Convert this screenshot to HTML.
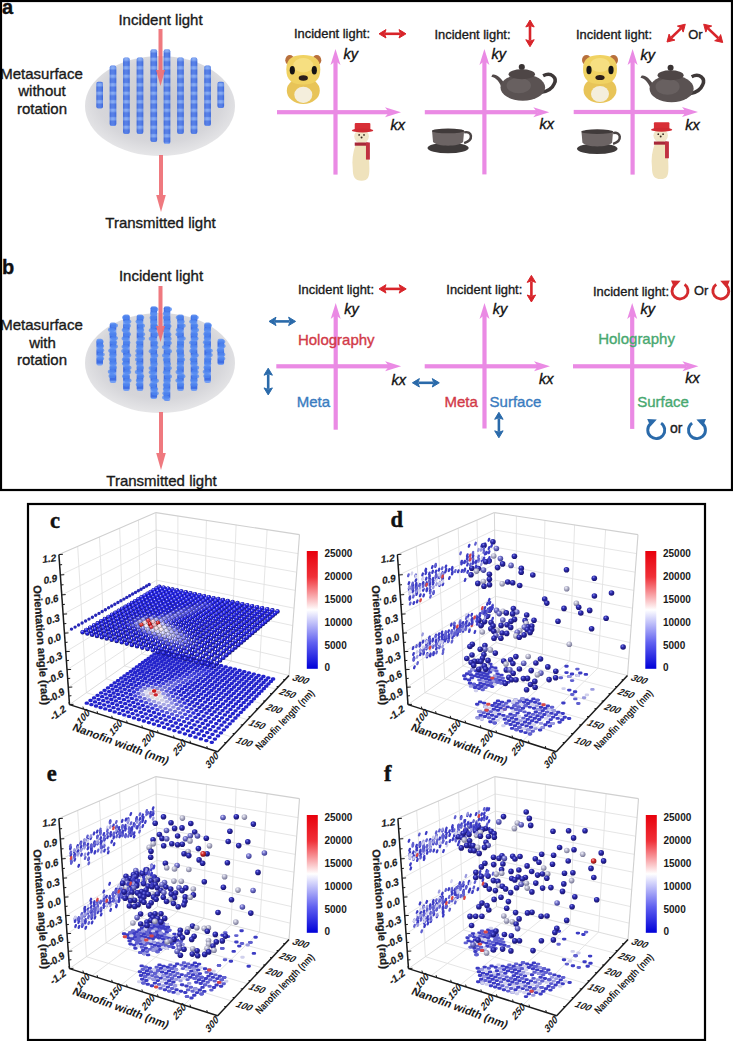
<!DOCTYPE html><html><head><meta charset="utf-8"><style>html,body{margin:0;padding:0;background:#fff;}body{width:733px;height:1041px;overflow:hidden;position:relative}svg{position:absolute;left:0;top:0}</style></head><body>
<svg width="733" height="1041" viewBox="0 0 733 1041">
<defs>
<radialGradient id="disc" cx="50%" cy="45%" r="55%"><stop offset="0" stop-color="#c9c9cf"/><stop offset="0.75" stop-color="#d6d6da"/><stop offset="1" stop-color="#e6e6e8"/></radialGradient>
<pattern id="pill" width="9" height="8.5" patternUnits="userSpaceOnUse" y="2"><rect width="9" height="8.5" fill="#3f6ee4"/><rect y="4.6" width="9" height="3" fill="#76a0f4"/><rect y="7.6" width="9" height="0.9" fill="#5a86ea"/></pattern>
<linearGradient id="pillshade" x1="0" y1="0" x2="1" y2="0"><stop offset="0" stop-color="#2a50c0" stop-opacity="0.35"/><stop offset="0.45" stop-color="#ffffff" stop-opacity="0.12"/><stop offset="1" stop-color="#2a50c0" stop-opacity="0.3"/></linearGradient>
</defs>
<rect width="733" height="1041" fill="#fff"/>
<ellipse cx="160" cy="106" rx="75" ry="50" fill="url(#disc)"/>
<rect x="96.4" y="81.8" width="6.6" height="26.6" fill="url(#pill)" rx="2"/>
<rect x="96.4" y="81.8" width="6.6" height="26.6" fill="url(#pillshade)" rx="2"/>
<rect x="109.7" y="65.5" width="6.6" height="60.5" fill="url(#pill)" rx="2"/>
<rect x="109.7" y="65.5" width="6.6" height="60.5" fill="url(#pillshade)" rx="2"/>
<rect x="123.1" y="57.4" width="6.6" height="76.6" fill="url(#pill)" rx="2"/>
<rect x="123.1" y="57.4" width="6.6" height="76.6" fill="url(#pillshade)" rx="2"/>
<rect x="136.7" y="57.4" width="6.6" height="76.6" fill="url(#pill)" rx="2"/>
<rect x="136.7" y="57.4" width="6.6" height="76.6" fill="url(#pillshade)" rx="2"/>
<rect x="150.5" y="49.3" width="6.6" height="92.7" fill="url(#pill)" rx="2"/>
<rect x="150.5" y="49.3" width="6.6" height="92.7" fill="url(#pillshade)" rx="2"/>
<rect x="163.7" y="49.3" width="6.6" height="94.7" fill="url(#pill)" rx="2"/>
<rect x="163.7" y="49.3" width="6.6" height="94.7" fill="url(#pillshade)" rx="2"/>
<rect x="177.2" y="57.4" width="6.6" height="76.6" fill="url(#pill)" rx="2"/>
<rect x="177.2" y="57.4" width="6.6" height="76.6" fill="url(#pillshade)" rx="2"/>
<rect x="190.7" y="57.4" width="6.6" height="76.6" fill="url(#pill)" rx="2"/>
<rect x="190.7" y="57.4" width="6.6" height="76.6" fill="url(#pillshade)" rx="2"/>
<rect x="204.3" y="65.5" width="6.6" height="60.5" fill="url(#pill)" rx="2"/>
<rect x="204.3" y="65.5" width="6.6" height="60.5" fill="url(#pillshade)" rx="2"/>
<rect x="217.5" y="81.8" width="6.6" height="26.2" fill="url(#pill)" rx="2"/>
<rect x="217.5" y="81.8" width="6.6" height="26.2" fill="url(#pillshade)" rx="2"/>
<rect x="158.5" y="29" width="4" height="41" fill="#ee6e74" opacity="0.92"/>
<path d="M156.0,70 L165.0,70 L160.5,86 Z" fill="#ee6e74" opacity="0.92"/>
<rect x="159.0" y="155" width="4" height="40" fill="#ee6e74" opacity="0.92"/>
<path d="M156.2,195 L165.8,195 L161,212 Z" fill="#ee6e74" opacity="0.92"/>
<text x="2" y="14.4" font-size="20" fill="#111" stroke="#111" stroke-width="0.35" font-weight="bold" font-style="normal" text-anchor="start" font-family='"Liberation Sans", sans-serif' >a</text>
<text x="41.5" y="79.4" font-size="15" fill="#1a1a1a" stroke="#1a1a1a" stroke-width="0.35" font-weight="normal" font-style="normal" text-anchor="middle" font-family='"Liberation Sans", sans-serif' >Metasurface</text>
<text x="42" y="96.4" font-size="15" fill="#1a1a1a" stroke="#1a1a1a" stroke-width="0.35" font-weight="normal" font-style="normal" text-anchor="middle" font-family='"Liberation Sans", sans-serif' >without</text>
<text x="42" y="113.9" font-size="15" fill="#1a1a1a" stroke="#1a1a1a" stroke-width="0.35" font-weight="normal" font-style="normal" text-anchor="middle" font-family='"Liberation Sans", sans-serif' >rotation</text>
<text x="160.5" y="25.4" font-size="15" fill="#1a1a1a" stroke="#1a1a1a" stroke-width="0.35" font-weight="normal" font-style="normal" text-anchor="middle" font-family='"Liberation Sans", sans-serif' >Incident light</text>
<text x="160.5" y="228.4" font-size="15" fill="#1a1a1a" stroke="#1a1a1a" stroke-width="0.35" font-weight="normal" font-style="normal" text-anchor="middle" font-family='"Liberation Sans", sans-serif' >Transmitted light</text>
<text x="294" y="38.4" font-size="12.9" fill="#1a1a1a" stroke="#1a1a1a" stroke-width="0.35" font-weight="normal" font-style="normal" text-anchor="start" font-family='"Liberation Sans", sans-serif' >Incident light:</text>
<line x1="385" y1="33.8" x2="400" y2="33.8" stroke="#d8242a" stroke-width="2.6"/>
<path d="M379,33.8 L386,29.599999999999998 L384.5,33.8 L386,38.0 Z" fill="#d8242a" stroke="#d8242a" stroke-width="1" stroke-linejoin="round"/>
<path d="M406,33.8 L399,29.599999999999998 L400.5,33.8 L399,38.0 Z" fill="#d8242a" stroke="#d8242a" stroke-width="1" stroke-linejoin="round"/>
<rect x="333.4" y="61" width="4.2" height="113.6" fill="#ea8ae4"/>
<rect x="277" y="110.10000000000001" width="112" height="4.2" fill="#ea8ae4"/>
<path d="M335.5,49 L340.5,65 L335.5,61 L330.5,65 Z" fill="#ea8ae4"/>
<path d="M401,112.2 L385,107.2 L389,112.2 L385,117.2 Z" fill="#ea8ae4"/>
<text x="343.5" y="59.4" font-size="14.5" fill="#111" stroke="#111" stroke-width="0.35" font-weight="normal" font-style="italic" text-anchor="start" font-family='"Liberation Sans", sans-serif' >ky</text>
<text x="390.5" y="130.0" font-size="14.5" fill="#111" stroke="#111" stroke-width="0.35" font-weight="normal" font-style="italic" text-anchor="start" font-family='"Liberation Sans", sans-serif' >kx</text>
<g transform="translate(283.3,53) scale(1.000,1.020)">
<ellipse cx="6.5" cy="7" rx="4.5" ry="5" fill="#b8703c"/>
<ellipse cx="33.5" cy="7" rx="4.5" ry="5" fill="#b8703c"/>
<ellipse cx="20" cy="37" rx="16.5" ry="13" fill="#e8c458"/>
<ellipse cx="20" cy="41" rx="9" ry="8" fill="#f4eedc"/>
<path d="M3,16 C3,5 10,2 20,2 C30,2 37,5 37,16 C37,27 31,31 20,31 C9,31 3,27 3,16 Z" fill="#f0d262"/>
<ellipse cx="20" cy="12" rx="10" ry="7" fill="#f8e28a" opacity="0.8"/>
<ellipse cx="9" cy="17" rx="2.6" ry="4.2" fill="#141414"/>
<ellipse cx="31" cy="17" rx="2.6" ry="4.2" fill="#141414"/>
<ellipse cx="20" cy="24.5" rx="4.6" ry="2.6" fill="#2a1e1a"/>
</g>
<g transform="translate(351.8,122.4) scale(0.977,1.005)">
<path d="M4,22 C1,30 0,38 1,46 C1,54 3,58 10,58 C17,58 18,54 18,46 C18,38 17,30 16,22 Z" fill="#efe2bc"/>
<ellipse cx="10" cy="14" rx="7.5" ry="7" fill="#f1e6c8"/>
<circle cx="7.5" cy="12.5" r="0.9" fill="#3a2a20"/><circle cx="12.5" cy="12.5" r="0.9" fill="#3a2a20"/><circle cx="10" cy="15" r="1" fill="#3a2a20"/>
<rect x="3" y="20" width="14" height="3.2" fill="#a8283a"/>
<rect x="14.5" y="20" width="4" height="17" fill="#c03040"/>
<rect x="3" y="0.5" width="16" height="7.5" rx="1" fill="#d82e36"/>
<ellipse cx="11" cy="8" rx="11" ry="2" fill="#d02a32"/>
</g>
<text x="434.5" y="39.0" font-size="12.9" fill="#1a1a1a" stroke="#1a1a1a" stroke-width="0.35" font-weight="normal" font-style="normal" text-anchor="start" font-family='"Liberation Sans", sans-serif' >Incident light:</text>
<line x1="530" y1="26" x2="530" y2="40.7" stroke="#d8242a" stroke-width="2.6"/>
<path d="M530,20 L525.8,27 L530,25.5 L534.2,27 Z" fill="#d8242a" stroke="#d8242a" stroke-width="1" stroke-linejoin="round"/>
<path d="M530,46.7 L525.8,39.7 L530,41.2 L534.2,39.7 Z" fill="#d8242a" stroke="#d8242a" stroke-width="1" stroke-linejoin="round"/>
<rect x="482.29999999999995" y="61" width="4.2" height="113.4" fill="#ea8ae4"/>
<rect x="424.8" y="110.10000000000001" width="112.49999999999994" height="4.2" fill="#ea8ae4"/>
<path d="M484.4,49 L489.4,65 L484.4,61 L479.4,65 Z" fill="#ea8ae4"/>
<path d="M549.3,112.2 L533.3,107.2 L537.3,112.2 L533.3,117.2 Z" fill="#ea8ae4"/>
<text x="491.4" y="59.1" font-size="14.5" fill="#111" stroke="#111" stroke-width="0.35" font-weight="normal" font-style="italic" text-anchor="start" font-family='"Liberation Sans", sans-serif' >ky</text>
<text x="539.5" y="128.9" font-size="14.5" fill="#111" stroke="#111" stroke-width="0.35" font-weight="normal" font-style="italic" text-anchor="start" font-family='"Liberation Sans", sans-serif' >kx</text>
<g transform="translate(490.3,62) scale(1.016,0.980)">
<path d="M2,13 C6,12 10,16 14,22 L16,28 L12,28 C9,20 6,16 1,15 Z" fill="#524a4a"/>
<path d="M52,14 C60,10 66,16 63,22 C61,27 56,30 50,31" fill="none" stroke="#3e3838" stroke-width="3.5"/>
<ellipse cx="32" cy="26" rx="22" ry="13.5" fill="#5a5252"/>
<ellipse cx="28" cy="24" rx="12" ry="8" fill="#6e6666" opacity="0.7"/>
<ellipse cx="31" cy="12.5" rx="13" ry="5" fill="#4e4646"/>
<circle cx="31" cy="5" r="3" fill="#3a3434"/>
</g>
<g transform="translate(427,128.5) scale(1.004,0.970)">
<path d="M37,4 C45,2 47,12 37,15" fill="none" stroke="#4a4444" stroke-width="2.5"/>
<ellipse cx="21" cy="20" rx="20.5" ry="5.5" fill="#3e3a3a"/>
<path d="M5,2 L37,2 L36,14 C32,19 10,19 6,14 Z" fill="#6c6464"/>
<ellipse cx="21" cy="2.5" rx="16" ry="2.5" fill="#403a3a"/>
</g>
<text x="576" y="38.6" font-size="12.9" fill="#1a1a1a" stroke="#1a1a1a" stroke-width="0.35" font-weight="normal" font-style="normal" text-anchor="start" font-family='"Liberation Sans", sans-serif' >Incident light:</text>
<line x1="671.3" y1="37.8" x2="681.0" y2="28.4" stroke="#d8242a" stroke-width="2.6"/>
<path d="M667.0,42.0 L674.9,40.1 L670.9,38.2 L669.1,34.1 Z" fill="#d8242a" stroke="#d8242a" stroke-width="1" stroke-linejoin="round"/>
<path d="M685.3,24.2 L683.2,32.1 L681.4,28.0 L677.4,26.1 Z" fill="#d8242a" stroke="#d8242a" stroke-width="1" stroke-linejoin="round"/>
<text x="688.3" y="38.6" font-size="12.9" fill="#1a1a1a" stroke="#1a1a1a" stroke-width="0.35" font-weight="normal" font-style="normal" text-anchor="start" font-family='"Liberation Sans", sans-serif' >Or</text>
<line x1="708.0" y1="28.4" x2="718.4" y2="38.3" stroke="#d8242a" stroke-width="2.6"/>
<path d="M703.7,24.2 L705.8,32.1 L707.7,28.0 L711.7,26.0 Z" fill="#d8242a" stroke="#d8242a" stroke-width="1" stroke-linejoin="round"/>
<path d="M722.7,42.5 L714.7,40.7 L718.7,38.7 L720.6,34.6 Z" fill="#d8242a" stroke="#d8242a" stroke-width="1" stroke-linejoin="round"/>
<rect x="630.5" y="61" width="4.2" height="113.6" fill="#ea8ae4"/>
<rect x="573.7" y="109.9" width="112.29999999999995" height="4.2" fill="#ea8ae4"/>
<path d="M632.6,49 L637.6,65 L632.6,61 L627.6,65 Z" fill="#ea8ae4"/>
<path d="M698,112 L682,107 L686,112 L682,117 Z" fill="#ea8ae4"/>
<text x="640.6" y="59.7" font-size="14.5" fill="#111" stroke="#111" stroke-width="0.35" font-weight="normal" font-style="italic" text-anchor="start" font-family='"Liberation Sans", sans-serif' >ky</text>
<text x="685.3" y="129.6" font-size="14.5" fill="#111" stroke="#111" stroke-width="0.35" font-weight="normal" font-style="italic" text-anchor="start" font-family='"Liberation Sans", sans-serif' >kx</text>
<g transform="translate(580,53) scale(1.000,1.000)">
<ellipse cx="6.5" cy="7" rx="4.5" ry="5" fill="#b8703c"/>
<ellipse cx="33.5" cy="7" rx="4.5" ry="5" fill="#b8703c"/>
<ellipse cx="20" cy="37" rx="16.5" ry="13" fill="#e8c458"/>
<ellipse cx="20" cy="41" rx="9" ry="8" fill="#f4eedc"/>
<path d="M3,16 C3,5 10,2 20,2 C30,2 37,5 37,16 C37,27 31,31 20,31 C9,31 3,27 3,16 Z" fill="#f0d262"/>
<ellipse cx="20" cy="12" rx="10" ry="7" fill="#f8e28a" opacity="0.8"/>
<ellipse cx="9" cy="17" rx="2.6" ry="4.2" fill="#141414"/>
<ellipse cx="31" cy="17" rx="2.6" ry="4.2" fill="#141414"/>
<ellipse cx="20" cy="24.5" rx="4.6" ry="2.6" fill="#2a1e1a"/>
</g>
<g transform="translate(639.5,62.7) scale(1.003,1.002)">
<path d="M2,13 C6,12 10,16 14,22 L16,28 L12,28 C9,20 6,16 1,15 Z" fill="#524a4a"/>
<path d="M52,14 C60,10 66,16 63,22 C61,27 56,30 50,31" fill="none" stroke="#3e3838" stroke-width="3.5"/>
<ellipse cx="32" cy="26" rx="22" ry="13.5" fill="#5a5252"/>
<ellipse cx="28" cy="24" rx="12" ry="8" fill="#6e6666" opacity="0.7"/>
<ellipse cx="31" cy="12.5" rx="13" ry="5" fill="#4e4646"/>
<circle cx="31" cy="5" r="3" fill="#3a3434"/>
</g>
<g transform="translate(576.5,129.2) scale(0.989,0.974)">
<path d="M37,4 C45,2 47,12 37,15" fill="none" stroke="#4a4444" stroke-width="2.5"/>
<ellipse cx="21" cy="20" rx="20.5" ry="5.5" fill="#3e3a3a"/>
<path d="M5,2 L37,2 L36,14 C32,19 10,19 6,14 Z" fill="#6c6464"/>
<ellipse cx="21" cy="2.5" rx="16" ry="2.5" fill="#403a3a"/>
</g>
<g transform="translate(651,121.8) scale(0.968,0.986)">
<path d="M4,22 C1,30 0,38 1,46 C1,54 3,58 10,58 C17,58 18,54 18,46 C18,38 17,30 16,22 Z" fill="#efe2bc"/>
<ellipse cx="10" cy="14" rx="7.5" ry="7" fill="#f1e6c8"/>
<circle cx="7.5" cy="12.5" r="0.9" fill="#3a2a20"/><circle cx="12.5" cy="12.5" r="0.9" fill="#3a2a20"/><circle cx="10" cy="15" r="1" fill="#3a2a20"/>
<rect x="3" y="20" width="14" height="3.2" fill="#a8283a"/>
<rect x="14.5" y="20" width="4" height="17" fill="#c03040"/>
<rect x="3" y="0.5" width="16" height="7.5" rx="1" fill="#d82e36"/>
<ellipse cx="11" cy="8" rx="11" ry="2" fill="#d02a32"/>
</g>
<ellipse cx="160" cy="363" rx="75" ry="50" fill="url(#disc)"/>
<rect x="96.4" y="338.8" width="6.6" height="26.6" fill="url(#pill)" rx="2"/>
<ellipse cx="100.1" cy="341.8" rx="3.6" ry="2.2" fill="#5288f0" opacity="0.75"/>
<ellipse cx="100.5" cy="346.0" rx="3.6" ry="2.2" fill="#5288f0" opacity="0.75"/>
<ellipse cx="100.6" cy="350.2" rx="3.6" ry="2.2" fill="#5288f0" opacity="0.75"/>
<ellipse cx="101.1" cy="354.4" rx="3.6" ry="2.2" fill="#5288f0" opacity="0.75"/>
<ellipse cx="100.5" cy="358.6" rx="3.6" ry="2.2" fill="#5288f0" opacity="0.75"/>
<rect x="109.7" y="322.5" width="6.6" height="60.5" fill="url(#pill)" rx="2"/>
<ellipse cx="114.4" cy="325.5" rx="3.6" ry="2.2" fill="#5288f0" opacity="0.75"/>
<ellipse cx="111.5" cy="329.7" rx="3.6" ry="2.2" fill="#5288f0" opacity="0.75"/>
<ellipse cx="112.9" cy="333.9" rx="3.6" ry="2.2" fill="#5288f0" opacity="0.75"/>
<ellipse cx="114.4" cy="338.1" rx="3.6" ry="2.2" fill="#5288f0" opacity="0.75"/>
<ellipse cx="113.5" cy="342.3" rx="3.6" ry="2.2" fill="#5288f0" opacity="0.75"/>
<ellipse cx="114.3" cy="346.5" rx="3.6" ry="2.2" fill="#5288f0" opacity="0.75"/>
<ellipse cx="111.8" cy="350.7" rx="3.6" ry="2.2" fill="#5288f0" opacity="0.75"/>
<ellipse cx="112.9" cy="354.9" rx="3.6" ry="2.2" fill="#5288f0" opacity="0.75"/>
<ellipse cx="112.2" cy="359.1" rx="3.6" ry="2.2" fill="#5288f0" opacity="0.75"/>
<ellipse cx="113.1" cy="363.3" rx="3.6" ry="2.2" fill="#5288f0" opacity="0.75"/>
<ellipse cx="113.2" cy="367.5" rx="3.6" ry="2.2" fill="#5288f0" opacity="0.75"/>
<ellipse cx="111.4" cy="371.7" rx="3.6" ry="2.2" fill="#5288f0" opacity="0.75"/>
<ellipse cx="112.1" cy="375.9" rx="3.6" ry="2.2" fill="#5288f0" opacity="0.75"/>
<rect x="123.1" y="314.4" width="6.6" height="76.6" fill="url(#pill)" rx="2"/>
<ellipse cx="125.7" cy="317.4" rx="3.6" ry="2.2" fill="#5288f0" opacity="0.75"/>
<ellipse cx="127.7" cy="321.6" rx="3.6" ry="2.2" fill="#5288f0" opacity="0.75"/>
<ellipse cx="127.3" cy="325.8" rx="3.6" ry="2.2" fill="#5288f0" opacity="0.75"/>
<ellipse cx="125.3" cy="330.0" rx="3.6" ry="2.2" fill="#5288f0" opacity="0.75"/>
<ellipse cx="127.4" cy="334.2" rx="3.6" ry="2.2" fill="#5288f0" opacity="0.75"/>
<ellipse cx="125.2" cy="338.4" rx="3.6" ry="2.2" fill="#5288f0" opacity="0.75"/>
<ellipse cx="126.8" cy="342.6" rx="3.6" ry="2.2" fill="#5288f0" opacity="0.75"/>
<ellipse cx="125.2" cy="346.8" rx="3.6" ry="2.2" fill="#5288f0" opacity="0.75"/>
<ellipse cx="124.8" cy="351.0" rx="3.6" ry="2.2" fill="#5288f0" opacity="0.75"/>
<ellipse cx="127.6" cy="355.2" rx="3.6" ry="2.2" fill="#5288f0" opacity="0.75"/>
<ellipse cx="125.5" cy="359.4" rx="3.6" ry="2.2" fill="#5288f0" opacity="0.75"/>
<ellipse cx="125.5" cy="363.6" rx="3.6" ry="2.2" fill="#5288f0" opacity="0.75"/>
<ellipse cx="127.9" cy="367.8" rx="3.6" ry="2.2" fill="#5288f0" opacity="0.75"/>
<ellipse cx="127.6" cy="372.0" rx="3.6" ry="2.2" fill="#5288f0" opacity="0.75"/>
<ellipse cx="125.7" cy="376.2" rx="3.6" ry="2.2" fill="#5288f0" opacity="0.75"/>
<ellipse cx="127.9" cy="380.4" rx="3.6" ry="2.2" fill="#5288f0" opacity="0.75"/>
<ellipse cx="126.5" cy="384.6" rx="3.6" ry="2.2" fill="#5288f0" opacity="0.75"/>
<rect x="136.7" y="314.4" width="6.6" height="76.6" fill="url(#pill)" rx="2"/>
<ellipse cx="140.6" cy="317.4" rx="3.6" ry="2.2" fill="#5288f0" opacity="0.75"/>
<ellipse cx="139.1" cy="321.6" rx="3.6" ry="2.2" fill="#5288f0" opacity="0.75"/>
<ellipse cx="141.4" cy="325.8" rx="3.6" ry="2.2" fill="#5288f0" opacity="0.75"/>
<ellipse cx="140.6" cy="330.0" rx="3.6" ry="2.2" fill="#5288f0" opacity="0.75"/>
<ellipse cx="141.5" cy="334.2" rx="3.6" ry="2.2" fill="#5288f0" opacity="0.75"/>
<ellipse cx="141.3" cy="338.4" rx="3.6" ry="2.2" fill="#5288f0" opacity="0.75"/>
<ellipse cx="139.4" cy="342.6" rx="3.6" ry="2.2" fill="#5288f0" opacity="0.75"/>
<ellipse cx="139.6" cy="346.8" rx="3.6" ry="2.2" fill="#5288f0" opacity="0.75"/>
<ellipse cx="138.9" cy="351.0" rx="3.6" ry="2.2" fill="#5288f0" opacity="0.75"/>
<ellipse cx="138.9" cy="355.2" rx="3.6" ry="2.2" fill="#5288f0" opacity="0.75"/>
<ellipse cx="138.6" cy="359.4" rx="3.6" ry="2.2" fill="#5288f0" opacity="0.75"/>
<ellipse cx="139.4" cy="363.6" rx="3.6" ry="2.2" fill="#5288f0" opacity="0.75"/>
<ellipse cx="140.3" cy="367.8" rx="3.6" ry="2.2" fill="#5288f0" opacity="0.75"/>
<ellipse cx="138.4" cy="372.0" rx="3.6" ry="2.2" fill="#5288f0" opacity="0.75"/>
<ellipse cx="140.6" cy="376.2" rx="3.6" ry="2.2" fill="#5288f0" opacity="0.75"/>
<ellipse cx="139.5" cy="380.4" rx="3.6" ry="2.2" fill="#5288f0" opacity="0.75"/>
<ellipse cx="139.4" cy="384.6" rx="3.6" ry="2.2" fill="#5288f0" opacity="0.75"/>
<rect x="150.5" y="306.3" width="6.6" height="92.7" fill="url(#pill)" rx="2"/>
<ellipse cx="154.8" cy="309.3" rx="3.6" ry="2.2" fill="#5288f0" opacity="0.75"/>
<ellipse cx="153.7" cy="313.5" rx="3.6" ry="2.2" fill="#5288f0" opacity="0.75"/>
<ellipse cx="153.2" cy="317.7" rx="3.6" ry="2.2" fill="#5288f0" opacity="0.75"/>
<ellipse cx="153.7" cy="321.9" rx="3.6" ry="2.2" fill="#5288f0" opacity="0.75"/>
<ellipse cx="154.5" cy="326.1" rx="3.6" ry="2.2" fill="#5288f0" opacity="0.75"/>
<ellipse cx="152.4" cy="330.3" rx="3.6" ry="2.2" fill="#5288f0" opacity="0.75"/>
<ellipse cx="155.3" cy="334.5" rx="3.6" ry="2.2" fill="#5288f0" opacity="0.75"/>
<ellipse cx="152.3" cy="338.7" rx="3.6" ry="2.2" fill="#5288f0" opacity="0.75"/>
<ellipse cx="154.6" cy="342.9" rx="3.6" ry="2.2" fill="#5288f0" opacity="0.75"/>
<ellipse cx="154.9" cy="347.1" rx="3.6" ry="2.2" fill="#5288f0" opacity="0.75"/>
<ellipse cx="152.3" cy="351.3" rx="3.6" ry="2.2" fill="#5288f0" opacity="0.75"/>
<ellipse cx="154.7" cy="355.5" rx="3.6" ry="2.2" fill="#5288f0" opacity="0.75"/>
<ellipse cx="153.4" cy="359.7" rx="3.6" ry="2.2" fill="#5288f0" opacity="0.75"/>
<ellipse cx="154.1" cy="363.9" rx="3.6" ry="2.2" fill="#5288f0" opacity="0.75"/>
<ellipse cx="152.2" cy="368.1" rx="3.6" ry="2.2" fill="#5288f0" opacity="0.75"/>
<ellipse cx="152.3" cy="372.3" rx="3.6" ry="2.2" fill="#5288f0" opacity="0.75"/>
<ellipse cx="152.8" cy="376.5" rx="3.6" ry="2.2" fill="#5288f0" opacity="0.75"/>
<ellipse cx="155.3" cy="380.7" rx="3.6" ry="2.2" fill="#5288f0" opacity="0.75"/>
<ellipse cx="152.8" cy="384.9" rx="3.6" ry="2.2" fill="#5288f0" opacity="0.75"/>
<ellipse cx="154.6" cy="389.1" rx="3.6" ry="2.2" fill="#5288f0" opacity="0.75"/>
<ellipse cx="155.2" cy="393.3" rx="3.6" ry="2.2" fill="#5288f0" opacity="0.75"/>
<rect x="163.7" y="306.3" width="6.6" height="94.7" fill="url(#pill)" rx="2"/>
<ellipse cx="168.4" cy="309.3" rx="3.6" ry="2.2" fill="#5288f0" opacity="0.75"/>
<ellipse cx="166.5" cy="313.5" rx="3.6" ry="2.2" fill="#5288f0" opacity="0.75"/>
<ellipse cx="166.5" cy="317.7" rx="3.6" ry="2.2" fill="#5288f0" opacity="0.75"/>
<ellipse cx="167.1" cy="321.9" rx="3.6" ry="2.2" fill="#5288f0" opacity="0.75"/>
<ellipse cx="167.9" cy="326.1" rx="3.6" ry="2.2" fill="#5288f0" opacity="0.75"/>
<ellipse cx="165.7" cy="330.3" rx="3.6" ry="2.2" fill="#5288f0" opacity="0.75"/>
<ellipse cx="167.8" cy="334.5" rx="3.6" ry="2.2" fill="#5288f0" opacity="0.75"/>
<ellipse cx="168.0" cy="338.7" rx="3.6" ry="2.2" fill="#5288f0" opacity="0.75"/>
<ellipse cx="168.2" cy="342.9" rx="3.6" ry="2.2" fill="#5288f0" opacity="0.75"/>
<ellipse cx="165.5" cy="347.1" rx="3.6" ry="2.2" fill="#5288f0" opacity="0.75"/>
<ellipse cx="168.4" cy="351.3" rx="3.6" ry="2.2" fill="#5288f0" opacity="0.75"/>
<ellipse cx="165.7" cy="355.5" rx="3.6" ry="2.2" fill="#5288f0" opacity="0.75"/>
<ellipse cx="166.5" cy="359.7" rx="3.6" ry="2.2" fill="#5288f0" opacity="0.75"/>
<ellipse cx="167.4" cy="363.9" rx="3.6" ry="2.2" fill="#5288f0" opacity="0.75"/>
<ellipse cx="168.3" cy="368.1" rx="3.6" ry="2.2" fill="#5288f0" opacity="0.75"/>
<ellipse cx="166.5" cy="372.3" rx="3.6" ry="2.2" fill="#5288f0" opacity="0.75"/>
<ellipse cx="168.4" cy="376.5" rx="3.6" ry="2.2" fill="#5288f0" opacity="0.75"/>
<ellipse cx="167.1" cy="380.7" rx="3.6" ry="2.2" fill="#5288f0" opacity="0.75"/>
<ellipse cx="166.4" cy="384.9" rx="3.6" ry="2.2" fill="#5288f0" opacity="0.75"/>
<ellipse cx="166.4" cy="389.1" rx="3.6" ry="2.2" fill="#5288f0" opacity="0.75"/>
<ellipse cx="166.0" cy="393.3" rx="3.6" ry="2.2" fill="#5288f0" opacity="0.75"/>
<ellipse cx="165.7" cy="397.5" rx="3.6" ry="2.2" fill="#5288f0" opacity="0.75"/>
<rect x="177.2" y="314.4" width="6.6" height="76.6" fill="url(#pill)" rx="2"/>
<ellipse cx="179.4" cy="317.4" rx="3.6" ry="2.2" fill="#5288f0" opacity="0.75"/>
<ellipse cx="181.1" cy="321.6" rx="3.6" ry="2.2" fill="#5288f0" opacity="0.75"/>
<ellipse cx="182.1" cy="325.8" rx="3.6" ry="2.2" fill="#5288f0" opacity="0.75"/>
<ellipse cx="179.4" cy="330.0" rx="3.6" ry="2.2" fill="#5288f0" opacity="0.75"/>
<ellipse cx="179.1" cy="334.2" rx="3.6" ry="2.2" fill="#5288f0" opacity="0.75"/>
<ellipse cx="182.1" cy="338.4" rx="3.6" ry="2.2" fill="#5288f0" opacity="0.75"/>
<ellipse cx="180.6" cy="342.6" rx="3.6" ry="2.2" fill="#5288f0" opacity="0.75"/>
<ellipse cx="180.2" cy="346.8" rx="3.6" ry="2.2" fill="#5288f0" opacity="0.75"/>
<ellipse cx="179.7" cy="351.0" rx="3.6" ry="2.2" fill="#5288f0" opacity="0.75"/>
<ellipse cx="180.8" cy="355.2" rx="3.6" ry="2.2" fill="#5288f0" opacity="0.75"/>
<ellipse cx="181.5" cy="359.4" rx="3.6" ry="2.2" fill="#5288f0" opacity="0.75"/>
<ellipse cx="180.4" cy="363.6" rx="3.6" ry="2.2" fill="#5288f0" opacity="0.75"/>
<ellipse cx="180.2" cy="367.8" rx="3.6" ry="2.2" fill="#5288f0" opacity="0.75"/>
<ellipse cx="179.1" cy="372.0" rx="3.6" ry="2.2" fill="#5288f0" opacity="0.75"/>
<ellipse cx="181.8" cy="376.2" rx="3.6" ry="2.2" fill="#5288f0" opacity="0.75"/>
<ellipse cx="179.0" cy="380.4" rx="3.6" ry="2.2" fill="#5288f0" opacity="0.75"/>
<ellipse cx="180.5" cy="384.6" rx="3.6" ry="2.2" fill="#5288f0" opacity="0.75"/>
<rect x="190.7" y="314.4" width="6.6" height="76.6" fill="url(#pill)" rx="2"/>
<ellipse cx="195.1" cy="317.4" rx="3.6" ry="2.2" fill="#5288f0" opacity="0.75"/>
<ellipse cx="192.8" cy="321.6" rx="3.6" ry="2.2" fill="#5288f0" opacity="0.75"/>
<ellipse cx="194.7" cy="325.8" rx="3.6" ry="2.2" fill="#5288f0" opacity="0.75"/>
<ellipse cx="195.4" cy="330.0" rx="3.6" ry="2.2" fill="#5288f0" opacity="0.75"/>
<ellipse cx="194.4" cy="334.2" rx="3.6" ry="2.2" fill="#5288f0" opacity="0.75"/>
<ellipse cx="194.9" cy="338.4" rx="3.6" ry="2.2" fill="#5288f0" opacity="0.75"/>
<ellipse cx="192.7" cy="342.6" rx="3.6" ry="2.2" fill="#5288f0" opacity="0.75"/>
<ellipse cx="193.8" cy="346.8" rx="3.6" ry="2.2" fill="#5288f0" opacity="0.75"/>
<ellipse cx="192.9" cy="351.0" rx="3.6" ry="2.2" fill="#5288f0" opacity="0.75"/>
<ellipse cx="195.1" cy="355.2" rx="3.6" ry="2.2" fill="#5288f0" opacity="0.75"/>
<ellipse cx="193.3" cy="359.4" rx="3.6" ry="2.2" fill="#5288f0" opacity="0.75"/>
<ellipse cx="193.9" cy="363.6" rx="3.6" ry="2.2" fill="#5288f0" opacity="0.75"/>
<ellipse cx="195.6" cy="367.8" rx="3.6" ry="2.2" fill="#5288f0" opacity="0.75"/>
<ellipse cx="195.1" cy="372.0" rx="3.6" ry="2.2" fill="#5288f0" opacity="0.75"/>
<ellipse cx="195.5" cy="376.2" rx="3.6" ry="2.2" fill="#5288f0" opacity="0.75"/>
<ellipse cx="193.9" cy="380.4" rx="3.6" ry="2.2" fill="#5288f0" opacity="0.75"/>
<ellipse cx="194.0" cy="384.6" rx="3.6" ry="2.2" fill="#5288f0" opacity="0.75"/>
<rect x="204.3" y="322.5" width="6.6" height="60.5" fill="url(#pill)" rx="2"/>
<ellipse cx="208.3" cy="325.5" rx="3.6" ry="2.2" fill="#5288f0" opacity="0.75"/>
<ellipse cx="207.5" cy="329.7" rx="3.6" ry="2.2" fill="#5288f0" opacity="0.75"/>
<ellipse cx="206.9" cy="333.9" rx="3.6" ry="2.2" fill="#5288f0" opacity="0.75"/>
<ellipse cx="207.3" cy="338.1" rx="3.6" ry="2.2" fill="#5288f0" opacity="0.75"/>
<ellipse cx="206.5" cy="342.3" rx="3.6" ry="2.2" fill="#5288f0" opacity="0.75"/>
<ellipse cx="207.2" cy="346.5" rx="3.6" ry="2.2" fill="#5288f0" opacity="0.75"/>
<ellipse cx="209.2" cy="350.7" rx="3.6" ry="2.2" fill="#5288f0" opacity="0.75"/>
<ellipse cx="209.1" cy="354.9" rx="3.6" ry="2.2" fill="#5288f0" opacity="0.75"/>
<ellipse cx="208.0" cy="359.1" rx="3.6" ry="2.2" fill="#5288f0" opacity="0.75"/>
<ellipse cx="207.6" cy="363.3" rx="3.6" ry="2.2" fill="#5288f0" opacity="0.75"/>
<ellipse cx="207.1" cy="367.5" rx="3.6" ry="2.2" fill="#5288f0" opacity="0.75"/>
<ellipse cx="206.3" cy="371.7" rx="3.6" ry="2.2" fill="#5288f0" opacity="0.75"/>
<ellipse cx="206.9" cy="375.9" rx="3.6" ry="2.2" fill="#5288f0" opacity="0.75"/>
<rect x="217.5" y="338.8" width="6.6" height="26.2" fill="url(#pill)" rx="2"/>
<ellipse cx="221.7" cy="341.8" rx="3.6" ry="2.2" fill="#5288f0" opacity="0.75"/>
<ellipse cx="222.0" cy="346.0" rx="3.6" ry="2.2" fill="#5288f0" opacity="0.75"/>
<ellipse cx="220.4" cy="350.2" rx="3.6" ry="2.2" fill="#5288f0" opacity="0.75"/>
<ellipse cx="221.7" cy="354.4" rx="3.6" ry="2.2" fill="#5288f0" opacity="0.75"/>
<ellipse cx="221.7" cy="358.6" rx="3.6" ry="2.2" fill="#5288f0" opacity="0.75"/>
<rect x="158.5" y="286" width="4" height="40" fill="#ee6e74" opacity="0.92"/>
<path d="M156.0,326 L165.0,326 L160.5,342 Z" fill="#ee6e74" opacity="0.92"/>
<rect x="159.0" y="412" width="4" height="41" fill="#ee6e74" opacity="0.92"/>
<path d="M156.2,453 L165.8,453 L161,470 Z" fill="#ee6e74" opacity="0.92"/>
<text x="2" y="274.4" font-size="20" fill="#111" stroke="#111" stroke-width="0.35" font-weight="bold" font-style="normal" text-anchor="start" font-family='"Liberation Sans", sans-serif' >b</text>
<text x="41.5" y="329.8" font-size="15" fill="#1a1a1a" stroke="#1a1a1a" stroke-width="0.35" font-weight="normal" font-style="normal" text-anchor="middle" font-family='"Liberation Sans", sans-serif' >Metasurface</text>
<text x="42.5" y="347.8" font-size="15" fill="#1a1a1a" stroke="#1a1a1a" stroke-width="0.35" font-weight="normal" font-style="normal" text-anchor="middle" font-family='"Liberation Sans", sans-serif' >with</text>
<text x="42" y="364.9" font-size="15" fill="#1a1a1a" stroke="#1a1a1a" stroke-width="0.35" font-weight="normal" font-style="normal" text-anchor="middle" font-family='"Liberation Sans", sans-serif' >rotation</text>
<text x="161" y="281.4" font-size="15" fill="#1a1a1a" stroke="#1a1a1a" stroke-width="0.35" font-weight="normal" font-style="normal" text-anchor="middle" font-family='"Liberation Sans", sans-serif' >Incident light</text>
<text x="161.5" y="486.0" font-size="15" fill="#1a1a1a" stroke="#1a1a1a" stroke-width="0.35" font-weight="normal" font-style="normal" text-anchor="middle" font-family='"Liberation Sans", sans-serif' >Transmitted light</text>
<text x="298" y="294.4" font-size="12.9" fill="#1a1a1a" stroke="#1a1a1a" stroke-width="0.35" font-weight="normal" font-style="normal" text-anchor="start" font-family='"Liberation Sans", sans-serif' >Incident light:</text>
<line x1="385" y1="288.9" x2="400.2" y2="288.9" stroke="#d8242a" stroke-width="2.6"/>
<path d="M379,288.9 L386,284.7 L384.5,288.9 L386,293.09999999999997 Z" fill="#d8242a" stroke="#d8242a" stroke-width="1" stroke-linejoin="round"/>
<path d="M406.2,288.9 L399.2,284.7 L400.7,288.9 L399.2,293.09999999999997 Z" fill="#d8242a" stroke="#d8242a" stroke-width="1" stroke-linejoin="round"/>
<rect x="333.59999999999997" y="315" width="4.2" height="114.69999999999999" fill="#ea8ae4"/>
<rect x="276.3" y="364.2" width="112.80000000000001" height="4.2" fill="#ea8ae4"/>
<path d="M335.7,303 L340.7,319 L335.7,315 L330.7,319 Z" fill="#ea8ae4"/>
<path d="M401.1,366.3 L385.1,361.3 L389.1,366.3 L385.1,371.3 Z" fill="#ea8ae4"/>
<text x="344.3" y="314.1" font-size="14.5" fill="#111" stroke="#111" stroke-width="0.35" font-weight="normal" font-style="italic" text-anchor="start" font-family='"Liberation Sans", sans-serif' >ky</text>
<text x="391.4" y="384.8" font-size="14.5" fill="#111" stroke="#111" stroke-width="0.35" font-weight="normal" font-style="italic" text-anchor="start" font-family='"Liberation Sans", sans-serif' >kx</text>
<line x1="275" y1="321.4" x2="289.6" y2="321.4" stroke="#2a6aaa" stroke-width="2.6"/>
<path d="M269,321.4 L276,317.2 L274.5,321.4 L276,325.59999999999997 Z" fill="#2a6aaa" stroke="#2a6aaa" stroke-width="1" stroke-linejoin="round"/>
<path d="M295.6,321.4 L288.6,317.2 L290.1,321.4 L288.6,325.59999999999997 Z" fill="#2a6aaa" stroke="#2a6aaa" stroke-width="1" stroke-linejoin="round"/>
<line x1="268.2" y1="374.2" x2="268.2" y2="388.9" stroke="#2a6aaa" stroke-width="2.6"/>
<path d="M268.2,368.2 L264.0,375.2 L268.2,373.7 L272.4,375.2 Z" fill="#2a6aaa" stroke="#2a6aaa" stroke-width="1" stroke-linejoin="round"/>
<path d="M268.2,394.9 L264.0,387.9 L268.2,389.4 L272.4,387.9 Z" fill="#2a6aaa" stroke="#2a6aaa" stroke-width="1" stroke-linejoin="round"/>
<text x="297.9" y="345.4" font-size="15" fill="#d23a48" stroke="#d23a48" stroke-width="0.35" font-weight="normal" font-style="normal" text-anchor="start" font-family='"Liberation Sans", sans-serif' >Holography</text>
<text x="296.7" y="407.3" font-size="15" fill="#3a7cc0" stroke="#3a7cc0" stroke-width="0.35" font-weight="normal" font-style="normal" text-anchor="start" font-family='"Liberation Sans", sans-serif' >Meta</text>
<text x="446.3" y="294.4" font-size="12.9" fill="#1a1a1a" stroke="#1a1a1a" stroke-width="0.35" font-weight="normal" font-style="normal" text-anchor="start" font-family='"Liberation Sans", sans-serif' >Incident light:</text>
<line x1="531.4" y1="281.4" x2="531.4" y2="296" stroke="#d8242a" stroke-width="2.6"/>
<path d="M531.4,275.4 L527.1999999999999,282.4 L531.4,280.9 L535.6,282.4 Z" fill="#d8242a" stroke="#d8242a" stroke-width="1" stroke-linejoin="round"/>
<path d="M531.4,302 L527.1999999999999,295 L531.4,296.5 L535.6,295 Z" fill="#d8242a" stroke="#d8242a" stroke-width="1" stroke-linejoin="round"/>
<rect x="482.4" y="315" width="4.2" height="113.5" fill="#ea8ae4"/>
<rect x="424.7" y="364.2" width="113.30000000000001" height="4.2" fill="#ea8ae4"/>
<path d="M484.5,303 L489.5,319 L484.5,315 L479.5,319 Z" fill="#ea8ae4"/>
<path d="M550,366.3 L534,361.3 L538,366.3 L534,371.3 Z" fill="#ea8ae4"/>
<text x="492.7" y="314.1" font-size="14.5" fill="#111" stroke="#111" stroke-width="0.35" font-weight="normal" font-style="italic" text-anchor="start" font-family='"Liberation Sans", sans-serif' >ky</text>
<text x="539" y="384.4" font-size="14.5" fill="#111" stroke="#111" stroke-width="0.35" font-weight="normal" font-style="italic" text-anchor="start" font-family='"Liberation Sans", sans-serif' >kx</text>
<line x1="418.4" y1="382.8" x2="433.3" y2="382.8" stroke="#2a6aaa" stroke-width="2.6"/>
<path d="M412.4,382.8 L419.4,378.6 L417.9,382.8 L419.4,387.0 Z" fill="#2a6aaa" stroke="#2a6aaa" stroke-width="1" stroke-linejoin="round"/>
<path d="M439.3,382.8 L432.3,378.6 L433.8,382.8 L432.3,387.0 Z" fill="#2a6aaa" stroke="#2a6aaa" stroke-width="1" stroke-linejoin="round"/>
<line x1="498.9" y1="418.3" x2="498.9" y2="431.8" stroke="#2a6aaa" stroke-width="2.6"/>
<path d="M498.9,412.3 L494.7,419.3 L498.9,417.8 L503.09999999999997,419.3 Z" fill="#2a6aaa" stroke="#2a6aaa" stroke-width="1" stroke-linejoin="round"/>
<path d="M498.9,437.8 L494.7,430.8 L498.9,432.3 L503.09999999999997,430.8 Z" fill="#2a6aaa" stroke="#2a6aaa" stroke-width="1" stroke-linejoin="round"/>
<text x="444.4" y="407.4" font-size="15" fill="#d23a48" stroke="#d23a48" stroke-width="0.35" font-weight="normal" font-style="normal" text-anchor="start" font-family='"Liberation Sans", sans-serif' >Meta</text>
<text x="489.6" y="407.4" font-size="15" fill="#3a7cc0" stroke="#3a7cc0" stroke-width="0.35" font-weight="normal" font-style="normal" text-anchor="start" font-family='"Liberation Sans", sans-serif' >Surface</text>
<text x="593" y="295.9" font-size="12.9" fill="#1a1a1a" stroke="#1a1a1a" stroke-width="0.35" font-weight="normal" font-style="normal" text-anchor="start" font-family='"Liberation Sans", sans-serif' >Incident light:</text>
<path d="M684.6,284.4 A8,8 0 1 1 674.3,285.3" fill="none" stroke="#d42a2e" stroke-width="2.9"/>
<path d="M671.0,280.4 L680.6,280.8 L674.2,288.0 Z" fill="#d42a2e"/>
<text x="693.9" y="295.4" font-size="12.9" fill="#1a1a1a" stroke="#1a1a1a" stroke-width="0.35" font-weight="normal" font-style="normal" text-anchor="start" font-family='"Liberation Sans", sans-serif' >Or</text>
<path d="M716.2,284.4 A8,8 0 1 0 726.5,285.3" fill="none" stroke="#d42a2e" stroke-width="2.9"/>
<path d="M729.8,280.4 L720.2,280.8 L726.6,288.0 Z" fill="#d42a2e"/>
<rect x="630.1" y="315" width="4.2" height="113.89999999999998" fill="#ea8ae4"/>
<rect x="573" y="364.2" width="113.39999999999998" height="4.2" fill="#ea8ae4"/>
<path d="M632.2,303 L637.2,319 L632.2,315 L627.2,319 Z" fill="#ea8ae4"/>
<path d="M698.4,366.3 L682.4,361.3 L686.4,366.3 L682.4,371.3 Z" fill="#ea8ae4"/>
<text x="640.6" y="313.5" font-size="14.5" fill="#111" stroke="#111" stroke-width="0.35" font-weight="normal" font-style="italic" text-anchor="start" font-family='"Liberation Sans", sans-serif' >ky</text>
<text x="685.3" y="383.4" font-size="14.5" fill="#111" stroke="#111" stroke-width="0.35" font-weight="normal" font-style="italic" text-anchor="start" font-family='"Liberation Sans", sans-serif' >kx</text>
<text x="598.2" y="344.4" font-size="15" fill="#48a870" stroke="#48a870" stroke-width="0.35" font-weight="normal" font-style="normal" text-anchor="start" font-family='"Liberation Sans", sans-serif' >Holography</text>
<text x="637.2" y="407.0" font-size="15" fill="#48a870" stroke="#48a870" stroke-width="0.35" font-weight="normal" font-style="normal" text-anchor="start" font-family='"Liberation Sans", sans-serif' >Surface</text>
<path d="M661.1,423.1 A8.5,8.5 0 1 1 650.2,424.1" fill="none" stroke="#2a6aaa" stroke-width="2.9"/>
<path d="M647.2,419.0 L656.8,419.4 L650.4,426.6 Z" fill="#2a6aaa"/>
<text x="670" y="432.5" font-size="14" fill="#1a1a1a" stroke="#1a1a1a" stroke-width="0.35" font-weight="normal" font-style="normal" text-anchor="start" font-family='"Liberation Sans", sans-serif' >or</text>
<path d="M692.1,423.1 A8.5,8.5 0 1 0 703.0,424.1" fill="none" stroke="#2a6aaa" stroke-width="2.9"/>
<path d="M706.0,419.0 L696.4,419.4 L702.8,426.6 Z" fill="#2a6aaa"/>
<rect x="1" y="1" width="731" height="489" fill="none" stroke="#000" stroke-width="2.2"/>
<defs><radialGradient id="sb0" cx="0.38" cy="0.32" r="0.7"><stop offset="0" stop-color="#8888ee"/><stop offset="0.35" stop-color="#2e2eb0"/><stop offset="1" stop-color="#16106a"/></radialGradient><radialGradient id="sb1" cx="0.38" cy="0.32" r="0.7"><stop offset="0" stop-color="#9c9cf0"/><stop offset="0.35" stop-color="#4040c0"/><stop offset="1" stop-color="#1c1c80"/></radialGradient><radialGradient id="sb2" cx="0.38" cy="0.32" r="0.7"><stop offset="0" stop-color="#d8d8ff"/><stop offset="0.35" stop-color="#7a7ad0"/><stop offset="1" stop-color="#34348a"/></radialGradient><radialGradient id="sb3" cx="0.38" cy="0.32" r="0.7"><stop offset="0" stop-color="#f4f4ff"/><stop offset="0.35" stop-color="#c0c0d4"/><stop offset="1" stop-color="#707090"/></radialGradient><radialGradient id="sb4" cx="0.38" cy="0.32" r="0.7"><stop offset="0" stop-color="#ffc0c0"/><stop offset="0.35" stop-color="#d83030"/><stop offset="1" stop-color="#801010"/></radialGradient><linearGradient id="cb" x1="0" y1="0" x2="0" y2="1"><stop offset="0" stop-color="#e8000c"/><stop offset="0.22" stop-color="#f03038"/><stop offset="0.5" stop-color="#ffffff"/><stop offset="0.78" stop-color="#6060f0"/><stop offset="1" stop-color="#0000d8"/></linearGradient></defs>
<line x1="177.7" y1="647.6" x2="177.9" y2="516.0" stroke="#e2e2e2" stroke-width="0.9"/>
<line x1="86.4" y1="692.7" x2="77.7" y2="546.5" stroke="#e2e2e2" stroke-width="0.9"/>
<line x1="92.0" y1="711.7" x2="177.7" y2="647.6" stroke="#e2e2e2" stroke-width="0.9"/>
<line x1="86.4" y1="692.7" x2="231.6" y2="736.9" stroke="#e2e2e2" stroke-width="0.9"/>
<line x1="203.9" y1="654.2" x2="206.4" y2="520.3" stroke="#e2e2e2" stroke-width="0.9"/>
<line x1="106.1" y1="678.8" x2="99.5" y2="537.0" stroke="#e2e2e2" stroke-width="0.9"/>
<line x1="121.2" y1="721.0" x2="203.9" y2="654.2" stroke="#e2e2e2" stroke-width="0.9"/>
<line x1="106.1" y1="678.8" x2="247.6" y2="719.7" stroke="#e2e2e2" stroke-width="0.9"/>
<line x1="231.2" y1="661.0" x2="236.1" y2="524.9" stroke="#e2e2e2" stroke-width="0.9"/>
<line x1="124.4" y1="665.9" x2="119.7" y2="528.3" stroke="#e2e2e2" stroke-width="0.9"/>
<line x1="151.9" y1="730.8" x2="231.2" y2="661.0" stroke="#e2e2e2" stroke-width="0.9"/>
<line x1="124.4" y1="665.9" x2="262.5" y2="703.9" stroke="#e2e2e2" stroke-width="0.9"/>
<line x1="259.5" y1="668.1" x2="267.1" y2="529.6" stroke="#e2e2e2" stroke-width="0.9"/>
<line x1="141.5" y1="653.8" x2="138.5" y2="520.2" stroke="#e2e2e2" stroke-width="0.9"/>
<line x1="184.0" y1="741.0" x2="259.5" y2="668.1" stroke="#e2e2e2" stroke-width="0.9"/>
<line x1="141.5" y1="653.8" x2="276.3" y2="689.2" stroke="#e2e2e2" stroke-width="0.9"/>
<line x1="68.3" y1="687.3" x2="157.3" y2="627.4" stroke="#e2e2e2" stroke-width="0.9"/>
<line x1="157.3" y1="627.4" x2="290.3" y2="659.2" stroke="#e2e2e2" stroke-width="0.9"/>
<line x1="67.1" y1="669.7" x2="157.1" y2="612.0" stroke="#e2e2e2" stroke-width="0.9"/>
<line x1="157.1" y1="612.0" x2="291.5" y2="642.6" stroke="#e2e2e2" stroke-width="0.9"/>
<line x1="65.8" y1="651.7" x2="156.9" y2="596.3" stroke="#e2e2e2" stroke-width="0.9"/>
<line x1="156.9" y1="596.3" x2="292.8" y2="625.6" stroke="#e2e2e2" stroke-width="0.9"/>
<line x1="64.5" y1="633.2" x2="156.7" y2="580.2" stroke="#e2e2e2" stroke-width="0.9"/>
<line x1="156.7" y1="580.2" x2="294.1" y2="608.2" stroke="#e2e2e2" stroke-width="0.9"/>
<line x1="63.1" y1="614.2" x2="156.5" y2="563.8" stroke="#e2e2e2" stroke-width="0.9"/>
<line x1="156.5" y1="563.8" x2="295.4" y2="590.4" stroke="#e2e2e2" stroke-width="0.9"/>
<line x1="61.7" y1="594.9" x2="156.3" y2="547.1" stroke="#e2e2e2" stroke-width="0.9"/>
<line x1="156.3" y1="547.1" x2="296.7" y2="572.2" stroke="#e2e2e2" stroke-width="0.9"/>
<line x1="60.3" y1="575.0" x2="156.1" y2="530.0" stroke="#e2e2e2" stroke-width="0.9"/>
<line x1="156.1" y1="530.0" x2="298.1" y2="553.6" stroke="#e2e2e2" stroke-width="0.9"/>
<line x1="58.9" y1="554.6" x2="155.9" y2="512.6" stroke="#d0d0d0" stroke-width="1.1"/>
<line x1="155.9" y1="512.6" x2="299.5" y2="534.6" stroke="#d0d0d0" stroke-width="1.1"/>
<line x1="299.5" y1="534.6" x2="289.0" y2="675.5" stroke="#d0d0d0" stroke-width="1.1"/>
<line x1="157.5" y1="642.6" x2="155.9" y2="512.6" stroke="#d8d8d8" stroke-width="1.0"/>
<line x1="157.5" y1="642.6" x2="289.0" y2="675.5" stroke="#d8d8d8" stroke-width="0.9"/>
<line x1="69.5" y1="704.6" x2="157.5" y2="642.6" stroke="#d8d8d8" stroke-width="0.9"/>
<path d="M86.2 703.2h1.2M89.9 700.5h1.2M93.5 697.9h1.2M97.0 695.3h1.2M100.5 692.8h1.2M104.0 690.3h1.2M107.4 687.8h1.2M110.8 685.4h1.2M114.1 682.9h1.2M117.4 680.6h1.2M120.7 678.2h1.2M123.9 675.9h1.2M127.0 673.6h1.2M130.2 671.3h1.2M133.2 669.1h1.2M136.3 666.9h1.2M139.3 664.7h1.2M142.3 662.5h1.2M145.2 660.4h1.2M148.1 658.3h1.2M151.0 656.2h1.2M153.9 654.1h1.2M156.7 652.1h1.2M159.4 650.1h1.2M90.8 704.6h1.2M94.4 701.9h1.2M98.0 699.3h1.2M101.5 696.7h1.2M105.0 694.1h1.2M108.5 691.6h1.2M111.9 689.1h1.2M115.2 686.7h1.2M118.5 684.2h1.2M121.8 681.8h1.2M125.0 679.5h1.2M128.2 677.1h1.2M131.4 674.8h1.2M134.5 672.5h1.2M137.6 670.3h1.2M140.6 668.0h1.2M143.6 665.8h1.2M146.6 663.7h1.2M149.5 661.5h1.2M152.4 659.4h1.2M155.2 657.3h1.2M158.1 655.2h1.2M160.9 653.2h1.2M163.6 651.2h1.2M95.4 706.0h1.2M99.0 703.4h1.2M102.6 700.7h1.2M106.1 698.1h1.2M109.6 695.5h1.2M113.0 693.0h1.2M116.4 690.5h1.2M119.7 688.0h1.2M123.0 685.5h1.2M126.3 683.1h1.2M129.5 680.7h1.2M132.6 678.4h1.2M135.8 676.0h1.2M138.9 673.7h1.2M141.9 671.5h1.2M144.9 669.2h1.2M147.9 667.0h1.2M150.9 664.8h1.2M153.8 662.7h1.2M156.7 660.5h1.2M159.5 658.4h1.2M162.3 656.3h1.2M165.1 654.3h1.2M167.8 652.2h1.2M100.0 707.5h1.2M103.6 704.8h1.2M107.2 702.1h1.2M110.7 699.5h1.2M114.1 696.9h1.2M117.5 694.3h1.2M120.9 691.8h1.2M124.2 689.3h1.2M127.5 686.8h1.2M130.7 684.4h1.2M133.9 682.0h1.2M137.1 679.6h1.2M140.2 677.3h1.2M143.3 675.0h1.2M146.3 672.7h1.2M149.3 670.4h1.2M152.3 668.2h1.2M155.2 666.0h1.2M158.1 663.8h1.2M161.0 661.7h1.2M163.8 659.5h1.2M166.6 657.4h1.2M169.3 655.4h1.2M172.1 653.3h1.2M104.7 708.9h1.2M108.3 706.2h1.2M111.8 703.5h1.2M115.3 700.9h1.2M118.7 698.3h1.2M122.1 695.7h1.2M125.4 693.1h1.2M128.8 690.6h1.2M132.0 688.1h1.2M135.2 685.7h1.2M138.4 683.3h1.2M141.5 680.9h1.2M144.6 678.5h1.2M147.7 676.2h1.2M150.7 673.9h1.2M153.7 671.6h1.2M156.7 669.4h1.2M159.6 667.2h1.2M162.4 665.0h1.2M165.3 662.8h1.2M168.1 660.7h1.2M170.9 658.6h1.2M173.6 656.5h1.2M176.3 654.4h1.2M109.4 710.4h1.2M112.9 707.7h1.2M116.5 705.0h1.2M119.9 702.3h1.2M123.3 699.7h1.2M126.7 697.1h1.2M130.0 694.5h1.2M146.0 682.2h1.2M149.1 679.8h1.2M152.2 677.4h1.2M155.2 675.1h1.2M158.1 672.8h1.2M161.1 670.6h1.2M164.0 668.3h1.2M166.8 666.1h1.2M169.6 664.0h1.2M172.4 661.8h1.2M175.2 659.7h1.2M177.9 657.6h1.2M180.6 655.5h1.2M114.1 711.9h1.2M117.7 709.1h1.2M121.2 706.4h1.2M124.6 703.7h1.2M128.0 701.1h1.2M131.3 698.4h1.2M153.6 681.0h1.2M156.7 678.7h1.2M159.6 676.4h1.2M162.6 674.1h1.2M165.5 671.8h1.2M168.4 669.5h1.2M171.2 667.3h1.2M174.0 665.1h1.2M176.8 663.0h1.2M179.5 660.8h1.2M182.3 658.7h1.2M184.9 656.6h1.2M118.9 713.4h1.2M122.4 710.6h1.2M125.9 707.9h1.2M129.3 705.1h1.2M132.7 702.5h1.2M158.2 682.3h1.2M161.2 679.9h1.2M164.1 677.6h1.2M167.1 675.3h1.2M170.0 673.0h1.2M172.8 670.7h1.2M175.7 668.5h1.2M178.4 666.3h1.2M181.2 664.1h1.2M183.9 662.0h1.2M186.6 659.8h1.2M189.3 657.7h1.2M123.7 714.9h1.2M127.2 712.1h1.2M130.6 709.3h1.2M134.0 706.6h1.2M137.4 703.9h1.2M168.7 678.8h1.2M171.6 676.5h1.2M174.5 674.2h1.2M177.3 671.9h1.2M180.1 669.7h1.2M182.9 667.5h1.2M185.6 665.3h1.2M188.3 663.1h1.2M191.0 661.0h1.2M193.6 658.8h1.2M128.5 716.4h1.2M132.0 713.6h1.2M135.4 710.8h1.2M138.8 708.0h1.2M142.2 705.3h1.2M179.0 675.4h1.2M181.8 673.1h1.2M184.6 670.9h1.2M187.4 668.6h1.2M190.1 666.4h1.2M192.8 664.3h1.2M195.4 662.1h1.2M198.1 660.0h1.2M133.4 717.9h1.2M136.9 715.1h1.2M140.3 712.3h1.2M143.6 709.5h1.2M189.1 672.1h1.2M191.9 669.8h1.2M194.6 667.6h1.2M197.2 665.4h1.2M199.9 663.2h1.2M202.5 661.1h1.2M138.3 719.5h1.2M141.8 716.6h1.2M145.1 713.8h1.2M148.5 711.0h1.2M173.7 690.0h1.2M199.1 668.8h1.2M201.7 666.6h1.2M204.4 664.4h1.2M206.9 662.2h1.2M143.3 721.0h1.2M146.7 718.1h1.2M150.1 715.3h1.2M153.4 712.5h1.2M178.4 691.3h1.2M181.4 688.8h1.2M184.3 686.4h1.2M187.1 683.9h1.2M206.3 667.8h1.2M208.9 665.6h1.2M211.4 663.4h1.2M148.3 722.6h1.2M151.7 719.7h1.2M155.0 716.8h1.2M158.3 714.0h1.2M180.2 695.2h1.2M183.2 692.6h1.2M186.1 690.1h1.2M189.0 687.7h1.2M191.8 685.2h1.2M194.6 682.8h1.2M197.4 680.4h1.2M200.2 678.1h1.2M210.8 668.9h1.2M213.4 666.7h1.2M215.9 664.5h1.2M153.3 724.1h1.2M156.7 721.2h1.2M160.0 718.3h1.2M182.0 699.2h1.2M185.0 696.6h1.2M187.9 694.0h1.2M190.9 691.5h1.2M193.7 689.0h1.2M196.6 686.5h1.2M199.3 684.1h1.2M202.1 681.7h1.2M204.8 679.3h1.2M207.5 677.0h1.2M210.2 674.7h1.2M212.8 672.4h1.2M215.4 670.1h1.2M218.0 667.9h1.2M220.5 665.7h1.2M158.3 725.7h1.2M161.7 722.8h1.2M165.0 719.9h1.2M186.9 700.6h1.2M189.8 697.9h1.2M192.8 695.4h1.2M195.7 692.8h1.2M198.5 690.3h1.2M201.3 687.8h1.2M204.1 685.4h1.2M206.8 683.0h1.2M209.5 680.6h1.2M212.2 678.2h1.2M214.8 675.9h1.2M217.4 673.6h1.2M220.0 671.3h1.2M222.6 669.1h1.2M225.1 666.9h1.2M163.5 727.3h1.2M166.8 724.3h1.2M170.1 721.4h1.2M188.8 704.6h1.2M191.8 702.0h1.2M194.7 699.3h1.2M197.6 696.7h1.2M200.5 694.2h1.2M203.3 691.6h1.2M206.1 689.2h1.2M208.9 686.7h1.2M211.6 684.3h1.2M214.3 681.9h1.2M216.9 679.5h1.2M219.5 677.1h1.2M222.1 674.8h1.2M224.7 672.5h1.2M227.2 670.3h1.2M229.7 668.1h1.2M168.6 728.9h1.2M171.9 725.9h1.2M175.2 723.0h1.2M193.8 706.1h1.2M196.7 703.4h1.2M199.6 700.7h1.2M202.5 698.1h1.2M205.4 695.5h1.2M208.2 693.0h1.2M210.9 690.5h1.2M213.7 688.0h1.2M216.4 685.5h1.2M219.0 683.1h1.2M221.6 680.7h1.2M224.2 678.4h1.2M226.8 676.1h1.2M229.3 673.8h1.2M231.8 671.5h1.2M234.3 669.2h1.2M173.8 730.6h1.2M177.1 727.5h1.2M180.3 724.6h1.2M195.8 710.3h1.2M198.8 707.5h1.2M201.7 704.8h1.2M204.6 702.1h1.2M207.4 699.5h1.2M210.3 696.9h1.2M213.0 694.3h1.2M215.8 691.8h1.2M218.5 689.3h1.2M221.2 686.9h1.2M223.8 684.4h1.2M226.4 682.0h1.2M229.0 679.6h1.2M231.5 677.3h1.2M234.1 675.0h1.2M236.5 672.7h1.2M239.0 670.4h1.2M179.0 732.2h1.2M182.3 729.1h1.2M185.5 726.1h1.2M188.6 723.2h1.2M191.7 720.3h1.2M194.8 717.4h1.2M197.8 714.5h1.2M200.8 711.7h1.2M203.8 709.0h1.2M206.7 706.3h1.2M209.6 703.6h1.2M212.4 700.9h1.2M215.2 698.3h1.2M218.0 695.7h1.2M220.7 693.2h1.2M223.4 690.6h1.2M226.0 688.2h1.2M228.6 685.7h1.2M231.2 683.3h1.2M233.8 680.9h1.2M236.3 678.5h1.2M238.8 676.2h1.2M241.3 673.9h1.2M243.7 671.6h1.2M184.3 733.8h1.2M187.5 730.8h1.2M190.7 727.7h1.2M193.8 724.8h1.2M196.9 721.8h1.2M200.0 718.9h1.2M203.0 716.1h1.2M205.9 713.2h1.2M208.9 710.5h1.2M211.7 707.7h1.2M214.6 705.0h1.2M217.4 702.3h1.2M220.2 699.7h1.2M222.9 697.1h1.2M225.6 694.5h1.2M228.3 692.0h1.2M230.9 689.5h1.2M233.5 687.0h1.2M236.1 684.6h1.2M238.6 682.2h1.2M241.1 679.8h1.2M243.6 677.5h1.2M246.0 675.1h1.2M248.4 672.8h1.2M189.6 735.5h1.2M192.8 732.4h1.2M195.9 729.4h1.2M199.0 726.3h1.2M202.1 723.4h1.2M205.1 720.5h1.2M208.1 717.6h1.2M211.1 714.7h1.2M214.0 711.9h1.2M216.8 709.2h1.2M219.6 706.4h1.2M222.4 703.8h1.2M225.2 701.1h1.2M227.9 698.5h1.2M230.6 695.9h1.2M233.2 693.3h1.2M235.8 690.8h1.2M238.4 688.3h1.2M240.9 685.9h1.2M243.4 683.5h1.2M245.9 681.1h1.2M248.4 678.7h1.2M250.8 676.4h1.2M253.2 674.1h1.2M194.9 737.2h1.2M198.1 734.0h1.2M201.2 731.0h1.2M204.3 727.9h1.2M207.3 725.0h1.2M210.3 722.0h1.2M213.3 719.1h1.2M216.2 716.3h1.2M219.1 713.4h1.2M221.9 710.6h1.2M224.7 707.9h1.2M227.5 705.2h1.2M230.2 702.5h1.2M232.9 699.9h1.2M235.6 697.3h1.2M238.2 694.7h1.2M240.8 692.2h1.2M243.3 689.7h1.2M245.8 687.2h1.2M248.3 684.7h1.2M250.8 682.3h1.2M253.2 680.0h1.2M255.6 677.6h1.2M258.0 675.3h1.2M200.3 738.9h1.2M203.4 735.7h1.2M206.6 732.6h1.2M209.6 729.6h1.2M212.6 726.6h1.2M215.6 723.6h1.2M218.5 720.7h1.2M221.4 717.8h1.2M224.3 714.9h1.2M227.1 712.1h1.2M229.9 709.4h1.2M232.6 706.6h1.2M235.3 703.9h1.2M238.0 701.3h1.2M240.6 698.7h1.2M243.2 696.1h1.2M245.8 693.5h1.2M248.3 691.0h1.2M250.8 688.5h1.2M253.3 686.0h1.2M255.7 683.6h1.2M258.1 681.2h1.2M260.5 678.9h1.2M262.8 676.5h1.2M205.7 740.6h1.2M208.9 737.4h1.2M211.9 734.3h1.2M215.0 731.2h1.2M218.0 728.2h1.2M220.9 725.2h1.2M223.8 722.2h1.2M226.7 719.3h1.2M229.5 716.4h1.2M232.3 713.6h1.2M235.0 710.8h1.2M237.8 708.1h1.2M240.4 705.4h1.2M243.1 702.7h1.2M245.7 700.1h1.2M248.2 697.4h1.2M250.8 694.9h1.2M253.3 692.3h1.2M255.8 689.8h1.2M258.2 687.4h1.2M260.6 684.9h1.2M263.0 682.5h1.2M265.3 680.1h1.2M267.7 677.8h1.2M211.2 742.3h1.2M214.3 739.1h1.2M217.4 735.9h1.2M220.4 732.8h1.2M223.3 729.8h1.2M226.2 726.8h1.2M229.1 723.8h1.2M232.0 720.9h1.2M234.8 718.0h1.2M237.5 715.1h1.2M240.3 712.3h1.2M242.9 709.5h1.2M245.6 706.8h1.2M248.2 704.1h1.2M250.8 701.5h1.2M253.3 698.8h1.2M255.8 696.2h1.2M258.3 693.7h1.2M260.8 691.2h1.2M263.2 688.7h1.2M265.6 686.2h1.2M267.9 683.8h1.2M270.3 681.4h1.2M272.5 679.0h1.2" stroke="#2424cc" stroke-width="3.3" stroke-linecap="round" fill="none"/>
<path d="M133.3 692.0h1.2M140.7 701.2h1.2M176.1 677.8h1.2M186.4 674.4h1.2M151.8 708.2h1.2M176.7 687.5h1.2M190.0 681.5h1.2M203.6 670.0h1.2M205.6 673.4h1.2M208.2 671.2h1.2M163.3 715.5h1.2M168.3 717.0h1.2M183.9 703.2h1.2M173.3 718.5h1.2M178.4 720.1h1.2M192.8 713.0h1.2" stroke="#3030d8" stroke-width="3.3" stroke-linecap="round" fill="none"/>
<path d="M136.6 689.5h1.2M139.8 687.0h1.2M134.7 695.9h1.2M155.1 684.7h1.2M162.7 683.6h1.2M173.2 680.1h1.2M183.6 676.7h1.2M170.7 692.5h1.2M179.6 685.1h1.2M193.7 673.3h1.2M156.7 709.7h1.2M192.8 679.2h1.2M195.5 676.8h1.2M198.3 674.5h1.2M201.0 672.2h1.2M177.2 697.8h1.2M185.8 707.3h1.2M187.7 711.6h1.2M186.6 718.7h1.2M189.7 715.9h1.2" stroke="#3c3cd8" stroke-width="3.3" stroke-linecap="round" fill="none"/>
<path d="M142.9 684.6h1.2M150.6 683.4h1.2M136.0 699.8h1.2M165.7 681.2h1.2M147.0 706.8h1.2M196.4 671.0h1.2M175.4 693.8h1.2M202.9 675.7h1.2M190.8 708.8h1.2M183.5 721.6h1.2" stroke="#3030cc" stroke-width="3.3" stroke-linecap="round" fill="none"/>
<path d="M137.9 693.3h1.2M167.3 684.9h1.2M172.0 686.2h1.2M174.9 683.8h1.2M155.0 705.5h1.2M174.1 700.4h1.2M179.6 712.8h1.2" stroke="#6060d8" stroke-width="3.3" stroke-linecap="round" fill="none"/>
<path d="M141.1 690.8h1.2M156.7 688.5h1.2" stroke="#8484d8" stroke-width="3.3" stroke-linecap="round" fill="none"/>
<path d="M144.3 688.3h1.2M161.3 689.8h1.2M159.9 707.0h1.2M164.8 708.4h1.2M169.7 709.9h1.2" stroke="#7878d8" stroke-width="3.3" stroke-linecap="round" fill="none"/>
<path d="M147.5 685.9h1.2M145.5 702.7h1.2M180.7 679.0h1.2M182.5 682.6h1.2M188.1 677.9h1.2M190.9 675.6h1.2M172.4 696.4h1.2M161.6 711.2h1.2M179.0 701.8h1.2M181.5 717.2h1.2M184.6 714.3h1.2" stroke="#4848d8" stroke-width="3.3" stroke-linecap="round" fill="none"/>
<path d="M139.3 697.2h1.2M159.7 686.0h1.2M170.3 682.5h1.2M150.2 704.1h1.2M166.0 691.1h1.2M169.0 688.6h1.2M177.8 681.4h1.2M185.3 680.3h1.2M166.5 712.7h1.2M171.5 714.2h1.2M180.8 705.9h1.2M176.5 715.7h1.2M182.7 710.1h1.2" stroke="#5454d8" stroke-width="3.3" stroke-linecap="round" fill="none"/>
<path d="M142.6 694.7h1.2M158.3 702.8h1.2M164.6 697.6h1.2M163.1 704.3h1.2" stroke="#a8a8e4" stroke-width="3.3" stroke-linecap="round" fill="none"/>
<path d="M145.8 692.1h1.2" stroke="#d8d8f0" stroke-width="3.3" stroke-linecap="round" fill="none"/>
<path d="M148.9 689.6h1.2M147.2 696.0h1.2" stroke="#c0c0e4" stroke-width="3.3" stroke-linecap="round" fill="none"/>
<path d="M152.0 687.2h1.2M144.0 698.6h1.2M164.3 687.3h1.2M167.6 695.0h1.2M175.9 704.4h1.2M174.6 711.4h1.2M177.8 708.6h1.2" stroke="#6c6cd8" stroke-width="3.3" stroke-linecap="round" fill="none"/>
<path d="M150.4 693.5h1.2M158.2 692.3h1.2" stroke="#d8b4c0" stroke-width="3.3" stroke-linecap="round" fill="none"/>
<path d="M153.6 691.0h1.2" stroke="#cc1818" stroke-width="3.3" stroke-linecap="round" fill="none"/>
<path d="M148.7 700.0h1.2M169.3 699.0h1.2" stroke="#8484e4" stroke-width="3.3" stroke-linecap="round" fill="none"/>
<path d="M151.9 697.4h1.2M156.7 698.8h1.2M159.8 696.2h1.2" stroke="#d8d8e4" stroke-width="3.3" stroke-linecap="round" fill="none"/>
<path d="M155.1 694.8h1.2" stroke="#cc2430" stroke-width="3.3" stroke-linecap="round" fill="none"/>
<path d="M153.5 701.4h1.2M167.9 705.7h1.2" stroke="#9c9ce4" stroke-width="3.3" stroke-linecap="round" fill="none"/>
<path d="M162.9 693.7h1.2M171.1 703.0h1.2M172.8 707.1h1.2" stroke="#9090e4" stroke-width="3.3" stroke-linecap="round" fill="none"/>
<path d="M161.4 700.2h1.2" stroke="#cccce4" stroke-width="3.3" stroke-linecap="round" fill="none"/>
<path d="M166.2 701.6h1.2" stroke="#b4b4e4" stroke-width="3.3" stroke-linecap="round" fill="none"/>
<path d="M71.5 629.1h0M75.1 627.1h0M78.6 625.0h0M82.1 623.0h0M85.6 621.0h0M89.0 619.1h0M92.4 617.2h0M95.7 615.2h0M99.0 613.4h0M102.2 611.5h0M105.4 609.7h0M108.6 607.8h0M111.7 606.0h0M114.8 604.3h0M117.9 602.5h0M120.9 600.8h0M123.9 599.1h0M126.8 597.4h0M129.7 595.7h0M132.6 594.0h0M135.5 592.4h0M138.3 590.8h0M141.1 589.2h0M143.8 587.6h0M146.6 586.0h0M149.2 584.5h0" stroke="#2828b8" stroke-width="3.4" stroke-linecap="round" fill="none" />
<path d="M82.6 632.3h0M86.4 630.0h0M90.2 627.7h0M94.0 625.5h0M97.7 623.4h0M101.3 621.2h0M104.9 619.1h0M108.5 617.0h0M112.0 614.9h0M115.4 612.9h0M118.8 610.9h0M122.2 608.9h0M125.5 606.9h0M128.8 605.0h0M132.0 603.1h0M135.2 601.2h0M138.4 599.3h0M141.5 597.5h0M144.6 595.7h0M147.6 593.9h0M150.6 592.1h0M153.6 590.3h0M156.5 588.6h0M159.4 586.9h0M87.4 633.5h0M91.2 631.2h0M95.0 628.9h0M98.7 626.7h0M102.4 624.5h0M106.0 622.3h0M109.6 620.2h0M113.1 618.1h0M116.6 616.0h0M120.0 614.0h0M123.4 611.9h0M126.7 609.9h0M130.0 607.9h0M133.3 606.0h0M136.5 604.1h0M139.7 602.2h0M142.8 600.3h0M145.9 598.4h0M149.0 596.6h0M152.0 594.8h0M155.0 593.0h0M157.9 591.3h0M160.9 589.5h0M163.7 587.8h0M92.2 634.7h0M96.0 632.4h0M99.7 630.1h0M103.4 627.9h0M107.1 625.7h0M110.7 623.5h0M114.3 621.3h0M117.8 619.2h0M121.2 617.1h0M124.6 615.0h0M128.0 613.0h0M131.3 611.0h0M134.6 609.0h0M137.9 607.0h0M141.1 605.1h0M144.2 603.2h0M147.3 601.3h0M150.4 599.4h0M153.5 597.6h0M156.5 595.8h0M159.4 594.0h0M162.4 592.2h0M165.3 590.4h0M168.1 588.7h0M97.0 636.0h0M100.8 633.6h0M104.5 631.3h0M108.2 629.1h0M111.9 626.9h0M115.4 624.7h0M119.0 622.5h0M122.5 620.3h0M125.9 618.2h0M129.3 616.1h0M132.7 614.1h0M136.0 612.1h0M139.2 610.1h0M142.5 608.1h0M145.6 606.1h0M148.8 604.2h0M151.9 602.3h0M154.9 600.4h0M158.0 598.6h0M161.0 596.7h0M163.9 594.9h0M166.8 593.1h0M169.7 591.4h0M172.5 589.6h0M101.9 637.2h0M105.6 634.9h0M109.4 632.6h0M113.0 630.3h0M116.6 628.0h0M120.2 625.8h0M123.7 623.6h0M127.2 621.5h0M130.6 619.3h0M134.0 617.2h0M137.3 615.2h0M140.6 613.1h0M143.9 611.1h0M147.1 609.1h0M150.2 607.2h0M153.4 605.2h0M156.4 603.3h0M159.5 601.4h0M162.5 599.5h0M165.5 597.7h0M168.4 595.9h0M171.3 594.1h0M174.1 592.3h0M177.0 590.5h0M106.8 638.5h0M110.5 636.1h0M114.2 633.8h0M117.9 631.5h0M121.5 629.2h0M125.0 627.0h0M128.5 624.8h0M142.1 616.3h0M145.3 614.2h0M148.6 612.2h0M151.7 610.2h0M154.9 608.2h0M158.0 606.2h0M161.0 604.3h0M164.1 602.4h0M167.1 600.5h0M170.0 598.7h0M172.9 596.8h0M175.8 595.0h0M178.6 593.2h0M181.4 591.5h0M111.7 639.8h0M115.5 637.4h0M119.1 635.0h0M122.8 632.7h0M126.4 630.4h0M129.9 628.2h0M150.1 615.3h0M153.3 613.3h0M156.4 611.2h0M159.6 609.3h0M162.6 607.3h0M165.7 605.3h0M168.7 603.4h0M171.7 601.5h0M174.6 599.7h0M177.5 597.8h0M180.3 596.0h0M183.2 594.2h0M185.9 592.4h0M116.7 641.0h0M120.4 638.6h0M124.1 636.3h0M127.7 633.9h0M131.3 631.6h0M134.8 629.4h0M158.0 614.3h0M161.1 612.3h0M164.3 610.3h0M167.3 608.3h0M170.3 606.4h0M173.3 604.4h0M176.3 602.5h0M179.2 600.7h0M182.1 598.8h0M184.9 597.0h0M187.7 595.1h0M190.5 593.4h0M121.8 642.3h0M125.4 639.9h0M129.1 637.5h0M132.7 635.2h0M136.2 632.9h0M165.9 613.4h0M169.0 611.4h0M172.0 609.4h0M175.0 607.4h0M178.0 605.5h0M180.9 603.5h0M183.8 601.7h0M186.7 599.8h0M189.5 597.9h0M192.3 596.1h0M195.0 594.3h0M126.8 643.6h0M130.5 641.2h0M134.1 638.8h0M137.7 636.4h0M141.2 634.1h0M179.8 608.5h0M182.7 606.5h0M185.6 604.6h0M188.5 602.7h0M191.3 600.8h0M194.1 598.9h0M196.9 597.1h0M199.6 595.3h0M131.9 644.9h0M135.6 642.5h0M139.2 640.1h0M142.7 637.7h0M146.2 635.3h0M190.3 605.6h0M193.2 603.7h0M196.0 601.8h0M198.8 599.9h0M201.5 598.0h0M204.2 596.2h0M137.1 646.3h0M140.7 643.8h0M144.3 641.4h0M147.8 639.0h0M174.2 620.9h0M200.7 602.8h0M203.5 600.9h0M206.2 599.0h0M208.9 597.2h0M142.3 647.6h0M145.9 645.1h0M149.4 642.7h0M152.9 640.2h0M176.0 624.2h0M179.2 622.0h0M182.2 619.9h0M185.3 617.8h0M188.3 615.7h0M208.2 601.9h0M210.9 600.0h0M213.6 598.2h0M147.5 649.0h0M151.1 646.4h0M154.6 644.0h0M158.1 641.5h0M181.0 625.4h0M184.1 623.2h0M187.2 621.0h0M190.2 618.9h0M193.2 616.8h0M196.1 614.7h0M199.0 612.7h0M201.9 610.7h0M204.7 608.7h0M213.0 602.9h0M215.6 601.0h0M218.3 599.1h0M152.8 650.3h0M156.3 647.8h0M159.8 645.3h0M182.9 628.8h0M186.1 626.5h0M189.1 624.3h0M192.2 622.2h0M195.2 620.0h0M198.1 617.9h0M201.0 615.8h0M203.9 613.8h0M206.8 611.8h0M209.6 609.8h0M212.3 607.8h0M215.1 605.8h0M217.8 603.9h0M220.4 602.0h0M223.0 600.1h0M158.1 651.7h0M161.6 649.1h0M165.1 646.6h0M188.0 630.0h0M191.1 627.7h0M194.2 625.5h0M197.2 623.3h0M200.2 621.2h0M203.1 619.0h0M206.0 616.9h0M208.9 614.9h0M211.7 612.8h0M214.5 610.8h0M217.2 608.8h0M219.9 606.9h0M222.6 604.9h0M225.2 603.0h0M227.8 601.1h0M163.5 653.1h0M167.0 650.5h0M170.4 647.9h0M190.1 633.5h0M193.2 631.2h0M196.2 628.9h0M199.3 626.7h0M202.3 624.5h0M205.2 622.3h0M208.1 620.2h0M211.0 618.1h0M213.8 616.0h0M216.6 613.9h0M219.4 611.9h0M222.1 609.9h0M224.8 607.9h0M227.4 606.0h0M230.1 604.0h0M232.6 602.1h0M168.9 654.4h0M172.3 651.8h0M175.7 649.3h0M192.1 637.0h0M195.3 634.7h0M198.3 632.4h0M201.4 630.1h0M204.4 627.9h0M207.4 625.7h0M210.3 623.5h0M213.2 621.3h0M216.0 619.2h0M218.8 617.1h0M221.6 615.0h0M224.3 613.0h0M227.0 610.9h0M229.7 609.0h0M232.3 607.0h0M234.9 605.1h0M237.5 603.1h0M174.3 655.8h0M177.7 653.2h0M181.1 650.6h0M184.5 648.1h0M197.4 638.3h0M200.5 635.9h0M203.6 633.6h0M206.6 631.3h0M209.6 629.1h0M212.5 626.8h0M215.4 624.6h0M218.3 622.5h0M221.1 620.3h0M223.9 618.2h0M226.6 616.1h0M229.3 614.1h0M232.0 612.0h0M234.6 610.0h0M237.3 608.0h0M239.8 606.1h0M242.4 604.2h0M179.8 657.3h0M183.2 654.6h0M186.6 652.0h0M189.9 649.5h0M193.2 646.9h0M196.4 644.4h0M199.6 642.0h0M202.7 639.6h0M205.8 637.2h0M208.8 634.9h0M211.8 632.5h0M214.8 630.3h0M217.7 628.0h0M220.6 625.8h0M223.4 623.6h0M226.2 621.4h0M229.0 619.3h0M231.7 617.2h0M234.4 615.1h0M237.0 613.1h0M239.6 611.1h0M242.2 609.1h0M244.8 607.1h0M247.3 605.2h0M185.3 658.7h0M188.7 656.0h0M192.1 653.4h0M195.3 650.8h0M198.6 648.3h0M201.8 645.8h0M204.9 643.3h0M208.0 640.9h0M211.1 638.5h0M214.1 636.1h0M217.1 633.8h0M220.0 631.5h0M222.9 629.2h0M225.8 627.0h0M228.6 624.8h0M231.3 622.6h0M234.1 620.4h0M236.8 618.3h0M239.4 616.2h0M242.1 614.2h0M244.7 612.1h0M247.2 610.1h0M249.7 608.2h0M252.2 606.2h0M190.9 660.1h0M194.3 657.4h0M197.6 654.8h0M200.8 652.2h0M204.1 649.6h0M207.2 647.1h0M210.3 644.6h0M213.4 642.2h0M216.5 639.7h0M219.4 637.4h0M222.4 635.0h0M225.3 632.7h0M228.2 630.4h0M231.0 628.2h0M233.8 625.9h0M236.5 623.7h0M239.2 621.6h0M241.9 619.5h0M244.5 617.4h0M247.1 615.3h0M249.7 613.2h0M252.2 611.2h0M254.7 609.2h0M257.2 607.2h0M196.5 661.6h0M199.9 658.9h0M203.2 656.2h0M206.4 653.6h0M209.6 651.0h0M212.7 648.4h0M215.8 645.9h0M218.9 643.5h0M221.9 641.0h0M224.8 638.6h0M227.7 636.3h0M230.6 633.9h0M233.5 631.6h0M236.3 629.4h0M239.0 627.1h0M241.7 624.9h0M244.4 622.7h0M247.1 620.6h0M249.7 618.5h0M252.3 616.4h0M254.8 614.3h0M257.3 612.3h0M259.8 610.3h0M262.2 608.3h0M202.2 663.0h0M205.5 660.3h0M208.8 657.6h0M212.0 655.0h0M215.1 652.4h0M218.2 649.8h0M221.3 647.3h0M224.3 644.8h0M227.3 642.3h0M230.2 639.9h0M233.1 637.5h0M236.0 635.2h0M238.8 632.8h0M241.6 630.6h0M244.3 628.3h0M247.0 626.1h0M249.6 623.9h0M252.3 621.7h0M254.9 619.6h0M257.4 617.5h0M259.9 615.4h0M262.4 613.4h0M264.9 611.3h0M267.3 609.3h0M207.9 664.5h0M211.2 661.7h0M214.4 659.0h0M217.6 656.4h0M220.7 653.7h0M223.8 651.2h0M226.8 648.6h0M229.8 646.1h0M232.8 643.6h0M235.7 641.2h0M238.6 638.8h0M241.4 636.4h0M244.2 634.1h0M246.9 631.8h0M249.6 629.5h0M252.3 627.3h0M254.9 625.1h0M257.5 622.9h0M260.1 620.7h0M262.6 618.6h0M265.1 616.5h0M267.6 614.4h0M270.0 612.4h0M272.4 610.4h0M213.7 666.0h0M216.9 663.2h0M220.1 660.5h0M223.3 657.8h0M226.4 655.1h0M229.4 652.5h0M232.4 650.0h0M235.4 647.4h0M238.3 644.9h0M241.2 642.5h0M244.0 640.1h0M246.8 637.7h0M249.6 635.3h0M252.3 633.0h0M255.0 630.7h0M257.6 628.5h0M260.2 626.2h0M262.8 624.0h0M265.3 621.9h0M267.8 619.7h0M270.3 617.6h0M272.7 615.5h0M275.1 613.5h0M277.5 611.5h0" stroke="#181878" stroke-width="4.6" stroke-linecap="round" fill="none" />
<path d="M132.0 622.6h0M135.4 620.5h0M138.7 618.4h0M133.4 626.0h0M154.8 616.4h0M139.7 630.6h0M162.8 615.4h0M173.8 612.4h0M184.5 609.5h0M187.5 607.5h0M151.3 636.6h0M171.1 623.0h0M177.3 618.8h0M180.4 616.7h0M195.1 606.6h0M156.4 637.8h0M191.2 613.7h0M194.2 611.6h0M197.0 609.6h0M202.7 605.7h0M205.5 603.8h0M177.9 627.6h0M207.5 606.7h0M210.2 604.8h0M168.5 644.1h0M184.9 632.2h0M173.8 645.4h0M186.9 635.8h0M179.1 646.8h0M187.8 645.6h0M191.0 643.1h0" stroke="#242484" stroke-width="4.6" stroke-linecap="round" fill="none" />
<path d="M136.8 623.8h0M143.5 619.5h0M151.6 618.5h0M143.1 628.3h0M161.3 620.8h0M164.4 618.6h0M154.7 634.2h0M167.9 625.2h0M174.7 629.8h0M176.6 633.3h0M175.2 639.3h0M178.5 636.9h0" stroke="#484884" stroke-width="4.6" stroke-linecap="round" fill="none" />
<path d="M140.2 621.6h0M156.4 619.6h0M159.7 635.5h0M164.9 636.7h0M170.0 638.0h0" stroke="#545484" stroke-width="4.6" stroke-linecap="round" fill="none" />
<path d="M146.8 617.4h0M144.6 631.8h0M166.1 621.9h0M169.3 619.8h0M181.6 611.5h0M183.4 614.6h0M186.4 612.6h0M189.3 610.6h0M192.2 608.6h0M172.9 626.4h0M199.9 607.7h0M161.5 639.1h0M179.8 631.0h0M177.1 643.0h0M182.4 644.3h0M185.7 641.8h0M188.9 639.4h0" stroke="#303084" stroke-width="4.6" stroke-linecap="round" fill="none" />
<path d="M138.2 627.1h0M159.6 617.5h0M167.6 616.5h0M170.7 614.5h0M149.6 633.0h0M172.4 617.7h0M175.5 615.6h0M178.6 613.5h0M166.7 640.4h0M171.9 641.7h0M181.7 634.6h0M180.4 640.5h0M183.7 638.2h0" stroke="#3c3c84" stroke-width="4.6" stroke-linecap="round" fill="none" />
<path d="M141.6 624.9h0M158.0 622.9h0" stroke="#781818" stroke-width="4.6" stroke-linecap="round" fill="none" />
<path d="M145.0 622.8h0" stroke="#846c78" stroke-width="4.6" stroke-linecap="round" fill="none" />
<path d="M148.3 620.6h0M151.4 627.3h0" stroke="#782424" stroke-width="4.6" stroke-linecap="round" fill="none" />
<path d="M146.5 626.1h0" stroke="#848484" stroke-width="4.6" stroke-linecap="round" fill="none" />
<path d="M149.9 623.9h0" stroke="#780c0c" stroke-width="4.6" stroke-linecap="round" fill="none" />
<path d="M153.2 621.8h0" stroke="#846c6c" stroke-width="4.6" stroke-linecap="round" fill="none" />
<path d="M148.1 629.5h0M162.9 624.1h0M169.7 628.6h0M171.5 632.1h0M173.3 635.6h0" stroke="#606084" stroke-width="4.6" stroke-linecap="round" fill="none" />
<path d="M154.7 625.1h0" stroke="#846060" stroke-width="4.6" stroke-linecap="round" fill="none" />
<path d="M176.8 610.4h0M197.9 604.7h0M163.3 642.8h0M194.2 640.7h0" stroke="#242478" stroke-width="4.6" stroke-linecap="round" fill="none" />
<path d="M153.0 630.7h0M158.0 631.9h0M168.2 634.4h0" stroke="#6c6c84" stroke-width="4.6" stroke-linecap="round" fill="none" />
<path d="M156.4 628.5h0M159.7 626.3h0" stroke="#847878" stroke-width="4.6" stroke-linecap="round" fill="none" />
<path d="M161.4 629.7h0" stroke="#847884" stroke-width="4.6" stroke-linecap="round" fill="none" />
<path d="M164.6 627.4h0M166.4 630.9h0" stroke="#787890" stroke-width="4.6" stroke-linecap="round" fill="none" />
<path d="M163.1 633.2h0" stroke="#787884" stroke-width="4.6" stroke-linecap="round" fill="none" />
<path d="M82.4 631.9h0M86.2 629.6h0M90.0 627.3h0M93.8 625.1h0M97.5 623.0h0M101.1 620.8h0M104.7 618.7h0M108.3 616.6h0M111.8 614.5h0M115.2 612.5h0M118.6 610.5h0M122.0 608.5h0M125.3 606.5h0M128.6 604.6h0M131.8 602.7h0M135.0 600.8h0M138.2 598.9h0M141.3 597.1h0M144.4 595.3h0M147.4 593.5h0M150.4 591.7h0M153.4 589.9h0M156.3 588.2h0M159.2 586.5h0M87.2 633.1h0M91.0 630.8h0M94.8 628.5h0M98.5 626.3h0M102.2 624.1h0M105.8 621.9h0M109.4 619.8h0M112.9 617.7h0M116.4 615.6h0M119.8 613.6h0M123.2 611.5h0M126.5 609.5h0M129.8 607.5h0M133.1 605.6h0M136.3 603.7h0M139.5 601.8h0M142.6 599.9h0M145.7 598.0h0M148.8 596.2h0M151.8 594.4h0M154.8 592.6h0M157.7 590.9h0M160.7 589.1h0M163.5 587.4h0M92.0 634.3h0M95.8 632.0h0M99.5 629.7h0M103.2 627.5h0M106.9 625.3h0M110.5 623.1h0M114.1 620.9h0M117.6 618.8h0M121.0 616.7h0M124.4 614.6h0M127.8 612.6h0M131.1 610.6h0M134.4 608.6h0M137.7 606.6h0M140.9 604.7h0M144.0 602.8h0M147.1 600.9h0M150.2 599.0h0M153.3 597.2h0M156.3 595.4h0M159.2 593.6h0M162.2 591.8h0M165.1 590.0h0M167.9 588.3h0M96.8 635.6h0M100.6 633.2h0M104.3 630.9h0M108.0 628.7h0M111.7 626.5h0M115.2 624.3h0M118.8 622.1h0M122.3 619.9h0M125.7 617.8h0M129.1 615.7h0M132.5 613.7h0M135.8 611.7h0M139.0 609.7h0M142.3 607.7h0M145.4 605.7h0M148.6 603.8h0M151.7 601.9h0M154.7 600.0h0M157.8 598.2h0M160.8 596.3h0M163.7 594.5h0M166.6 592.7h0M169.5 591.0h0M172.3 589.2h0M101.7 636.8h0M105.4 634.5h0M109.2 632.2h0M112.8 629.9h0M116.4 627.6h0M120.0 625.4h0M123.5 623.2h0M137.1 614.8h0M140.4 612.7h0M143.7 610.7h0M146.9 608.7h0M150.0 606.8h0M153.2 604.8h0M156.2 602.9h0M159.3 601.0h0M162.3 599.1h0M165.3 597.3h0M168.2 595.5h0M171.1 593.7h0M173.9 591.9h0M176.8 590.1h0M106.6 638.1h0M110.3 635.7h0M114.0 633.4h0M117.7 631.1h0M121.3 628.8h0M124.8 626.6h0M145.1 613.8h0M148.4 611.8h0M151.5 609.8h0M154.7 607.8h0M157.8 605.8h0M160.8 603.9h0M163.9 602.0h0M166.9 600.1h0M169.8 598.3h0M172.7 596.4h0M175.6 594.6h0M178.4 592.8h0M181.2 591.1h0M111.5 639.4h0M115.3 637.0h0M118.9 634.6h0M122.6 632.3h0M126.2 630.0h0M153.1 612.9h0M156.2 610.8h0M159.4 608.9h0M162.4 606.9h0M165.5 604.9h0M168.5 603.0h0M171.5 601.1h0M174.4 599.3h0M177.3 597.4h0M180.1 595.6h0M183.0 593.8h0M185.7 592.0h0M116.5 640.6h0M120.2 638.2h0M123.9 635.9h0M127.5 633.5h0M131.1 631.2h0M157.8 613.9h0M160.9 611.9h0M164.1 609.9h0M167.1 607.9h0M170.1 606.0h0M173.1 604.0h0M176.1 602.1h0M179.0 600.3h0M181.9 598.4h0M184.7 596.6h0M187.5 594.7h0M190.3 593.0h0M121.6 641.9h0M125.2 639.5h0M128.9 637.1h0M132.5 634.8h0M136.0 632.5h0M168.8 611.0h0M171.8 609.0h0M174.8 607.0h0M177.8 605.1h0M180.7 603.1h0M183.6 601.3h0M186.5 599.4h0M189.3 597.5h0M192.1 595.7h0M194.8 593.9h0M126.6 643.2h0M130.3 640.8h0M133.9 638.4h0M137.5 636.0h0M182.5 606.1h0M185.4 604.2h0M188.3 602.3h0M191.1 600.4h0M193.9 598.5h0M196.7 596.7h0M199.4 594.9h0M131.7 644.5h0M135.4 642.1h0M139.0 639.7h0M142.5 637.3h0M193.0 603.3h0M195.8 601.4h0M198.6 599.5h0M201.3 597.6h0M204.0 595.8h0M136.9 645.9h0M140.5 643.4h0M144.1 641.0h0M147.6 638.6h0M203.3 600.5h0M206.0 598.6h0M208.7 596.8h0M142.1 647.2h0M145.7 644.7h0M149.2 642.3h0M152.7 639.8h0M179.0 621.6h0M182.0 619.5h0M185.1 617.4h0M208.0 601.5h0M210.7 599.6h0M213.4 597.8h0M147.3 648.6h0M150.9 646.0h0M154.4 643.6h0M180.8 625.0h0M183.9 622.8h0M187.0 620.6h0M190.0 618.5h0M193.0 616.4h0M195.9 614.3h0M198.8 612.3h0M212.8 602.5h0M215.4 600.6h0M218.1 598.7h0M152.6 649.9h0M156.1 647.4h0M159.6 644.9h0M185.9 626.1h0M188.9 623.9h0M192.0 621.8h0M195.0 619.6h0M197.9 617.5h0M200.8 615.4h0M203.7 613.4h0M206.6 611.4h0M209.4 609.4h0M212.1 607.4h0M214.9 605.4h0M217.6 603.5h0M220.2 601.6h0M222.8 599.7h0M157.9 651.3h0M161.4 648.7h0M164.9 646.2h0M187.8 629.6h0M190.9 627.3h0M194.0 625.1h0M197.0 622.9h0M200.0 620.8h0M202.9 618.6h0M205.8 616.5h0M208.7 614.5h0M211.5 612.4h0M214.3 610.4h0M217.0 608.4h0M219.7 606.5h0M222.4 604.5h0M225.0 602.6h0M227.6 600.7h0M163.3 652.7h0M166.8 650.1h0M170.2 647.5h0M193.0 630.8h0M196.0 628.5h0M199.1 626.3h0M202.1 624.1h0M205.0 621.9h0M207.9 619.8h0M210.8 617.7h0M213.6 615.6h0M216.4 613.5h0M219.2 611.5h0M221.9 609.5h0M224.6 607.5h0M227.2 605.6h0M229.9 603.6h0M232.4 601.7h0M168.7 654.0h0M172.1 651.4h0M175.5 648.9h0M195.1 634.3h0M198.1 632.0h0M201.2 629.7h0M204.2 627.5h0M207.2 625.3h0M210.1 623.1h0M213.0 620.9h0M215.8 618.8h0M218.6 616.7h0M221.4 614.6h0M224.1 612.6h0M226.8 610.5h0M229.5 608.6h0M232.1 606.6h0M234.7 604.7h0M237.3 602.7h0M174.1 655.4h0M177.5 652.8h0M180.9 650.2h0M197.2 637.9h0M200.3 635.5h0M203.4 633.2h0M206.4 630.9h0M209.4 628.7h0M212.3 626.4h0M215.2 624.2h0M218.1 622.1h0M220.9 619.9h0M223.7 617.8h0M226.4 615.7h0M229.1 613.7h0M231.8 611.6h0M234.4 609.6h0M237.1 607.6h0M239.6 605.7h0M242.2 603.8h0M179.6 656.9h0M183.0 654.2h0M186.4 651.6h0M189.7 649.1h0M199.4 641.6h0M202.5 639.2h0M205.6 636.8h0M208.6 634.5h0M211.6 632.1h0M214.6 629.9h0M217.5 627.6h0M220.4 625.4h0M223.2 623.2h0M226.0 621.0h0M228.8 618.9h0M231.5 616.8h0M234.2 614.7h0M236.8 612.7h0M239.4 610.7h0M242.0 608.7h0M244.6 606.7h0M247.1 604.8h0M185.1 658.3h0M188.5 655.6h0M191.9 653.0h0M195.1 650.4h0M198.4 647.9h0M201.6 645.4h0M204.7 642.9h0M207.8 640.5h0M210.9 638.1h0M213.9 635.7h0M216.9 633.4h0M219.8 631.1h0M222.7 628.8h0M225.6 626.6h0M228.4 624.4h0M231.1 622.2h0M233.9 620.0h0M236.6 617.9h0M239.2 615.8h0M241.9 613.8h0M244.5 611.7h0M247.0 609.7h0M249.5 607.8h0M252.0 605.8h0M190.7 659.7h0M194.1 657.0h0M197.4 654.4h0M200.6 651.8h0M203.9 649.2h0M207.0 646.7h0M210.1 644.2h0M213.2 641.8h0M216.3 639.3h0M219.2 637.0h0M222.2 634.6h0M225.1 632.3h0M228.0 630.0h0M230.8 627.8h0M233.6 625.5h0M236.3 623.3h0M239.0 621.2h0M241.7 619.1h0M244.3 617.0h0M246.9 614.9h0M249.5 612.8h0M252.0 610.8h0M254.5 608.8h0M257.0 606.8h0M196.3 661.2h0M199.7 658.5h0M203.0 655.8h0M206.2 653.2h0M209.4 650.6h0M212.5 648.0h0M215.6 645.5h0M218.7 643.1h0M221.7 640.6h0M224.6 638.2h0M227.5 635.9h0M230.4 633.5h0M233.3 631.2h0M236.1 629.0h0M238.8 626.7h0M241.5 624.5h0M244.2 622.3h0M246.9 620.2h0M249.5 618.1h0M252.1 616.0h0M254.6 613.9h0M257.1 611.9h0M259.6 609.9h0M262.0 607.9h0M202.0 662.6h0M205.3 659.9h0M208.6 657.2h0M211.8 654.6h0M214.9 652.0h0M218.0 649.4h0M221.1 646.9h0M224.1 644.4h0M227.1 641.9h0M230.0 639.5h0M232.9 637.1h0M235.8 634.8h0M238.6 632.4h0M241.4 630.2h0M244.1 627.9h0M246.8 625.7h0M249.4 623.5h0M252.1 621.3h0M254.7 619.2h0M257.2 617.1h0M259.7 615.0h0M262.2 613.0h0M264.7 610.9h0M267.1 608.9h0M207.7 664.1h0M211.0 661.3h0M214.2 658.6h0M217.4 656.0h0M220.5 653.3h0M223.6 650.8h0M226.6 648.2h0M229.6 645.7h0M232.6 643.2h0M235.5 640.8h0M238.4 638.4h0M241.2 636.0h0M244.0 633.7h0M246.7 631.4h0M249.4 629.1h0M252.1 626.9h0M254.7 624.7h0M257.3 622.5h0M259.9 620.3h0M262.4 618.2h0M264.9 616.1h0M267.4 614.0h0M269.8 612.0h0M272.2 610.0h0M213.5 665.6h0M216.7 662.8h0M219.9 660.1h0M223.1 657.4h0M226.2 654.7h0M229.2 652.1h0M232.2 649.6h0M235.2 647.0h0M238.1 644.5h0M241.0 642.1h0M243.8 639.7h0M246.6 637.3h0M249.4 634.9h0M252.1 632.6h0M254.8 630.3h0M257.4 628.1h0M260.0 625.8h0M262.6 623.6h0M265.1 621.5h0M267.6 619.3h0M270.1 617.2h0M272.5 615.1h0M274.9 613.1h0M277.3 611.1h0" stroke="#2424e4" stroke-width="3.6" stroke-linecap="round" fill="none" />
<path d="M127.0 621.1h0M130.4 618.9h0M133.8 616.8h0M128.3 624.4h0M141.9 615.9h0M129.7 627.8h0M149.9 614.9h0M134.6 629.0h0M165.7 613.0h0M141.0 633.7h0M179.6 608.1h0M146.0 634.9h0M190.1 605.2h0M174.0 620.5h0M200.5 602.4h0M175.8 623.8h0M188.1 615.3h0M157.9 641.1h0M201.7 610.3h0M204.5 608.3h0M182.7 628.4h0M189.9 633.1h0M191.9 636.6h0M184.3 647.7h0M193.0 646.5h0M196.2 644.0h0" stroke="#3030e4" stroke-width="3.6" stroke-linecap="round" fill="none" />
<path d="M131.8 622.2h0M139.5 630.2h0M176.6 610.0h0M187.3 607.1h0M151.1 636.2h0M177.1 618.4h0M197.7 604.3h0M191.0 613.3h0M205.3 603.4h0M207.3 606.3h0M210.0 604.4h0M163.1 642.4h0M168.3 643.7h0M184.7 631.8h0M173.6 645.0h0M178.9 646.4h0M187.6 645.2h0M194.0 640.3h0" stroke="#3c3ce4" stroke-width="3.6" stroke-linecap="round" fill="none" />
<path d="M135.2 620.1h0M138.5 618.0h0M133.2 625.6h0M154.6 616.0h0M162.6 615.0h0M173.6 612.0h0M184.3 609.1h0M170.9 622.6h0M180.2 616.3h0M194.9 606.2h0M156.2 637.4h0M194.0 611.2h0M196.8 609.2h0M199.7 607.3h0M202.5 605.3h0M177.7 627.2h0M186.7 635.4h0M190.8 642.7h0" stroke="#4848e4" stroke-width="3.6" stroke-linecap="round" fill="none" />
<path d="M136.6 623.4h0M167.4 616.1h0M175.3 615.2h0M154.5 633.8h0M174.5 629.4h0M180.2 640.1h0" stroke="#7878f0" stroke-width="3.6" stroke-linecap="round" fill="none" />
<path d="M140.0 621.2h0M164.7 636.3h0M169.8 637.6h0" stroke="#9c9cf0" stroke-width="3.6" stroke-linecap="round" fill="none" />
<path d="M143.3 619.1h0M151.4 618.1h0M161.1 620.4h0M159.5 635.1h0M176.4 632.9h0M175.0 638.9h0M178.3 636.5h0" stroke="#9090f0" stroke-width="3.6" stroke-linecap="round" fill="none" />
<path d="M146.6 617.0h0M144.4 631.4h0M183.2 614.2h0M192.0 608.2h0M161.3 638.7h0M179.6 630.6h0M182.2 643.9h0M188.7 639.0h0" stroke="#5454e4" stroke-width="3.6" stroke-linecap="round" fill="none" />
<path d="M138.0 626.7h0M149.4 632.6h0M172.2 617.3h0M178.4 613.1h0M171.7 641.3h0M181.5 634.2h0M183.5 637.8h0" stroke="#6c6cf0" stroke-width="3.6" stroke-linecap="round" fill="none" />
<path d="M141.4 624.5h0M157.8 622.5h0" stroke="#d83030" stroke-width="3.6" stroke-linecap="round" fill="none" />
<path d="M144.8 622.4h0" stroke="#f0ccd8" stroke-width="3.6" stroke-linecap="round" fill="none" />
<path d="M148.1 620.2h0M151.2 626.9h0" stroke="#e43c48" stroke-width="3.6" stroke-linecap="round" fill="none" />
<path d="M142.9 627.9h0M164.2 618.2h0M167.7 624.8h0" stroke="#8484f0" stroke-width="3.6" stroke-linecap="round" fill="none" />
<path d="M146.3 625.7h0" stroke="#f0e4fc" stroke-width="3.6" stroke-linecap="round" fill="none" />
<path d="M149.7 623.5h0" stroke="#d81818" stroke-width="3.6" stroke-linecap="round" fill="none" />
<path d="M153.0 621.4h0" stroke="#f0c0cc" stroke-width="3.6" stroke-linecap="round" fill="none" />
<path d="M156.2 619.2h0M147.9 629.1h0M169.5 628.2h0M173.1 635.2h0" stroke="#a8a8f0" stroke-width="3.6" stroke-linecap="round" fill="none" />
<path d="M159.4 617.1h0M170.5 614.1h0M165.9 621.5h0M169.1 619.4h0M181.4 611.1h0M186.2 612.2h0M189.1 610.2h0M172.7 626.0h0M166.5 640.0h0M176.9 642.6h0M185.5 641.4h0" stroke="#6060f0" stroke-width="3.6" stroke-linecap="round" fill="none" />
<path d="M154.5 624.7h0" stroke="#e4a8b4" stroke-width="3.6" stroke-linecap="round" fill="none" />
<path d="M152.8 630.3h0M168.0 634.0h0" stroke="#c0c0fc" stroke-width="3.6" stroke-linecap="round" fill="none" />
<path d="M156.2 628.1h0M159.5 625.9h0" stroke="#f0d8e4" stroke-width="3.6" stroke-linecap="round" fill="none" />
<path d="M162.7 623.7h0M171.3 631.7h0" stroke="#b4b4fc" stroke-width="3.6" stroke-linecap="round" fill="none" />
<path d="M157.8 631.5h0M162.9 632.8h0" stroke="#ccccfc" stroke-width="3.6" stroke-linecap="round" fill="none" />
<path d="M161.2 629.3h0" stroke="#f0e4f0" stroke-width="3.6" stroke-linecap="round" fill="none" />
<path d="M164.4 627.0h0M166.2 630.5h0" stroke="#d8d8fc" stroke-width="3.6" stroke-linecap="round" fill="none" />
<path d="M82.1 631.3h0M85.9 629.0h0M89.7 626.7h0M93.5 624.5h0M97.2 622.4h0M100.8 620.2h0M104.4 618.1h0M108.0 616.0h0M111.5 613.9h0M114.9 611.9h0M118.3 609.9h0M121.7 607.9h0M125.0 605.9h0M128.3 604.0h0M131.5 602.1h0M134.7 600.2h0M137.9 598.3h0M141.0 596.5h0M144.1 594.7h0M147.1 592.9h0M150.1 591.1h0M153.1 589.3h0M156.0 587.6h0M158.9 585.9h0M86.9 632.5h0M90.7 630.2h0M94.5 627.9h0M98.2 625.7h0M101.9 623.5h0M105.5 621.3h0M109.1 619.2h0M112.6 617.1h0M116.1 615.0h0M119.5 613.0h0M122.9 610.9h0M126.2 608.9h0M129.5 606.9h0M132.8 605.0h0M136.0 603.1h0M139.2 601.2h0M142.3 599.3h0M145.4 597.4h0M148.5 595.6h0M151.5 593.8h0M154.5 592.0h0M157.4 590.3h0M160.4 588.5h0M163.2 586.8h0M91.7 633.7h0M95.5 631.4h0M99.2 629.1h0M102.9 626.9h0M106.6 624.7h0M110.2 622.5h0M113.8 620.3h0M117.3 618.2h0M120.7 616.1h0M124.1 614.0h0M127.5 612.0h0M130.8 610.0h0M134.1 608.0h0M137.4 606.0h0M140.6 604.1h0M143.7 602.2h0M146.8 600.3h0M149.9 598.4h0M153.0 596.6h0M156.0 594.8h0M158.9 593.0h0M161.9 591.2h0M164.8 589.4h0M167.6 587.7h0M96.5 635.0h0M100.3 632.6h0M104.0 630.3h0M107.7 628.1h0M111.4 625.9h0M114.9 623.7h0M118.5 621.5h0M122.0 619.3h0M125.4 617.2h0M128.8 615.1h0M132.2 613.1h0M135.5 611.1h0M138.7 609.1h0M142.0 607.1h0M145.1 605.1h0M148.3 603.2h0M151.4 601.3h0M154.4 599.4h0M157.5 597.6h0M160.5 595.7h0M163.4 593.9h0M166.3 592.1h0M169.2 590.4h0M172.0 588.6h0M101.4 636.2h0M105.1 633.9h0M108.9 631.6h0M112.5 629.3h0M116.1 627.0h0M119.7 624.8h0M123.2 622.6h0M126.7 620.5h0M130.1 618.3h0M133.5 616.2h0M136.8 614.2h0M140.1 612.1h0M143.4 610.1h0M146.6 608.1h0M149.7 606.2h0M152.9 604.2h0M155.9 602.3h0M159.0 600.4h0M162.0 598.5h0M165.0 596.7h0M167.9 594.9h0M170.8 593.1h0M173.6 591.3h0M176.5 589.5h0M106.3 637.5h0M110.0 635.1h0M113.7 632.8h0M117.4 630.5h0M121.0 628.2h0M124.5 626.0h0M128.0 623.8h0M131.5 621.6h0M141.6 615.3h0M144.8 613.2h0M148.1 611.2h0M151.2 609.2h0M154.4 607.2h0M157.5 605.2h0M160.5 603.3h0M163.6 601.4h0M166.6 599.5h0M169.5 597.7h0M172.4 595.8h0M175.3 594.0h0M178.1 592.2h0M180.9 590.5h0M111.2 638.8h0M115.0 636.4h0M118.6 634.0h0M122.3 631.7h0M125.9 629.4h0M129.4 627.2h0M149.6 614.3h0M152.8 612.3h0M155.9 610.2h0M159.1 608.3h0M162.1 606.3h0M165.2 604.3h0M168.2 602.4h0M171.2 600.5h0M174.1 598.7h0M177.0 596.8h0M179.8 595.0h0M182.7 593.2h0M185.4 591.4h0M116.2 640.0h0M119.9 637.6h0M123.6 635.3h0M127.2 632.9h0M130.8 630.6h0M134.3 628.4h0M157.5 613.3h0M160.6 611.3h0M163.8 609.3h0M166.8 607.3h0M169.8 605.4h0M172.8 603.4h0M175.8 601.5h0M178.7 599.7h0M181.6 597.8h0M184.4 596.0h0M187.2 594.1h0M190.0 592.4h0M121.3 641.3h0M124.9 638.9h0M128.6 636.5h0M132.2 634.2h0M135.7 631.9h0M139.2 629.6h0M165.4 612.4h0M168.5 610.4h0M171.5 608.4h0M174.5 606.4h0M177.5 604.5h0M180.4 602.5h0M183.3 600.7h0M186.2 598.8h0M189.0 596.9h0M191.8 595.1h0M194.5 593.3h0M126.3 642.6h0M130.0 640.2h0M133.6 637.8h0M137.2 635.4h0M140.7 633.1h0M176.3 609.4h0M179.3 607.5h0M182.2 605.5h0M185.1 603.6h0M188.0 601.7h0M190.8 599.8h0M193.6 597.9h0M196.4 596.1h0M199.1 594.3h0M131.4 643.9h0M135.1 641.5h0M138.7 639.1h0M142.2 636.7h0M145.7 634.3h0M187.0 606.5h0M189.8 604.6h0M192.7 602.7h0M195.5 600.8h0M198.3 598.9h0M201.0 597.0h0M203.7 595.2h0M136.6 645.3h0M140.2 642.8h0M143.8 640.4h0M147.3 638.0h0M150.8 635.6h0M173.7 619.9h0M176.8 617.8h0M197.4 603.7h0M200.2 601.8h0M203.0 599.9h0M205.7 598.0h0M208.4 596.2h0M141.8 646.6h0M145.4 644.1h0M148.9 641.7h0M152.4 639.2h0M175.5 623.2h0M178.7 621.0h0M181.7 618.9h0M184.8 616.8h0M187.8 614.7h0M190.7 612.7h0M205.0 602.8h0M207.7 600.9h0M210.4 599.0h0M213.1 597.2h0M147.0 648.0h0M150.6 645.4h0M154.1 643.0h0M157.6 640.5h0M180.5 624.4h0M183.6 622.2h0M186.7 620.0h0M189.7 617.9h0M192.7 615.8h0M195.6 613.7h0M198.5 611.7h0M201.4 609.7h0M204.2 607.7h0M207.0 605.7h0M209.7 603.8h0M212.5 601.9h0M215.1 600.0h0M217.8 598.1h0M152.3 649.3h0M155.8 646.8h0M159.3 644.3h0M162.8 641.8h0M182.4 627.8h0M185.6 625.5h0M188.6 623.3h0M191.7 621.2h0M194.7 619.0h0M197.6 616.9h0M200.5 614.8h0M203.4 612.8h0M206.3 610.8h0M209.1 608.8h0M211.8 606.8h0M214.6 604.8h0M217.3 602.9h0M219.9 601.0h0M222.5 599.1h0M157.6 650.7h0M161.1 648.1h0M164.6 645.6h0M168.0 643.1h0M184.4 631.2h0M187.5 629.0h0M190.6 626.7h0M193.7 624.5h0M196.7 622.3h0M199.7 620.2h0M202.6 618.0h0M205.5 615.9h0M208.4 613.9h0M211.2 611.8h0M214.0 609.8h0M216.7 607.8h0M219.4 605.9h0M222.1 603.9h0M224.7 602.0h0M227.3 600.1h0M163.0 652.1h0M166.5 649.5h0M169.9 646.9h0M173.3 644.4h0M189.6 632.5h0M192.7 630.2h0M195.7 627.9h0M198.8 625.7h0M201.8 623.5h0M204.7 621.3h0M207.6 619.2h0M210.5 617.1h0M213.3 615.0h0M216.1 612.9h0M218.9 610.9h0M221.6 608.9h0M224.3 606.9h0M226.9 605.0h0M229.6 603.0h0M232.1 601.1h0M168.4 653.4h0M171.8 650.8h0M175.2 648.3h0M178.6 645.8h0M191.6 636.0h0M194.8 633.7h0M197.8 631.4h0M200.9 629.1h0M203.9 626.9h0M206.9 624.7h0M209.8 622.5h0M212.7 620.3h0M215.5 618.2h0M218.3 616.1h0M221.1 614.0h0M223.8 612.0h0M226.5 609.9h0M229.2 608.0h0M231.8 606.0h0M234.4 604.1h0M237.0 602.1h0M173.8 654.8h0M177.2 652.2h0M180.6 649.6h0M184.0 647.1h0M187.3 644.6h0M193.7 639.7h0M196.9 637.3h0M200.0 634.9h0M203.1 632.6h0M206.1 630.3h0M209.1 628.1h0M212.0 625.8h0M214.9 623.6h0M217.8 621.5h0M220.6 619.3h0M223.4 617.2h0M226.1 615.1h0M228.8 613.1h0M231.5 611.0h0M234.1 609.0h0M236.8 607.0h0M239.3 605.1h0M241.9 603.2h0M179.3 656.3h0M182.7 653.6h0M186.1 651.0h0M189.4 648.5h0M192.7 645.9h0M195.9 643.4h0M199.1 641.0h0M202.2 638.6h0M205.3 636.2h0M208.3 633.9h0M211.3 631.5h0M214.3 629.3h0M217.2 627.0h0M220.1 624.8h0M222.9 622.6h0M225.7 620.4h0M228.5 618.3h0M231.2 616.2h0M233.9 614.1h0M236.5 612.1h0M239.1 610.1h0M241.7 608.1h0M244.3 606.1h0M246.8 604.2h0M184.8 657.7h0M188.2 655.0h0M191.6 652.4h0M194.8 649.8h0M198.1 647.3h0M201.3 644.8h0M204.4 642.3h0M207.5 639.9h0M210.6 637.5h0M213.6 635.1h0M216.6 632.8h0M219.5 630.5h0M222.4 628.2h0M225.3 626.0h0M228.1 623.8h0M230.8 621.6h0M233.6 619.4h0M236.3 617.3h0M238.9 615.2h0M241.6 613.2h0M244.2 611.1h0M246.7 609.1h0M249.2 607.2h0M251.7 605.2h0M190.4 659.1h0M193.8 656.4h0M197.1 653.8h0M200.3 651.2h0M203.6 648.6h0M206.7 646.1h0M209.8 643.6h0M212.9 641.2h0M216.0 638.7h0M218.9 636.4h0M221.9 634.0h0M224.8 631.7h0M227.7 629.4h0M230.5 627.2h0M233.3 624.9h0M236.0 622.7h0M238.7 620.6h0M241.4 618.5h0M244.0 616.4h0M246.6 614.3h0M249.2 612.2h0M251.7 610.2h0M254.2 608.2h0M256.7 606.2h0M196.0 660.6h0M199.4 657.9h0M202.7 655.2h0M205.9 652.6h0M209.1 650.0h0M212.2 647.4h0M215.3 644.9h0M218.4 642.5h0M221.4 640.0h0M224.3 637.6h0M227.2 635.3h0M230.1 632.9h0M233.0 630.6h0M235.8 628.4h0M238.5 626.1h0M241.2 623.9h0M243.9 621.7h0M246.6 619.6h0M249.2 617.5h0M251.8 615.4h0M254.3 613.3h0M256.8 611.3h0M259.3 609.3h0M261.7 607.3h0M201.7 662.0h0M205.0 659.3h0M208.3 656.6h0M211.5 654.0h0M214.6 651.4h0M217.7 648.8h0M220.8 646.3h0M223.8 643.8h0M226.8 641.3h0M229.7 638.9h0M232.6 636.5h0M235.5 634.2h0M238.3 631.8h0M241.1 629.6h0M243.8 627.3h0M246.5 625.1h0M249.1 622.9h0M251.8 620.7h0M254.4 618.6h0M256.9 616.5h0M259.4 614.4h0M261.9 612.4h0M264.4 610.3h0M266.8 608.3h0M207.4 663.5h0M210.7 660.7h0M213.9 658.0h0M217.1 655.4h0M220.2 652.7h0M223.3 650.2h0M226.3 647.6h0M229.3 645.1h0M232.3 642.6h0M235.2 640.2h0M238.1 637.8h0M240.9 635.4h0M243.7 633.1h0M246.4 630.8h0M249.1 628.5h0M251.8 626.3h0M254.4 624.1h0M257.0 621.9h0M259.6 619.7h0M262.1 617.6h0M264.6 615.5h0M267.1 613.4h0M269.5 611.4h0M271.9 609.4h0M213.2 665.0h0M216.4 662.2h0M219.6 659.5h0M222.8 656.8h0M225.9 654.1h0M228.9 651.5h0M231.9 649.0h0M234.9 646.4h0M237.8 643.9h0M240.7 641.5h0M243.5 639.1h0M246.3 636.7h0M249.1 634.3h0M251.8 632.0h0M254.5 629.7h0M257.1 627.5h0M259.7 625.2h0M262.3 623.0h0M264.8 620.9h0M267.3 618.7h0M269.8 616.6h0M272.2 614.5h0M274.6 612.5h0M277.0 610.5h0" stroke="#c0c0fc" stroke-width="1.4" stroke-linecap="round" fill="none" />
<path d="M134.9 619.5h0M138.2 617.4h0M132.9 625.0h0M146.3 616.4h0M154.3 615.4h0M159.1 616.5h0M162.3 614.4h0M144.1 630.8h0M170.2 613.5h0M173.3 611.4h0M149.1 632.0h0M165.6 620.9h0M168.8 618.8h0M181.1 610.5h0M184.0 608.5h0M170.6 622.0h0M179.9 615.7h0M182.9 613.6h0M185.9 611.6h0M188.8 609.6h0M191.7 607.6h0M194.6 605.6h0M155.9 636.8h0M172.4 625.4h0M193.7 610.6h0M196.5 608.6h0M199.4 606.7h0M202.2 604.7h0M161.0 638.1h0M177.4 626.6h0M166.2 639.4h0M179.3 630.0h0M171.4 640.7h0M181.2 633.6h0M176.6 642.0h0M186.4 634.8h0M181.9 643.3h0M185.2 640.8h0M188.4 638.4h0M190.5 642.1h0" stroke="#ccccfc" stroke-width="1.4" stroke-linecap="round" fill="none" />
<path d="M136.3 622.8h0M143.0 618.5h0M137.7 626.1h0M151.1 617.5h0M142.6 627.3h0M160.8 619.8h0M163.9 617.6h0M167.1 615.5h0M171.9 616.7h0M175.0 614.6h0M178.1 612.5h0M154.2 633.2h0M167.4 624.2h0M159.2 634.5h0M174.2 628.8h0M176.1 632.3h0M174.7 638.3h0M178.0 635.9h0M179.9 639.5h0M183.2 637.2h0" stroke="#d8d8fc" stroke-width="1.4" stroke-linecap="round" fill="none" />
<path d="M139.7 620.6h0M155.9 618.6h0M147.6 628.5h0M169.2 627.6h0M164.4 635.7h0M171.0 631.1h0M169.5 637.0h0M172.8 634.6h0" stroke="#e4e4fc" stroke-width="1.4" stroke-linecap="round" fill="none" />
<path d="M141.1 623.9h0M157.5 621.9h0" stroke="#f0c0c0" stroke-width="1.4" stroke-linecap="round" fill="none" />
<path d="M144.5 621.8h0M152.7 620.8h0M155.9 627.5h0" stroke="#fcf0f0" stroke-width="1.4" stroke-linecap="round" fill="none" />
<path d="M147.8 619.6h0M150.9 626.3h0" stroke="#f0c0cc" stroke-width="1.4" stroke-linecap="round" fill="none" />
<path d="M146.0 625.1h0M160.9 628.7h0" stroke="#fcfcfc" stroke-width="1.4" stroke-linecap="round" fill="none" />
<path d="M149.4 622.9h0" stroke="#f0b4c0" stroke-width="1.4" stroke-linecap="round" fill="none" />
<path d="M154.2 624.1h0" stroke="#fce4e4" stroke-width="1.4" stroke-linecap="round" fill="none" />
<path d="M152.5 629.7h0M162.4 623.1h0M157.5 630.9h0M164.1 626.4h0M162.6 632.2h0M165.9 629.9h0M167.7 633.4h0" stroke="#f0f0fc" stroke-width="1.4" stroke-linecap="round" fill="none" />
<path d="M159.2 625.3h0" stroke="#fcf0fc" stroke-width="1.4" stroke-linecap="round" fill="none" />
<line x1="69.5" y1="704.6" x2="58.9" y2="554.6" stroke="#1a1a1a" stroke-width="1.5"/>
<line x1="69.5" y1="704.6" x2="217.7" y2="751.7" stroke="#1a1a1a" stroke-width="1.5"/>
<line x1="217.7" y1="751.7" x2="289.0" y2="675.5" stroke="#1a1a1a" stroke-width="1.5"/>
<line x1="69.5" y1="704.6" x2="73.5" y2="704.3" stroke="#1a1a1a" stroke-width="1"/>
<line x1="68.9" y1="696.0" x2="71.4" y2="695.7" stroke="#1a1a1a" stroke-width="1"/>
<line x1="68.3" y1="687.3" x2="72.3" y2="687.0" stroke="#1a1a1a" stroke-width="1"/>
<line x1="67.7" y1="678.6" x2="70.2" y2="678.3" stroke="#1a1a1a" stroke-width="1"/>
<line x1="67.1" y1="669.7" x2="71.1" y2="669.4" stroke="#1a1a1a" stroke-width="1"/>
<line x1="66.4" y1="660.7" x2="68.9" y2="660.4" stroke="#1a1a1a" stroke-width="1"/>
<line x1="65.8" y1="651.7" x2="69.8" y2="651.4" stroke="#1a1a1a" stroke-width="1"/>
<line x1="65.1" y1="642.5" x2="67.6" y2="642.2" stroke="#1a1a1a" stroke-width="1"/>
<line x1="64.5" y1="633.2" x2="68.5" y2="632.9" stroke="#1a1a1a" stroke-width="1"/>
<line x1="63.8" y1="623.8" x2="66.3" y2="623.5" stroke="#1a1a1a" stroke-width="1"/>
<line x1="63.1" y1="614.2" x2="67.1" y2="613.9" stroke="#1a1a1a" stroke-width="1"/>
<line x1="62.4" y1="604.6" x2="64.9" y2="604.3" stroke="#1a1a1a" stroke-width="1"/>
<line x1="61.7" y1="594.9" x2="65.7" y2="594.6" stroke="#1a1a1a" stroke-width="1"/>
<line x1="61.0" y1="585.0" x2="63.5" y2="584.7" stroke="#1a1a1a" stroke-width="1"/>
<line x1="60.3" y1="575.0" x2="64.3" y2="574.7" stroke="#1a1a1a" stroke-width="1"/>
<line x1="59.6" y1="564.9" x2="62.1" y2="564.6" stroke="#1a1a1a" stroke-width="1"/>
<line x1="58.9" y1="554.6" x2="62.9" y2="554.3" stroke="#1a1a1a" stroke-width="1"/>
<line x1="69.5" y1="704.6" x2="68.9" y2="702.2" stroke="#1a1a1a" stroke-width="1"/>
<line x1="217.7" y1="751.7" x2="215.4" y2="752.0" stroke="#1a1a1a" stroke-width="1"/>
<line x1="83.5" y1="709.0" x2="82.9" y2="706.6" stroke="#1a1a1a" stroke-width="1"/>
<line x1="226.5" y1="742.4" x2="224.2" y2="742.6" stroke="#1a1a1a" stroke-width="1"/>
<line x1="97.7" y1="713.5" x2="97.1" y2="711.2" stroke="#1a1a1a" stroke-width="1"/>
<line x1="234.9" y1="733.4" x2="232.6" y2="733.6" stroke="#1a1a1a" stroke-width="1"/>
<line x1="112.3" y1="718.2" x2="111.7" y2="715.8" stroke="#1a1a1a" stroke-width="1"/>
<line x1="243.0" y1="724.7" x2="240.7" y2="725.0" stroke="#1a1a1a" stroke-width="1"/>
<line x1="127.3" y1="722.9" x2="126.6" y2="720.6" stroke="#1a1a1a" stroke-width="1"/>
<line x1="250.7" y1="716.5" x2="248.5" y2="716.7" stroke="#1a1a1a" stroke-width="1"/>
<line x1="142.5" y1="727.8" x2="141.9" y2="725.4" stroke="#1a1a1a" stroke-width="1"/>
<line x1="258.2" y1="708.5" x2="255.9" y2="708.8" stroke="#1a1a1a" stroke-width="1"/>
<line x1="158.2" y1="732.8" x2="157.5" y2="730.4" stroke="#1a1a1a" stroke-width="1"/>
<line x1="265.3" y1="700.8" x2="263.1" y2="701.1" stroke="#1a1a1a" stroke-width="1"/>
<line x1="174.2" y1="737.9" x2="173.6" y2="735.5" stroke="#1a1a1a" stroke-width="1"/>
<line x1="272.2" y1="693.5" x2="270.0" y2="693.7" stroke="#1a1a1a" stroke-width="1"/>
<line x1="190.6" y1="743.1" x2="190.0" y2="740.7" stroke="#1a1a1a" stroke-width="1"/>
<line x1="278.9" y1="686.4" x2="276.6" y2="686.6" stroke="#1a1a1a" stroke-width="1"/>
<line x1="207.4" y1="748.5" x2="206.8" y2="746.1" stroke="#1a1a1a" stroke-width="1"/>
<line x1="285.3" y1="679.5" x2="283.1" y2="679.8" stroke="#1a1a1a" stroke-width="1"/>
<text transform="translate(55.9,561.1) rotate(-8.0) skewX(-12)" font-size="10" font-weight="bold" fill="#1a1a1a" stroke="#1a1a1a" stroke-width="0.2" text-anchor="end" font-family='"Liberation Sans", sans-serif' >1.2</text>
<text transform="translate(57.3,581.5) rotate(-11.5) skewX(-12)" font-size="10" font-weight="bold" fill="#1a1a1a" stroke="#1a1a1a" stroke-width="0.2" text-anchor="end" font-family='"Liberation Sans", sans-serif' >0.9</text>
<text transform="translate(58.7,601.4) rotate(-15.0) skewX(-12)" font-size="10" font-weight="bold" fill="#1a1a1a" stroke="#1a1a1a" stroke-width="0.2" text-anchor="end" font-family='"Liberation Sans", sans-serif' >0.6</text>
<text transform="translate(60.1,620.7) rotate(-18.5) skewX(-12)" font-size="10" font-weight="bold" fill="#1a1a1a" stroke="#1a1a1a" stroke-width="0.2" text-anchor="end" font-family='"Liberation Sans", sans-serif' >0.3</text>
<text transform="translate(61.5,639.7) rotate(-22.0) skewX(-12)" font-size="10" font-weight="bold" fill="#1a1a1a" stroke="#1a1a1a" stroke-width="0.2" text-anchor="end" font-family='"Liberation Sans", sans-serif' >0.0</text>
<text transform="translate(62.8,658.2) rotate(-25.5) skewX(-12)" font-size="10" font-weight="bold" fill="#1a1a1a" stroke="#1a1a1a" stroke-width="0.2" text-anchor="end" font-family='"Liberation Sans", sans-serif' >-0.3</text>
<text transform="translate(64.1,676.2) rotate(-29.0) skewX(-12)" font-size="10" font-weight="bold" fill="#1a1a1a" stroke="#1a1a1a" stroke-width="0.2" text-anchor="end" font-family='"Liberation Sans", sans-serif' >-0.6</text>
<text transform="translate(65.3,693.8) rotate(-32.5) skewX(-12)" font-size="10" font-weight="bold" fill="#1a1a1a" stroke="#1a1a1a" stroke-width="0.2" text-anchor="end" font-family='"Liberation Sans", sans-serif' >-0.9</text>
<text transform="translate(66.5,711.1) rotate(-36.0) skewX(-12)" font-size="10" font-weight="bold" fill="#1a1a1a" stroke="#1a1a1a" stroke-width="0.2" text-anchor="end" font-family='"Liberation Sans", sans-serif' >-1.2</text>
<text transform="translate(83.2,717.0) rotate(-50) skewX(-22)" font-size="9.8" font-weight="bold" fill="#1a1a1a" text-anchor="middle" dominant-baseline="central" font-family='"Liberation Sans", sans-serif'>100</text>
<text transform="translate(115.7,727.5) rotate(-50) skewX(-22)" font-size="9.8" font-weight="bold" fill="#1a1a1a" text-anchor="middle" dominant-baseline="central" font-family='"Liberation Sans", sans-serif'>150</text>
<text transform="translate(148.2,738.0) rotate(-50) skewX(-22)" font-size="9.8" font-weight="bold" fill="#1a1a1a" text-anchor="middle" dominant-baseline="central" font-family='"Liberation Sans", sans-serif'>200</text>
<text transform="translate(179.5,747.2) rotate(-50) skewX(-22)" font-size="9.8" font-weight="bold" fill="#1a1a1a" text-anchor="middle" dominant-baseline="central" font-family='"Liberation Sans", sans-serif'>250</text>
<text transform="translate(212.0,760.0) rotate(-50) skewX(-22)" font-size="9.8" font-weight="bold" fill="#1a1a1a" text-anchor="middle" dominant-baseline="central" font-family='"Liberation Sans", sans-serif'>300</text>
<text transform="translate(244.7,742.0) rotate(16) skewX(-25)" font-size="9.4" font-weight="bold" fill="#1a1a1a" text-anchor="middle" dominant-baseline="central" font-family='"Liberation Sans", sans-serif'>100</text>
<text transform="translate(257.5,724.5) rotate(16) skewX(-25)" font-size="9.4" font-weight="bold" fill="#1a1a1a" text-anchor="middle" dominant-baseline="central" font-family='"Liberation Sans", sans-serif'>150</text>
<text transform="translate(274.3,708.7) rotate(16) skewX(-25)" font-size="9.4" font-weight="bold" fill="#1a1a1a" text-anchor="middle" dominant-baseline="central" font-family='"Liberation Sans", sans-serif'>200</text>
<text transform="translate(287.8,693.5) rotate(16) skewX(-25)" font-size="9.4" font-weight="bold" fill="#1a1a1a" text-anchor="middle" dominant-baseline="central" font-family='"Liberation Sans", sans-serif'>250</text>
<text transform="translate(301.2,679.3) rotate(16) skewX(-25)" font-size="9.4" font-weight="bold" fill="#1a1a1a" text-anchor="middle" dominant-baseline="central" font-family='"Liberation Sans", sans-serif'>300</text>
<text transform="translate(41.5,645.0) rotate(86)" font-size="11.2" font-weight="bold" fill="#1a1a1a" stroke="#1a1a1a" stroke-width="0.25" text-anchor="middle" dominant-baseline="central" font-family='"Liberation Sans", sans-serif'>Orientation angle (rad)</text>
<text transform="translate(121.0,743.7) rotate(20) skewX(-8)" font-size="11.2" font-weight="bold" fill="#1a1a1a" text-anchor="middle" dominant-baseline="central" font-family='"Liberation Sans", sans-serif'>Nanofin width (nm)</text>
<text transform="translate(284.6,719.5) rotate(-46) scale(0.8,1)" font-size="10.5" font-weight="bold" fill="#1a1a1a" text-anchor="middle" dominant-baseline="central" font-family='"Liberation Sans", sans-serif'>Nanofin length (nm)</text>
<rect x="306.8" y="551.0" width="11" height="117.8" fill="url(#cb)"/>
<text x="324.5" y="557.0" font-size="10" font-weight="bold" fill="#1a1a1a" font-family='"Liberation Sans", sans-serif'>25000</text>
<text x="324.5" y="580.0" font-size="10" font-weight="bold" fill="#1a1a1a" font-family='"Liberation Sans", sans-serif'>20000</text>
<text x="324.5" y="603.0" font-size="10" font-weight="bold" fill="#1a1a1a" font-family='"Liberation Sans", sans-serif'>15000</text>
<text x="324.5" y="626.0" font-size="10" font-weight="bold" fill="#1a1a1a" font-family='"Liberation Sans", sans-serif'>10000</text>
<text x="324.5" y="649.0" font-size="10" font-weight="bold" fill="#1a1a1a" font-family='"Liberation Sans", sans-serif'>5000</text>
<text x="324.5" y="671.0" font-size="10" font-weight="bold" fill="#1a1a1a" font-family='"Liberation Sans", sans-serif'>0</text>
<text x="50" y="528.3" font-size="22.5" font-weight="bold" fill="#111" stroke="#111" stroke-width="0.4" font-family='"Liberation Serif", serif'>c</text>
<line x1="516.2" y1="647.6" x2="516.4" y2="516.0" stroke="#e2e2e2" stroke-width="0.9"/>
<line x1="424.9" y1="692.7" x2="416.2" y2="546.5" stroke="#e2e2e2" stroke-width="0.9"/>
<line x1="430.5" y1="711.7" x2="516.2" y2="647.6" stroke="#e2e2e2" stroke-width="0.9"/>
<line x1="424.9" y1="692.7" x2="570.1" y2="736.9" stroke="#e2e2e2" stroke-width="0.9"/>
<line x1="542.4" y1="654.2" x2="544.9" y2="520.3" stroke="#e2e2e2" stroke-width="0.9"/>
<line x1="444.6" y1="678.8" x2="438.0" y2="537.0" stroke="#e2e2e2" stroke-width="0.9"/>
<line x1="459.7" y1="721.0" x2="542.4" y2="654.2" stroke="#e2e2e2" stroke-width="0.9"/>
<line x1="444.6" y1="678.8" x2="586.1" y2="719.7" stroke="#e2e2e2" stroke-width="0.9"/>
<line x1="569.7" y1="661.0" x2="574.6" y2="524.9" stroke="#e2e2e2" stroke-width="0.9"/>
<line x1="462.9" y1="665.9" x2="458.2" y2="528.3" stroke="#e2e2e2" stroke-width="0.9"/>
<line x1="490.4" y1="730.8" x2="569.7" y2="661.0" stroke="#e2e2e2" stroke-width="0.9"/>
<line x1="462.9" y1="665.9" x2="601.0" y2="703.9" stroke="#e2e2e2" stroke-width="0.9"/>
<line x1="598.0" y1="668.1" x2="605.6" y2="529.6" stroke="#e2e2e2" stroke-width="0.9"/>
<line x1="480.0" y1="653.8" x2="477.0" y2="520.2" stroke="#e2e2e2" stroke-width="0.9"/>
<line x1="522.5" y1="741.0" x2="598.0" y2="668.1" stroke="#e2e2e2" stroke-width="0.9"/>
<line x1="480.0" y1="653.8" x2="614.8" y2="689.2" stroke="#e2e2e2" stroke-width="0.9"/>
<line x1="406.8" y1="687.3" x2="495.8" y2="627.4" stroke="#e2e2e2" stroke-width="0.9"/>
<line x1="495.8" y1="627.4" x2="628.8" y2="659.2" stroke="#e2e2e2" stroke-width="0.9"/>
<line x1="405.6" y1="669.7" x2="495.6" y2="612.0" stroke="#e2e2e2" stroke-width="0.9"/>
<line x1="495.6" y1="612.0" x2="630.0" y2="642.6" stroke="#e2e2e2" stroke-width="0.9"/>
<line x1="404.3" y1="651.7" x2="495.4" y2="596.3" stroke="#e2e2e2" stroke-width="0.9"/>
<line x1="495.4" y1="596.3" x2="631.3" y2="625.6" stroke="#e2e2e2" stroke-width="0.9"/>
<line x1="403.0" y1="633.2" x2="495.2" y2="580.2" stroke="#e2e2e2" stroke-width="0.9"/>
<line x1="495.2" y1="580.2" x2="632.6" y2="608.2" stroke="#e2e2e2" stroke-width="0.9"/>
<line x1="401.6" y1="614.2" x2="495.0" y2="563.8" stroke="#e2e2e2" stroke-width="0.9"/>
<line x1="495.0" y1="563.8" x2="633.9" y2="590.4" stroke="#e2e2e2" stroke-width="0.9"/>
<line x1="400.2" y1="594.9" x2="494.8" y2="547.1" stroke="#e2e2e2" stroke-width="0.9"/>
<line x1="494.8" y1="547.1" x2="635.2" y2="572.2" stroke="#e2e2e2" stroke-width="0.9"/>
<line x1="398.8" y1="575.0" x2="494.6" y2="530.0" stroke="#e2e2e2" stroke-width="0.9"/>
<line x1="494.6" y1="530.0" x2="636.6" y2="553.6" stroke="#e2e2e2" stroke-width="0.9"/>
<line x1="397.4" y1="554.6" x2="494.4" y2="512.6" stroke="#d0d0d0" stroke-width="1.1"/>
<line x1="494.4" y1="512.6" x2="638.0" y2="534.6" stroke="#d0d0d0" stroke-width="1.1"/>
<line x1="638.0" y1="534.6" x2="627.5" y2="675.5" stroke="#d0d0d0" stroke-width="1.1"/>
<line x1="496.0" y1="642.6" x2="494.4" y2="512.6" stroke="#d8d8d8" stroke-width="1.0"/>
<line x1="496.0" y1="642.6" x2="627.5" y2="675.5" stroke="#d8d8d8" stroke-width="0.9"/>
<line x1="408.0" y1="704.6" x2="496.0" y2="642.6" stroke="#d8d8d8" stroke-width="0.9"/>
<path d="M492.6 719.1h1.6M496.7 682.3h1.6M565.7 672.6h1.6M568.5 690.1h1.6M561.9 713.5h1.6M514.9 699.9h1.6M547.3 722.2h1.6M535.7 722.1h1.6M540.2 707.2h1.6M536.7 715.7h1.6M507.1 682.4h1.6M529.0 707.1h1.6M529.2 734.0h1.6M550.6 713.4h1.6M503.2 681.3h1.6M579.5 673.0h1.6M534.0 718.2h1.6M482.9 672.9h1.6M495.7 706.8h1.6M520.2 731.2h1.6M478.0 688.6h1.6M534.2 702.4h1.6M541.0 717.0h1.6M504.0 719.2h1.6M518.6 727.2h1.6M524.2 722.0h1.6M549.9 719.6h1.6M519.4 710.6h1.6M490.1 683.3h1.6M568.5 676.6h1.6M561.4 719.7h1.6M491.3 715.3h1.6M556.9 718.4h1.6M489.6 721.7h1.6M565.7 666.3h1.6M491.6 705.5h1.6M487.1 714.0h1.6M516.7 713.1h1.6M495.4 679.2h1.6M515.7 729.8h1.6M541.9 710.8h1.6M492.9 709.2h1.6M481.8 669.9h1.6M517.9 707.0h1.6M499.8 708.0h1.6M563.9 717.2h1.6M481.1 719.0h1.6M522.1 708.2h1.6M463.5 675.8h1.6M555.0 714.6h1.6M562.6 703.0h1.6M525.3 715.6h1.6M488.1 669.0h1.6M486.6 674.0h1.6M511.3 728.4h1.6M552.4 717.1h1.6M494.4 703.2h1.6M523.2 702.3h1.6M485.1 679.1h1.6M469.2 683.2h1.6M538.5 703.6h1.6M481.3 678.0h1.6M515.5 719.3h1.6M508.3 720.6h1.6M497.0 710.4h1.6M496.8 674.0h1.6M502.6 715.4h1.6M525.8 725.9h1.6M585.1 674.4h1.6M500.7 675.1h1.6M505.5 723.1h1.6M512.3 702.2h1.6M524.8 705.8h1.6M475.4 670.9h1.6M479.7 683.2h1.6M491.6 678.1h1.6M519.1 701.1h1.6M537.6 709.6h1.6M531.3 720.8h1.6M535.0 712.0h1.6M484.6 706.7h1.6M493.9 723.0h1.6M497.2 700.9h1.6M538.4 719.5h1.6M549.1 726.1h1.6M571.2 674.0h1.6M536.8 700.1h1.6M476.9 685.4h1.6M479.9 715.2h1.6M574.3 691.7h1.6M478.1 668.9h1.6M524.7 732.6h1.6M553.1 710.9h1.6M492.8 681.2h1.6M527.4 703.5h1.6M491.3 686.5h1.6M487.4 685.4h1.6M509.8 724.5h1.6M476.4 704.2h1.6M501.3 702.1h1.6M483.4 703.1h1.6M558.8 722.3h1.6M489.6 664.1h1.6M544.6 724.8h1.6M488.9 680.1h1.6M485.8 710.3h1.6M508.1 701.0h1.6M511.1 718.0h1.6M551.7 723.5h1.6M548.8 709.7h1.6M568.3 718.5h1.6M542.0 727.4h1.6M509.7 714.2h1.6M489.3 672.0h1.6M490.7 667.0h1.6M466.3 673.8h1.6M478.7 711.5h1.6M479.4 701.9h1.6M484.0 676.0h1.6M530.0 701.2h1.6M480.8 686.5h1.6M528.0 713.2h1.6M544.4 708.4h1.6M498.4 714.1h1.6M529.6 716.9h1.6M576.8 675.5h1.6M511.0 708.1h1.6M498.5 704.4h1.6M513.7 705.7h1.6M526.9 719.4h1.6M512.7 721.9h1.6M523.0 728.5h1.6M528.6 723.3h1.6M521.4 724.6h1.6M476.5 673.9h1.6M480.2 674.9h1.6M513.9 715.5h1.6M473.1 684.2h1.6M471.0 677.9h1.6M543.6 714.5h1.6M483.5 684.3h1.6M521.7 698.8h1.6M547.0 706.0h1.6M506.8 706.9h1.6M532.6 698.9h1.6M495.5 716.6h1.6M517.0 723.2h1.6M471.7 669.8h1.6M487.8 677.0h1.6M473.8 675.9h1.6M470.0 674.8h1.6M479.1 671.9h1.6M484.1 716.5h1.6M477.5 676.9h1.6M499.3 680.2h1.6M476.9 717.7h1.6M468.2 680.0h1.6M474.1 687.5h1.6M527.5 729.9h1.6M494.5 668.0h1.6M525.9 700.0h1.6M515.2 709.4h1.6M530.3 727.3h1.6M514.2 725.8h1.6M557.5 712.2h1.6M533.3 708.3h1.6M464.5 678.9h1.6M539.3 730.0h1.6" stroke="#3c3cc4" stroke-width="2.9" stroke-linecap="round" fill="none"/>
<path d="M583.3 697.7h1.6M518.2 716.8h1.6M553.1 710.9h1.6M492.8 681.2h1.6M491.9 670.0h1.6M519.8 720.7h1.6M494.2 676.0h1.6M521.7 698.8h1.6M494.2 712.9h1.6M471.7 669.8h1.6M535.9 705.9h1.6M551.7 723.5h1.6M534.8 728.6h1.6M542.0 727.4h1.6M568.5 676.6h1.6M476.9 717.7h1.6M478.7 711.5h1.6M527.5 729.9h1.6M591.6 689.4h1.6M537.6 709.6h1.6M540.2 723.4h1.6M470.2 686.4h1.6M548.0 715.8h1.6M482.4 681.1h1.6" stroke="#9a9ade" stroke-width="2.9" stroke-linecap="round" fill="none"/>
<path d="M533.0 724.7h1.6M518.2 716.8h1.6M481.8 669.9h1.6M523.0 728.5h1.6M531.6 704.7h1.6M481.1 719.0h1.6M514.9 699.9h1.6M562.8 688.6h1.6M520.6 704.6h1.6M499.7 717.9h1.6M475.2 690.8h1.6M488.7 707.9h1.6M488.3 717.8h1.6M586.1 694.9h1.6M512.5 711.8h1.6M496.8 720.4h1.6M494.2 712.9h1.6M502.6 725.7h1.6M494.0 684.4h1.6M548.8 709.7h1.6M487.0 666.0h1.6M512.3 702.2h1.6M559.4 715.9h1.6M501.2 711.7h1.6M484.6 706.7h1.6M542.7 704.8h1.6M576.8 675.5h1.6M545.4 718.3h1.6" stroke="#d0d0ec" stroke-width="2.9" stroke-linecap="round" fill="none"/>
<path d="M491.6 678.1h1.6M487.5 704.3h1.6M485.8 710.3h1.6M542.7 704.8h1.6M504.0 709.3h1.6" stroke="#d84848" stroke-width="2.9" stroke-linecap="round" fill="none"/>
<path d="M536.8 700.1h1.6M513.7 705.7h1.6M501.9 678.2h1.6M560.1 677.7h1.6M478.6 680.1h1.6M485.5 670.9h1.6M496.7 682.3h1.6M517.9 707.0h1.6M486.2 682.2h1.6M516.4 703.4h1.6M469.0 671.8h1.6M576.6 669.1h1.6M523.7 711.9h1.6M513.9 715.5h1.6M480.7 667.0h1.6M495.6 671.0h1.6M498.1 677.1h1.6M473.1 684.2h1.6M546.2 712.1h1.6M505.4 703.3h1.6M484.7 687.6h1.6M571.5 694.5h1.6M506.9 716.7h1.6M488.3 717.8h1.6M482.9 712.8h1.6M484.4 668.0h1.6M532.3 714.4h1.6M539.3 713.3h1.6M529.2 734.0h1.6M574.5 698.9h1.6M490.0 711.6h1.6M505.5 723.1h1.6M481.9 689.7h1.6M518.6 727.2h1.6M490.1 683.3h1.6M519.4 710.6h1.6M524.8 705.8h1.6M504.0 709.3h1.6M577.5 703.5h1.6M522.6 718.1h1.6M519.1 701.1h1.6M515.2 709.4h1.6M500.6 683.4h1.6M571.3 680.6h1.6M493.9 723.0h1.6M495.4 679.2h1.6M551.3 707.3h1.6M502.6 705.6h1.6M515.7 729.8h1.6M532.0 731.3h1.6" stroke="#6060d0" stroke-width="2.9" stroke-linecap="round" fill="none"/>
<path d="M430.0 641.2l-0.6 1.8M466.8 624.3l-0.6 1.8M439.7 643.6l-0.6 1.8M432.9 570.8l-0.6 1.8M443.2 583.3l-0.6 1.8M417.5 600.5l-0.6 1.8M424.0 652.2l-0.6 1.8M443.3 641.2l-0.6 1.8M468.9 623.7l-0.6 1.8M448.7 639.9l-0.6 1.8M420.0 584.2l-0.6 1.8M458.6 570.4l-0.6 1.8M440.0 584.1l-0.6 1.8M436.4 576.4l-0.6 1.8M442.4 635.4l-0.6 1.8M468.6 614.8l-0.6 1.8M446.3 569.2l-0.6 1.8M427.0 647.5l-0.6 1.8M460.5 626.8l-0.6 1.8M439.6 574.4l-0.6 1.8M416.6 585.2l-0.6 1.8M443.0 634.7l-0.6 1.8M457.7 629.3l-0.6 1.8M460.5 625.5l-0.6 1.8M430.3 646.3l-0.6 1.8M439.3 636.6l-0.6 1.8M427.1 588.3l-0.6 1.8M446.2 565.6l-0.6 1.8M465.4 579.0l-0.6 1.8M426.6 640.4l-0.6 1.8M413.4 647.2l-0.6 1.8M417.0 593.1l-0.6 1.8M454.6 623.4l-0.6 1.8M449.0 634.3l-0.6 1.8M446.2 638.1l-0.6 1.8M449.2 637.6l-0.6 1.8M436.5 578.2l-0.6 1.8M483.5 623.8l-0.6 1.8M430.6 653.5l-0.6 1.8M414.7 666.4l-0.6 1.8M449.1 636.5l-0.6 1.8M429.7 636.6l-0.6 1.8M429.9 638.9l-0.6 1.8M409.2 582.3l-0.6 1.8M433.5 582.7l-0.6 1.8M446.2 637.5l-0.6 1.8M430.5 589.6l-0.6 1.8M442.7 572.3l-0.6 1.8M430.2 583.7l-0.6 1.8M439.7 576.1l-0.6 1.8M414.1 602.1l-0.6 1.8M416.6 586.1l-0.6 1.8M414.1 657.3l-0.6 1.8M451.6 623.8l-0.6 1.8M463.2 622.1l-0.6 1.8M454.9 630.9l-0.6 1.8M439.5 640.1l-0.6 1.8M433.1 639.7l-0.6 1.8M436.3 574.3l-0.6 1.8M423.4 582.4l-0.6 1.8M452.6 572.6l-0.6 1.8M457.7 629.9l-0.6 1.8M416.8 588.4l-0.6 1.8M482.0 544.8l-0.6 1.8M452.4 567.0l-0.6 1.8M436.1 634.6l-0.6 1.8M442.9 576.7l-0.6 1.8M443.3 573.6l-0.6 1.8M426.2 572.2l-0.6 1.8M433.2 578.0l-0.6 1.8M439.2 633.4l-0.6 1.8M433.9 653.3l-0.6 1.8M420.7 653.3l-0.6 1.8M423.8 648.4l-0.6 1.8M423.8 648.9l-0.6 1.8M413.3 590.7l-0.6 1.8M457.8 632.3l-0.6 1.8M466.2 626.7l-0.6 1.8M426.1 569.3l-0.6 1.8M429.8 576.2l-0.6 1.8M416.4 583.0l-0.6 1.8M454.7 626.9l-0.6 1.8M409.6 588.4l-0.6 1.8M433.8 652.4l-0.6 1.8M443.2 639.6l-0.6 1.8M423.3 640.8l-0.6 1.8M436.5 643.0l-0.6 1.8M426.8 583.8l-0.6 1.8M478.9 559.8l-0.6 1.8M469.4 544.9l-0.6 1.8M463.5 629.9l-0.6 1.8M448.9 630.4l-0.6 1.8M443.0 578.2l-0.6 1.8M449.4 569.2l-0.6 1.8M452.5 568.2l-0.6 1.8M426.0 568.8l-0.6 1.8M454.9 631.5l-0.6 1.8M423.7 647.5l-0.6 1.8M452.4 567.9l-0.6 1.8M413.0 585.5l-0.6 1.8M445.5 635.7l-0.6 1.8M452.9 636.4l-0.6 1.8M413.2 588.6l-0.6 1.8M413.2 588.1l-0.6 1.8M424.0 594.5l-0.6 1.8M436.7 647.6l-0.6 1.8M424.0 652.6l-0.6 1.8M449.7 577.1l-0.6 1.8M420.1 642.8l-0.6 1.8M435.9 565.1l-0.6 1.8M489.5 599.0l-0.6 1.8M417.0 592.0l-0.6 1.8M427.4 653.2l-0.6 1.8M436.6 643.9l-0.6 1.8M460.4 623.0l-0.6 1.8M410.2 597.9l-0.6 1.8M422.9 573.5l-0.6 1.8M430.0 579.3l-0.6 1.8M412.9 584.1l-0.6 1.8M413.8 653.1l-0.6 1.8M430.1 643.3l-0.6 1.8M420.0 584.0l-0.6 1.8M449.1 634.4l-0.6 1.8M430.7 654.5l-0.6 1.8M423.3 582.1l-0.6 1.8M445.6 637.0l-0.6 1.8M436.2 570.6l-0.6 1.8M420.2 644.7l-0.6 1.8M442.7 640.6l-0.6 1.8M420.6 594.4l-0.6 1.8M430.2 645.6l-0.6 1.8M416.7 587.9l-0.6 1.8M432.9 571.1l-0.6 1.8M442.4 634.4l-0.6 1.8M410.1 596.3l-0.6 1.8M452.6 571.3l-0.6 1.8M457.7 628.6l-0.6 1.8M457.8 631.8l-0.6 1.8M463.5 629.5l-0.6 1.8M426.5 577.8l-0.6 1.8M429.8 575.2l-0.6 1.8M463.3 626.1l-0.6 1.8M416.5 584.1l-0.6 1.8M413.1 586.3l-0.6 1.8M457.7 628.3l-0.6 1.8M445.5 635.5l-0.6 1.8M423.4 583.9l-0.6 1.8M457.9 633.7l-0.6 1.8M439.3 568.8l-0.6 1.8M454.9 631.1l-0.6 1.8M426.8 643.2l-0.6 1.8M426.8 582.3l-0.6 1.8M413.1 586.0l-0.6 1.8M439.7 576.2l-0.6 1.8M445.8 570.6l-0.6 1.8M482.3 559.1l-0.6 1.8M439.6 575.4l-0.6 1.8M460.6 629.8l-0.6 1.8M413.0 585.3l-0.6 1.8M439.5 640.5l-0.6 1.8M485.3 543.5l-0.6 1.8M455.0 633.9l-0.6 1.8M485.5 552.7l-0.6 1.8M423.7 588.9l-0.6 1.8M427.2 589.4l-0.6 1.8M413.0 585.0l-0.6 1.8M415.9 574.7l-0.6 1.8M430.1 582.2l-0.6 1.8M409.5 586.9l-0.6 1.8M446.0 633.2l-0.6 1.8M433.4 580.4l-0.6 1.8M413.3 590.6l-0.6 1.8M433.4 644.9l-0.6 1.8M416.2 579.4l-0.6 1.8M460.4 622.8l-0.6 1.8M432.6 566.2l-0.6 1.8M457.7 629.7l-0.6 1.8M436.4 640.3l-0.6 1.8M433.9 592.0l-0.6 1.8M416.9 590.9l-0.6 1.8M445.7 639.5l-0.6 1.8M433.1 638.7l-0.6 1.8M429.9 578.5l-0.6 1.8M427.0 646.9l-0.6 1.8M414.2 658.7l-0.6 1.8M457.7 628.4l-0.6 1.8M427.5 655.6l-0.6 1.8M442.5 637.1l-0.6 1.8M442.2 631.7l-0.6 1.8M433.8 652.2l-0.6 1.8M436.3 639.6l-0.6 1.8M420.5 649.8l-0.6 1.8M454.7 625.9l-0.6 1.8M429.6 572.7l-0.6 1.8M463.3 623.8l-0.6 1.8M416.8 589.9l-0.6 1.8" stroke="#3c3cc4" stroke-width="2.3" stroke-linecap="round" fill="none"/>
<path d="M417.5 655.9l-0.6 1.8M440.2 575.1l-0.6 1.8M420.2 588.0l-0.6 1.8M439.9 582.0l-0.6 1.8M423.1 577.5l-0.6 1.8M454.9 630.9l-0.6 1.8M460.3 620.1l-0.6 1.8M460.6 628.9l-0.6 1.8M463.4 628.3l-0.6 1.8M473.5 619.5l-0.6 1.8M433.7 586.4l-0.6 1.8M409.5 586.2l-0.6 1.8M480.2 620.4l-0.6 1.8M442.7 573.2l-0.6 1.8M422.9 633.5l-0.6 1.8M442.9 645.5l-0.6 1.8M452.0 634.0l-0.6 1.8M430.2 645.7l-0.6 1.8M416.9 590.1l-0.6 1.8M420.5 649.8l-0.6 1.8M466.0 622.2l-0.6 1.8M427.4 654.3l-0.6 1.8M423.7 647.5l-0.6 1.8M436.8 583.3l-0.6 1.8" stroke="#9a9ade" stroke-width="2.3" stroke-linecap="round" fill="none"/>
<path d="M465.1 568.0l-0.6 1.8M439.8 646.0l-0.6 1.8M439.5 573.5l-0.6 1.8M409.9 592.6l-0.6 1.8M423.6 585.9l-0.6 1.8M442.7 641.4l-0.6 1.8M423.7 646.5l-0.6 1.8M440.2 641.5l-0.6 1.8M466.5 614.2l-0.6 1.8M436.6 579.1l-0.6 1.8M420.3 589.9l-0.6 1.8M461.2 561.0l-0.6 1.8M439.6 642.3l-0.6 1.8M413.5 593.7l-0.6 1.8M430.4 649.0l-0.6 1.8M417.2 651.2l-0.6 1.8M433.4 644.6l-0.6 1.8M412.2 572.5l-0.6 1.8M416.0 575.5l-0.6 1.8M482.2 557.2l-0.6 1.8M451.9 630.6l-0.6 1.8M426.7 641.1l-0.6 1.8M468.8 622.1l-0.6 1.8M468.7 619.2l-0.6 1.8M427.0 646.2l-0.6 1.8M423.1 577.9l-0.6 1.8M409.7 590.5l-0.6 1.8M443.1 580.5l-0.6 1.8M440.0 582.7l-0.6 1.8" stroke="#d0d0ec" stroke-width="2.3" stroke-linecap="round" fill="none"/>
<path d="M457.6 625.6l-0.6 1.8M420.9 599.4l-0.6 1.8M430.3 646.9l-0.6 1.8M442.8 575.6l-0.6 1.8M426.9 583.9l-0.6 1.8" stroke="#d84848" stroke-width="2.3" stroke-linecap="round" fill="none"/>
<path d="M426.9 645.7l-0.6 1.8M466.2 628.0l-0.6 1.8M436.1 635.6l-0.6 1.8M430.6 591.5l-0.6 1.8M448.7 640.3l-0.6 1.8M423.9 649.7l-0.6 1.8M445.9 631.3l-0.6 1.8M454.5 622.6l-0.6 1.8M429.8 638.8l-0.6 1.8M459.9 629.1l-0.6 1.8M412.8 582.7l-0.6 1.8M451.9 631.6l-0.6 1.8M443.6 649.2l-0.6 1.8M452.3 640.7l-0.6 1.8M423.5 585.1l-0.6 1.8M436.9 651.5l-0.6 1.8M413.1 587.2l-0.6 1.8M476.8 615.8l-0.6 1.8M463.3 624.6l-0.6 1.8M436.6 643.8l-0.6 1.8M414.2 658.5l-0.6 1.8M417.9 662.3l-0.6 1.8M442.5 567.4l-0.6 1.8M433.9 591.1l-0.6 1.8M408.7 574.4l-0.6 1.8M413.7 595.7l-0.6 1.8M445.9 632.5l-0.6 1.8M451.9 630.2l-0.6 1.8M443.2 652.0l-0.6 1.8M446.1 635.8l-0.6 1.8M464.4 570.2l-0.6 1.8M416.7 587.5l-0.6 1.8M439.8 646.4l-0.6 1.8M466.1 623.0l-0.6 1.8M454.9 632.8l-0.6 1.8M489.7 615.0l-0.6 1.8M410.5 602.7l-0.6 1.8M436.4 575.3l-0.6 1.8M430.4 586.5l-0.6 1.8M460.3 621.4l-0.6 1.8M433.5 646.1l-0.6 1.8M435.8 563.9l-0.6 1.8M457.8 630.4l-0.6 1.8M416.8 645.3l-0.6 1.8M455.6 570.2l-0.6 1.8M476.9 619.7l-0.6 1.8M460.9 552.4l-0.6 1.8M460.6 629.9l-0.6 1.8M430.8 595.7l-0.6 1.8M430.0 580.2l-0.6 1.8M456.4 632.1l-0.6 1.8M420.0 584.4l-0.6 1.8" stroke="#6060d0" stroke-width="2.3" stroke-linecap="round" fill="none"/>
<circle cx="492.9" cy="541.8" r="2.8" fill="url(#sb0)"/><circle cx="484.0" cy="545.5" r="2.8" fill="url(#sb0)"/><circle cx="496.4" cy="548.5" r="2.8" fill="url(#sb2)"/><circle cx="493.7" cy="556.0" r="2.8" fill="url(#sb3)"/><circle cx="514.4" cy="556.3" r="2.8" fill="url(#sb0)"/><circle cx="500.4" cy="558.6" r="2.8" fill="url(#sb2)"/><circle cx="489.2" cy="560.8" r="2.8" fill="url(#sb0)"/><circle cx="485.7" cy="561.8" r="2.8" fill="url(#sb0)"/><circle cx="502.6" cy="563.9" r="2.8" fill="url(#sb0)"/><circle cx="511.0" cy="565.4" r="2.8" fill="url(#sb2)"/><circle cx="497.6" cy="567.6" r="2.8" fill="url(#sb0)"/><circle cx="471.8" cy="568.2" r="2.8" fill="url(#sb0)"/><circle cx="521.3" cy="568.3" r="2.8" fill="url(#sb0)"/><circle cx="478.5" cy="568.5" r="2.8" fill="url(#sb0)"/><circle cx="566.5" cy="569.8" r="2.8" fill="url(#sb0)"/><circle cx="483.5" cy="570.1" r="2.8" fill="url(#sb2)"/><circle cx="476.5" cy="571.1" r="2.8" fill="url(#sb3)"/><circle cx="521.2" cy="572.3" r="2.8" fill="url(#sb0)"/><circle cx="489.4" cy="574.3" r="2.8" fill="url(#sb0)"/><circle cx="471.0" cy="574.8" r="2.8" fill="url(#sb0)"/><circle cx="532.8" cy="575.0" r="2.8" fill="url(#sb0)"/><circle cx="594.3" cy="578.2" r="2.8" fill="url(#sb0)"/><circle cx="489.4" cy="579.2" r="2.8" fill="url(#sb0)"/><circle cx="483.4" cy="581.5" r="2.8" fill="url(#sb3)"/><circle cx="507.7" cy="582.0" r="2.8" fill="url(#sb0)"/><circle cx="512.7" cy="582.7" r="2.8" fill="url(#sb0)"/><circle cx="477.8" cy="583.4" r="2.8" fill="url(#sb0)"/><circle cx="502.2" cy="583.8" r="2.8" fill="url(#sb3)"/><circle cx="489.5" cy="584.8" r="2.8" fill="url(#sb0)"/><circle cx="519.7" cy="585.5" r="2.8" fill="url(#sb0)"/><circle cx="484.0" cy="586.2" r="2.8" fill="url(#sb0)"/><circle cx="566.7" cy="588.8" r="2.8" fill="url(#sb3)"/><circle cx="611.5" cy="593.0" r="2.8" fill="url(#sb0)"/><circle cx="594.4" cy="596.0" r="2.8" fill="url(#sb0)"/><circle cx="544.7" cy="599.0" r="2.8" fill="url(#sb0)"/><circle cx="546.8" cy="603.1" r="2.8" fill="url(#sb0)"/><circle cx="576.4" cy="603.4" r="2.8" fill="url(#sb3)"/><circle cx="578.7" cy="607.2" r="2.8" fill="url(#sb0)"/><circle cx="564.0" cy="608.4" r="2.8" fill="url(#sb0)"/><circle cx="513.4" cy="608.6" r="2.8" fill="url(#sb0)"/><circle cx="489.4" cy="610.1" r="2.8" fill="url(#sb0)"/><circle cx="589.7" cy="610.4" r="2.8" fill="url(#sb0)"/><circle cx="496.6" cy="610.4" r="2.8" fill="url(#sb2)"/><circle cx="503.0" cy="611.2" r="2.8" fill="url(#sb3)"/><circle cx="516.8" cy="612.0" r="2.8" fill="url(#sb2)"/><circle cx="484.6" cy="612.3" r="2.8" fill="url(#sb0)"/><circle cx="506.3" cy="612.9" r="2.8" fill="url(#sb0)"/><circle cx="580.8" cy="613.0" r="2.8" fill="url(#sb0)"/><circle cx="499.2" cy="613.6" r="2.8" fill="url(#sb2)"/><circle cx="512.6" cy="613.9" r="2.8" fill="url(#sb0)"/><circle cx="526.7" cy="615.0" r="2.8" fill="url(#sb0)"/><circle cx="487.0" cy="616.2" r="2.8" fill="url(#sb0)"/><circle cx="606.1" cy="618.3" r="2.8" fill="url(#sb0)"/><circle cx="514.5" cy="619.4" r="2.8" fill="url(#sb0)"/><circle cx="502.8" cy="620.0" r="2.8" fill="url(#sb2)"/><circle cx="534.0" cy="620.2" r="2.8" fill="url(#sb0)"/><circle cx="479.0" cy="620.3" r="2.8" fill="url(#sb0)"/><circle cx="525.1" cy="620.6" r="2.8" fill="url(#sb0)"/><circle cx="511.0" cy="621.3" r="2.8" fill="url(#sb0)"/><circle cx="558.0" cy="621.3" r="2.8" fill="url(#sb0)"/><circle cx="484.6" cy="621.6" r="2.8" fill="url(#sb0)"/><circle cx="491.0" cy="622.6" r="2.8" fill="url(#sb0)"/><circle cx="526.3" cy="623.4" r="2.8" fill="url(#sb3)"/><circle cx="507.0" cy="624.8" r="2.8" fill="url(#sb0)"/><circle cx="501.1" cy="625.4" r="2.8" fill="url(#sb0)"/><circle cx="481.0" cy="625.6" r="2.8" fill="url(#sb0)"/><circle cx="493.1" cy="625.9" r="2.8" fill="url(#sb0)"/><circle cx="531.8" cy="626.1" r="2.8" fill="url(#sb0)"/><circle cx="527.9" cy="626.7" r="2.8" fill="url(#sb0)"/><circle cx="524.3" cy="627.1" r="2.8" fill="url(#sb2)"/><circle cx="510.7" cy="627.4" r="2.8" fill="url(#sb0)"/><circle cx="591.6" cy="628.7" r="2.8" fill="url(#sb0)"/><circle cx="490.8" cy="628.7" r="2.8" fill="url(#sb0)"/><circle cx="531.6" cy="629.4" r="2.8" fill="url(#sb0)"/><circle cx="527.2" cy="629.7" r="2.8" fill="url(#sb0)"/><circle cx="497.0" cy="630.3" r="2.8" fill="url(#sb3)"/><circle cx="519.8" cy="630.5" r="2.8" fill="url(#sb3)"/><circle cx="493.8" cy="631.3" r="2.8" fill="url(#sb0)"/><circle cx="482.3" cy="632.0" r="2.8" fill="url(#sb3)"/><circle cx="517.2" cy="632.2" r="2.8" fill="url(#sb2)"/><circle cx="530.1" cy="632.4" r="2.8" fill="url(#sb0)"/><circle cx="502.1" cy="633.0" r="2.8" fill="url(#sb0)"/><circle cx="506.7" cy="633.4" r="2.8" fill="url(#sb0)"/><circle cx="524.1" cy="634.9" r="2.8" fill="url(#sb0)"/><circle cx="495.9" cy="635.5" r="2.8" fill="url(#sb2)"/><circle cx="515.9" cy="635.9" r="2.8" fill="url(#sb3)"/><circle cx="519.3" cy="637.3" r="2.8" fill="url(#sb0)"/><circle cx="500.9" cy="638.2" r="2.8" fill="url(#sb0)"/><circle cx="494.0" cy="638.2" r="2.8" fill="url(#sb0)"/><circle cx="569.3" cy="644.3" r="2.8" fill="url(#sb3)"/><circle cx="472.3" cy="644.3" r="2.8" fill="url(#sb0)"/><circle cx="484.9" cy="645.6" r="2.8" fill="url(#sb0)"/><circle cx="469.9" cy="646.5" r="2.8" fill="url(#sb0)"/><circle cx="623.1" cy="647.0" r="2.8" fill="url(#sb0)"/><circle cx="485.0" cy="649.2" r="2.8" fill="url(#sb2)"/><circle cx="480.2" cy="649.3" r="2.8" fill="url(#sb0)"/><circle cx="490.4" cy="649.9" r="2.8" fill="url(#sb3)"/><circle cx="495.3" cy="653.1" r="2.8" fill="url(#sb0)"/><circle cx="483.9" cy="654.5" r="2.8" fill="url(#sb0)"/><circle cx="472.0" cy="655.0" r="2.8" fill="url(#sb0)"/><circle cx="528.2" cy="656.5" r="2.8" fill="url(#sb3)"/><circle cx="515.9" cy="656.6" r="2.8" fill="url(#sb0)"/><circle cx="482.5" cy="658.2" r="2.8" fill="url(#sb0)"/><circle cx="466.8" cy="658.5" r="2.8" fill="url(#sb0)"/><circle cx="540.5" cy="659.0" r="2.8" fill="url(#sb0)"/><circle cx="510.6" cy="659.7" r="2.8" fill="url(#sb0)"/><circle cx="488.0" cy="660.4" r="2.8" fill="url(#sb0)"/><circle cx="503.7" cy="661.1" r="2.8" fill="url(#sb0)"/><circle cx="477.9" cy="661.2" r="2.8" fill="url(#sb0)"/><circle cx="474.6" cy="661.4" r="2.8" fill="url(#sb0)"/><circle cx="481.0" cy="661.6" r="2.8" fill="url(#sb0)"/><circle cx="471.1" cy="662.5" r="2.8" fill="url(#sb0)"/><circle cx="535.9" cy="663.0" r="2.8" fill="url(#sb0)"/><circle cx="523.7" cy="663.2" r="2.8" fill="url(#sb2)"/><circle cx="512.9" cy="663.5" r="2.8" fill="url(#sb0)"/><circle cx="506.0" cy="664.1" r="2.8" fill="url(#sb3)"/><circle cx="473.7" cy="665.4" r="2.8" fill="url(#sb0)"/><circle cx="484.3" cy="665.9" r="2.8" fill="url(#sb0)"/><circle cx="547.8" cy="666.9" r="2.8" fill="url(#sb0)"/><circle cx="519.4" cy="669.0" r="2.8" fill="url(#sb0)"/><circle cx="485.6" cy="669.1" r="2.8" fill="url(#sb0)"/><circle cx="478.7" cy="669.2" r="2.8" fill="url(#sb0)"/><circle cx="506.3" cy="669.9" r="2.8" fill="url(#sb0)"/><circle cx="509.9" cy="669.9" r="2.8" fill="url(#sb2)"/><circle cx="531.2" cy="670.6" r="2.8" fill="url(#sb0)"/><circle cx="555.8" cy="671.2" r="2.8" fill="url(#sb0)"/><circle cx="540.9" cy="673.1" r="2.8" fill="url(#sb2)"/><circle cx="513.2" cy="673.2" r="2.8" fill="url(#sb0)"/><circle cx="537.4" cy="674.7" r="2.8" fill="url(#sb3)"/><circle cx="508.9" cy="677.4" r="2.8" fill="url(#sb0)"/><circle cx="555.6" cy="677.7" r="2.8" fill="url(#sb0)"/><circle cx="527.5" cy="678.4" r="2.8" fill="url(#sb0)"/><circle cx="523.4" cy="678.6" r="2.8" fill="url(#sb0)"/><circle cx="549.1" cy="679.6" r="2.8" fill="url(#sb0)"/><circle cx="511.5" cy="679.8" r="2.8" fill="url(#sb0)"/><circle cx="516.0" cy="679.8" r="2.8" fill="url(#sb0)"/><circle cx="534.8" cy="681.4" r="2.8" fill="url(#sb0)"/><circle cx="505.3" cy="683.5" r="2.8" fill="url(#sb0)"/><circle cx="530.5" cy="684.5" r="2.8" fill="url(#sb0)"/><circle cx="535.1" cy="687.2" r="2.8" fill="url(#sb0)"/><circle cx="526.6" cy="689.7" r="2.8" fill="url(#sb0)"/>
<path d="M481.4 548.9l-0.6 1.8M478.7 549.0l-0.6 1.8M465.1 569.9l-0.6 1.8M464.9 560.6l-0.6 1.8M481.7 563.2l-0.6 1.8M478.9 560.0l-0.6 1.8M485.3 612.3l-0.6 1.8M482.6 608.4l-0.6 1.8M485.3 617.1l-0.6 1.8M469.7 628.6l-0.6 1.8M482.6 609.4l-0.6 1.8M477.5 618.8l-0.6 1.8M492.7 604.6l-0.6 1.8M485.3 616.9l-0.6 1.8" stroke="#9a9ade" stroke-width="2.3" stroke-linecap="round" fill="none"/>
<path d="M475.8 542.8l-0.6 1.8M470.5 558.5l-0.6 1.8M464.9 561.3l-0.6 1.8M467.6 556.9l-0.6 1.8M476.2 561.5l-0.6 1.8M478.8 555.8l-0.6 1.8M467.7 560.0l-0.6 1.8M473.2 552.0l-0.6 1.8M484.1 550.9l-0.6 1.8M478.9 558.5l-0.6 1.8M473.2 553.7l-0.6 1.8M470.7 563.6l-0.6 1.8M473.4 559.0l-0.6 1.8M484.1 548.0l-0.6 1.8M466.6 617.1l-0.6 1.8M482.7 611.5l-0.6 1.8M472.3 622.2l-0.6 1.8M490.3 609.2l-0.6 1.8M487.8 609.8l-0.6 1.8M485.3 612.9l-0.6 1.8" stroke="#6060d0" stroke-width="2.3" stroke-linecap="round" fill="none"/>
<path d="M470.4 554.7l-0.6 1.8M470.5 558.5l-0.6 1.8M474.8 616.6l-0.6 1.8M472.3 624.2l-0.6 1.8M482.6 607.2l-0.6 1.8" stroke="#d84848" stroke-width="2.3" stroke-linecap="round" fill="none"/>
<path d="M473.3 555.6l-0.6 1.8M473.4 561.6l-0.6 1.8M476.2 560.8l-0.6 1.8M489.5 557.1l-0.6 1.8M461.9 560.9l-0.6 1.8M462.0 562.6l-0.6 1.8M467.6 557.2l-0.6 1.8M484.2 557.6l-0.6 1.8M462.2 570.0l-0.6 1.8M489.2 538.9l-0.6 1.8M468.0 570.9l-0.6 1.8M486.8 552.0l-0.6 1.8M489.6 561.2l-0.6 1.8M491.9 544.8l-0.6 1.8M489.3 547.2l-0.6 1.8M465.1 568.9l-0.6 1.8M476.3 565.6l-0.6 1.8M489.4 551.3l-0.6 1.8M464.9 561.1l-0.6 1.8M467.8 563.7l-0.6 1.8M484.2 557.8l-0.6 1.8M467.6 554.4l-0.6 1.8M473.4 562.0l-0.6 1.8M477.6 622.9l-0.6 1.8M485.2 611.1l-0.6 1.8M487.7 602.9l-0.6 1.8M492.7 605.4l-0.6 1.8M477.5 617.1l-0.6 1.8M487.9 615.1l-0.6 1.8M485.2 607.2l-0.6 1.8M472.0 613.9l-0.6 1.8M472.2 619.1l-0.6 1.8M469.5 623.3l-0.6 1.8M477.6 619.8l-0.6 1.8M480.1 615.4l-0.6 1.8M490.3 609.9l-0.6 1.8M480.1 613.2l-0.6 1.8M492.9 617.9l-0.6 1.8M469.7 630.1l-0.6 1.8M475.2 631.0l-0.6 1.8M492.8 607.3l-0.6 1.8M490.3 607.3l-0.6 1.8M472.1 618.1l-0.6 1.8M472.3 622.6l-0.6 1.8M466.7 621.2l-0.6 1.8M490.2 602.1l-0.6 1.8" stroke="#3c3cc4" stroke-width="2.3" stroke-linecap="round" fill="none"/>
<line x1="408.0" y1="704.6" x2="397.4" y2="554.6" stroke="#1a1a1a" stroke-width="1.5"/>
<line x1="408.0" y1="704.6" x2="556.2" y2="751.7" stroke="#1a1a1a" stroke-width="1.5"/>
<line x1="556.2" y1="751.7" x2="627.5" y2="675.5" stroke="#1a1a1a" stroke-width="1.5"/>
<line x1="408.0" y1="704.6" x2="412.0" y2="704.3" stroke="#1a1a1a" stroke-width="1"/>
<line x1="407.4" y1="696.0" x2="409.9" y2="695.7" stroke="#1a1a1a" stroke-width="1"/>
<line x1="406.8" y1="687.3" x2="410.8" y2="687.0" stroke="#1a1a1a" stroke-width="1"/>
<line x1="406.2" y1="678.6" x2="408.7" y2="678.3" stroke="#1a1a1a" stroke-width="1"/>
<line x1="405.6" y1="669.7" x2="409.6" y2="669.4" stroke="#1a1a1a" stroke-width="1"/>
<line x1="404.9" y1="660.7" x2="407.4" y2="660.4" stroke="#1a1a1a" stroke-width="1"/>
<line x1="404.3" y1="651.7" x2="408.3" y2="651.4" stroke="#1a1a1a" stroke-width="1"/>
<line x1="403.6" y1="642.5" x2="406.1" y2="642.2" stroke="#1a1a1a" stroke-width="1"/>
<line x1="403.0" y1="633.2" x2="407.0" y2="632.9" stroke="#1a1a1a" stroke-width="1"/>
<line x1="402.3" y1="623.8" x2="404.8" y2="623.5" stroke="#1a1a1a" stroke-width="1"/>
<line x1="401.6" y1="614.2" x2="405.6" y2="613.9" stroke="#1a1a1a" stroke-width="1"/>
<line x1="400.9" y1="604.6" x2="403.4" y2="604.3" stroke="#1a1a1a" stroke-width="1"/>
<line x1="400.2" y1="594.9" x2="404.2" y2="594.6" stroke="#1a1a1a" stroke-width="1"/>
<line x1="399.5" y1="585.0" x2="402.0" y2="584.7" stroke="#1a1a1a" stroke-width="1"/>
<line x1="398.8" y1="575.0" x2="402.8" y2="574.7" stroke="#1a1a1a" stroke-width="1"/>
<line x1="398.1" y1="564.9" x2="400.6" y2="564.6" stroke="#1a1a1a" stroke-width="1"/>
<line x1="397.4" y1="554.6" x2="401.4" y2="554.3" stroke="#1a1a1a" stroke-width="1"/>
<line x1="408.0" y1="704.6" x2="407.4" y2="702.2" stroke="#1a1a1a" stroke-width="1"/>
<line x1="556.2" y1="751.7" x2="553.9" y2="752.0" stroke="#1a1a1a" stroke-width="1"/>
<line x1="422.0" y1="709.0" x2="421.4" y2="706.6" stroke="#1a1a1a" stroke-width="1"/>
<line x1="565.0" y1="742.4" x2="562.7" y2="742.6" stroke="#1a1a1a" stroke-width="1"/>
<line x1="436.2" y1="713.5" x2="435.6" y2="711.2" stroke="#1a1a1a" stroke-width="1"/>
<line x1="573.4" y1="733.4" x2="571.1" y2="733.6" stroke="#1a1a1a" stroke-width="1"/>
<line x1="450.8" y1="718.2" x2="450.2" y2="715.8" stroke="#1a1a1a" stroke-width="1"/>
<line x1="581.5" y1="724.7" x2="579.2" y2="725.0" stroke="#1a1a1a" stroke-width="1"/>
<line x1="465.8" y1="722.9" x2="465.1" y2="720.6" stroke="#1a1a1a" stroke-width="1"/>
<line x1="589.2" y1="716.5" x2="587.0" y2="716.7" stroke="#1a1a1a" stroke-width="1"/>
<line x1="481.0" y1="727.8" x2="480.4" y2="725.4" stroke="#1a1a1a" stroke-width="1"/>
<line x1="596.7" y1="708.5" x2="594.4" y2="708.8" stroke="#1a1a1a" stroke-width="1"/>
<line x1="496.7" y1="732.8" x2="496.0" y2="730.4" stroke="#1a1a1a" stroke-width="1"/>
<line x1="603.8" y1="700.8" x2="601.6" y2="701.1" stroke="#1a1a1a" stroke-width="1"/>
<line x1="512.7" y1="737.9" x2="512.1" y2="735.5" stroke="#1a1a1a" stroke-width="1"/>
<line x1="610.7" y1="693.5" x2="608.5" y2="693.7" stroke="#1a1a1a" stroke-width="1"/>
<line x1="529.1" y1="743.1" x2="528.5" y2="740.7" stroke="#1a1a1a" stroke-width="1"/>
<line x1="617.4" y1="686.4" x2="615.1" y2="686.6" stroke="#1a1a1a" stroke-width="1"/>
<line x1="545.9" y1="748.5" x2="545.3" y2="746.1" stroke="#1a1a1a" stroke-width="1"/>
<line x1="623.8" y1="679.5" x2="621.6" y2="679.8" stroke="#1a1a1a" stroke-width="1"/>
<text transform="translate(394.4,561.1) rotate(-8.0) skewX(-12)" font-size="10" font-weight="bold" fill="#1a1a1a" stroke="#1a1a1a" stroke-width="0.2" text-anchor="end" font-family='"Liberation Sans", sans-serif' >1.2</text>
<text transform="translate(395.8,581.5) rotate(-11.5) skewX(-12)" font-size="10" font-weight="bold" fill="#1a1a1a" stroke="#1a1a1a" stroke-width="0.2" text-anchor="end" font-family='"Liberation Sans", sans-serif' >0.9</text>
<text transform="translate(397.2,601.4) rotate(-15.0) skewX(-12)" font-size="10" font-weight="bold" fill="#1a1a1a" stroke="#1a1a1a" stroke-width="0.2" text-anchor="end" font-family='"Liberation Sans", sans-serif' >0.6</text>
<text transform="translate(398.6,620.7) rotate(-18.5) skewX(-12)" font-size="10" font-weight="bold" fill="#1a1a1a" stroke="#1a1a1a" stroke-width="0.2" text-anchor="end" font-family='"Liberation Sans", sans-serif' >0.3</text>
<text transform="translate(400.0,639.7) rotate(-22.0) skewX(-12)" font-size="10" font-weight="bold" fill="#1a1a1a" stroke="#1a1a1a" stroke-width="0.2" text-anchor="end" font-family='"Liberation Sans", sans-serif' >0.0</text>
<text transform="translate(401.3,658.2) rotate(-25.5) skewX(-12)" font-size="10" font-weight="bold" fill="#1a1a1a" stroke="#1a1a1a" stroke-width="0.2" text-anchor="end" font-family='"Liberation Sans", sans-serif' >-0.3</text>
<text transform="translate(402.6,676.2) rotate(-29.0) skewX(-12)" font-size="10" font-weight="bold" fill="#1a1a1a" stroke="#1a1a1a" stroke-width="0.2" text-anchor="end" font-family='"Liberation Sans", sans-serif' >-0.6</text>
<text transform="translate(403.8,693.8) rotate(-32.5) skewX(-12)" font-size="10" font-weight="bold" fill="#1a1a1a" stroke="#1a1a1a" stroke-width="0.2" text-anchor="end" font-family='"Liberation Sans", sans-serif' >-0.9</text>
<text transform="translate(405.0,711.1) rotate(-36.0) skewX(-12)" font-size="10" font-weight="bold" fill="#1a1a1a" stroke="#1a1a1a" stroke-width="0.2" text-anchor="end" font-family='"Liberation Sans", sans-serif' >-1.2</text>
<text transform="translate(421.7,717.0) rotate(-50) skewX(-22)" font-size="9.8" font-weight="bold" fill="#1a1a1a" text-anchor="middle" dominant-baseline="central" font-family='"Liberation Sans", sans-serif'>100</text>
<text transform="translate(454.2,727.5) rotate(-50) skewX(-22)" font-size="9.8" font-weight="bold" fill="#1a1a1a" text-anchor="middle" dominant-baseline="central" font-family='"Liberation Sans", sans-serif'>150</text>
<text transform="translate(486.7,738.0) rotate(-50) skewX(-22)" font-size="9.8" font-weight="bold" fill="#1a1a1a" text-anchor="middle" dominant-baseline="central" font-family='"Liberation Sans", sans-serif'>200</text>
<text transform="translate(518.0,747.2) rotate(-50) skewX(-22)" font-size="9.8" font-weight="bold" fill="#1a1a1a" text-anchor="middle" dominant-baseline="central" font-family='"Liberation Sans", sans-serif'>250</text>
<text transform="translate(550.5,760.0) rotate(-50) skewX(-22)" font-size="9.8" font-weight="bold" fill="#1a1a1a" text-anchor="middle" dominant-baseline="central" font-family='"Liberation Sans", sans-serif'>300</text>
<text transform="translate(583.2,742.0) rotate(16) skewX(-25)" font-size="9.4" font-weight="bold" fill="#1a1a1a" text-anchor="middle" dominant-baseline="central" font-family='"Liberation Sans", sans-serif'>100</text>
<text transform="translate(596.0,724.5) rotate(16) skewX(-25)" font-size="9.4" font-weight="bold" fill="#1a1a1a" text-anchor="middle" dominant-baseline="central" font-family='"Liberation Sans", sans-serif'>150</text>
<text transform="translate(612.8,708.7) rotate(16) skewX(-25)" font-size="9.4" font-weight="bold" fill="#1a1a1a" text-anchor="middle" dominant-baseline="central" font-family='"Liberation Sans", sans-serif'>200</text>
<text transform="translate(626.3,693.5) rotate(16) skewX(-25)" font-size="9.4" font-weight="bold" fill="#1a1a1a" text-anchor="middle" dominant-baseline="central" font-family='"Liberation Sans", sans-serif'>250</text>
<text transform="translate(639.7,679.3) rotate(16) skewX(-25)" font-size="9.4" font-weight="bold" fill="#1a1a1a" text-anchor="middle" dominant-baseline="central" font-family='"Liberation Sans", sans-serif'>300</text>
<text transform="translate(380.0,645.0) rotate(86)" font-size="11.2" font-weight="bold" fill="#1a1a1a" stroke="#1a1a1a" stroke-width="0.25" text-anchor="middle" dominant-baseline="central" font-family='"Liberation Sans", sans-serif'>Orientation angle (rad)</text>
<text transform="translate(459.5,743.7) rotate(20) skewX(-8)" font-size="11.2" font-weight="bold" fill="#1a1a1a" text-anchor="middle" dominant-baseline="central" font-family='"Liberation Sans", sans-serif'>Nanofin width (nm)</text>
<text transform="translate(623.1,719.5) rotate(-46) scale(0.8,1)" font-size="10.5" font-weight="bold" fill="#1a1a1a" text-anchor="middle" dominant-baseline="central" font-family='"Liberation Sans", sans-serif'>Nanofin length (nm)</text>
<rect x="645.3" y="551.0" width="11" height="117.8" fill="url(#cb)"/>
<text x="663.0" y="557.0" font-size="10" font-weight="bold" fill="#1a1a1a" font-family='"Liberation Sans", sans-serif'>25000</text>
<text x="663.0" y="580.0" font-size="10" font-weight="bold" fill="#1a1a1a" font-family='"Liberation Sans", sans-serif'>20000</text>
<text x="663.0" y="603.0" font-size="10" font-weight="bold" fill="#1a1a1a" font-family='"Liberation Sans", sans-serif'>15000</text>
<text x="663.0" y="626.0" font-size="10" font-weight="bold" fill="#1a1a1a" font-family='"Liberation Sans", sans-serif'>10000</text>
<text x="663.0" y="649.0" font-size="10" font-weight="bold" fill="#1a1a1a" font-family='"Liberation Sans", sans-serif'>5000</text>
<text x="663.0" y="671.0" font-size="10" font-weight="bold" fill="#1a1a1a" font-family='"Liberation Sans", sans-serif'>0</text>
<text x="390.4" y="527.4" font-size="22.5" font-weight="bold" fill="#111" stroke="#111" stroke-width="0.4" font-family='"Liberation Serif", serif'>d</text>
<line x1="177.7" y1="911.6" x2="177.9" y2="780.0" stroke="#e2e2e2" stroke-width="0.9"/>
<line x1="86.4" y1="956.7" x2="77.7" y2="810.5" stroke="#e2e2e2" stroke-width="0.9"/>
<line x1="92.0" y1="975.7" x2="177.7" y2="911.6" stroke="#e2e2e2" stroke-width="0.9"/>
<line x1="86.4" y1="956.7" x2="231.6" y2="1000.9" stroke="#e2e2e2" stroke-width="0.9"/>
<line x1="203.9" y1="918.2" x2="206.4" y2="784.3" stroke="#e2e2e2" stroke-width="0.9"/>
<line x1="106.1" y1="942.8" x2="99.5" y2="801.0" stroke="#e2e2e2" stroke-width="0.9"/>
<line x1="121.2" y1="985.0" x2="203.9" y2="918.2" stroke="#e2e2e2" stroke-width="0.9"/>
<line x1="106.1" y1="942.8" x2="247.6" y2="983.7" stroke="#e2e2e2" stroke-width="0.9"/>
<line x1="231.2" y1="925.0" x2="236.1" y2="788.9" stroke="#e2e2e2" stroke-width="0.9"/>
<line x1="124.4" y1="929.9" x2="119.7" y2="792.3" stroke="#e2e2e2" stroke-width="0.9"/>
<line x1="151.9" y1="994.8" x2="231.2" y2="925.0" stroke="#e2e2e2" stroke-width="0.9"/>
<line x1="124.4" y1="929.9" x2="262.5" y2="967.9" stroke="#e2e2e2" stroke-width="0.9"/>
<line x1="259.5" y1="932.1" x2="267.1" y2="793.6" stroke="#e2e2e2" stroke-width="0.9"/>
<line x1="141.5" y1="917.8" x2="138.5" y2="784.2" stroke="#e2e2e2" stroke-width="0.9"/>
<line x1="184.0" y1="1005.0" x2="259.5" y2="932.1" stroke="#e2e2e2" stroke-width="0.9"/>
<line x1="141.5" y1="917.8" x2="276.3" y2="953.2" stroke="#e2e2e2" stroke-width="0.9"/>
<line x1="68.3" y1="951.3" x2="157.3" y2="891.4" stroke="#e2e2e2" stroke-width="0.9"/>
<line x1="157.3" y1="891.4" x2="290.3" y2="923.2" stroke="#e2e2e2" stroke-width="0.9"/>
<line x1="67.1" y1="933.7" x2="157.1" y2="876.0" stroke="#e2e2e2" stroke-width="0.9"/>
<line x1="157.1" y1="876.0" x2="291.5" y2="906.6" stroke="#e2e2e2" stroke-width="0.9"/>
<line x1="65.8" y1="915.7" x2="156.9" y2="860.3" stroke="#e2e2e2" stroke-width="0.9"/>
<line x1="156.9" y1="860.3" x2="292.8" y2="889.6" stroke="#e2e2e2" stroke-width="0.9"/>
<line x1="64.5" y1="897.2" x2="156.7" y2="844.2" stroke="#e2e2e2" stroke-width="0.9"/>
<line x1="156.7" y1="844.2" x2="294.1" y2="872.2" stroke="#e2e2e2" stroke-width="0.9"/>
<line x1="63.1" y1="878.2" x2="156.5" y2="827.8" stroke="#e2e2e2" stroke-width="0.9"/>
<line x1="156.5" y1="827.8" x2="295.4" y2="854.4" stroke="#e2e2e2" stroke-width="0.9"/>
<line x1="61.7" y1="858.9" x2="156.3" y2="811.1" stroke="#e2e2e2" stroke-width="0.9"/>
<line x1="156.3" y1="811.1" x2="296.7" y2="836.2" stroke="#e2e2e2" stroke-width="0.9"/>
<line x1="60.3" y1="839.0" x2="156.1" y2="794.0" stroke="#e2e2e2" stroke-width="0.9"/>
<line x1="156.1" y1="794.0" x2="298.1" y2="817.6" stroke="#e2e2e2" stroke-width="0.9"/>
<line x1="58.9" y1="818.6" x2="155.9" y2="776.6" stroke="#d0d0d0" stroke-width="1.1"/>
<line x1="155.9" y1="776.6" x2="299.5" y2="798.6" stroke="#d0d0d0" stroke-width="1.1"/>
<line x1="299.5" y1="798.6" x2="289.0" y2="939.5" stroke="#d0d0d0" stroke-width="1.1"/>
<line x1="157.5" y1="906.6" x2="155.9" y2="776.6" stroke="#d8d8d8" stroke-width="1.0"/>
<line x1="157.5" y1="906.6" x2="289.0" y2="939.5" stroke="#d8d8d8" stroke-width="0.9"/>
<line x1="69.5" y1="968.6" x2="157.5" y2="906.6" stroke="#d8d8d8" stroke-width="0.9"/>
<path d="M133.2 933.8h1.6M140.2 975.5h1.6M154.8 929.1h1.6M168.5 930.2h1.6M146.6 943.1h1.6M142.8 942.0h1.6M168.6 946.4h1.6M128.8 940.9h1.6M169.8 984.6h1.6M139.1 971.8h1.6M160.0 968.4h1.6M196.5 976.0h1.6M165.5 973.3h1.6M230.1 961.3h1.6M218.4 982.4h1.6M173.8 966.2h1.6M138.0 937.9h1.6M175.2 969.7h1.6M204.2 968.8h1.6M253.1 953.4h1.6M168.3 970.9h1.6M174.2 985.9h1.6M152.5 923.4h1.6M166.9 967.3h1.6M130.5 935.8h1.6M156.7 951.7h1.6M134.2 936.8h1.6M153.4 934.0h1.6M147.3 974.3h1.6M145.6 980.5h1.6M151.9 939.0h1.6M208.5 970.0h1.6M158.3 938.0h1.6M144.9 967.1h1.6M173.7 942.2h1.6M157.1 935.0h1.6M195.5 982.2h1.6M146.9 984.3h1.6M142.3 950.5h1.6M254.8 937.3h1.6M177.6 943.3h1.6M126.8 934.8h1.6M166.0 940.1h1.6M154.5 937.0h1.6M167.2 935.1h1.6M138.6 930.0h1.6M140.9 965.9h1.6M131.5 938.8h1.6M155.0 921.6h1.6M144.4 936.9h1.6M166.0 924.4h1.6M157.2 970.8h1.6M139.5 952.6h1.6M201.7 987.4h1.6M247.9 966.2h1.6M165.5 983.2h1.6M180.1 991.2h1.6M159.9 978.1h1.6M149.6 933.0h1.6M194.1 962.9h1.6M189.5 977.2h1.6M147.3 954.9h1.6M212.1 977.4h1.6M166.0 948.5h1.6M154.3 945.2h1.6M129.6 932.8h1.6M158.7 964.9h1.6M180.1 941.3h1.6M169.8 941.2h1.6M151.1 985.7h1.6M150.8 936.0h1.6M178.2 977.1h1.6M184.5 992.5h1.6M163.5 926.3h1.6M200.8 977.3h1.6M158.2 946.3h1.6M227.2 936.6h1.6M199.0 990.0h1.6M123.2 933.8h1.6M132.2 930.9h1.6M156.2 924.4h1.6M154.4 973.2h1.6M216.5 978.6h1.6M204.3 984.9h1.6M220.3 986.3h1.6M127.8 937.8h1.6M135.3 939.9h1.6M145.0 948.3h1.6M172.5 947.5h1.6M198.2 979.7h1.6M154.1 983.1h1.6M155.7 976.9h1.6M240.8 930.7h1.6M153.6 926.2h1.6M157.3 927.2h1.6M174.9 937.1h1.6M221.5 948.4h1.6M156.0 932.0h1.6M157.0 980.6h1.6M218.2 965.4h1.6M144.4 976.8h1.6M193.1 968.7h1.6M139.0 940.9h1.6M238.5 946.1h1.6M133.5 945.1h1.6M129.7 944.0h1.6M134.6 948.2h1.6M143.8 926.2h1.6M152.8 950.5h1.6M161.3 972.0h1.6M162.7 975.7h1.6M159.7 933.0h1.6M148.1 938.0h1.6M161.1 920.7h1.6M149.0 968.3h1.6M175.7 989.8h1.6M193.5 995.3h1.6M203.5 991.4h1.6M162.2 939.1h1.6M161.0 928.2h1.6M168.4 991.1h1.6M164.7 929.2h1.6M164.1 989.7h1.6M141.2 928.1h1.6M171.0 968.5h1.6M221.7 935.2h1.6M191.5 965.2h1.6M181.5 944.4h1.6M141.4 979.2h1.6M199.9 983.5h1.6M135.9 931.9h1.6M172.6 982.0h1.6M167.2 927.3h1.6M166.0 932.1h1.6M164.7 937.1h1.6M176.4 963.9h1.6M143.2 973.1h1.6M141.7 938.9h1.6M158.5 930.1h1.6M160.8 944.2h1.6M185.2 975.9h1.6M146.1 970.7h1.6M194.8 972.3h1.6M190.7 998.0h1.6M147.4 927.1h1.6M140.1 944.1h1.6M185.7 986.0h1.6M149.3 941.0h1.6M202.5 981.0h1.6M168.4 980.7h1.6M232.9 951.4h1.6M150.2 971.9h1.6M195.7 966.4h1.6M143.3 933.9h1.6M192.2 974.7h1.6M136.3 943.0h1.6M159.8 925.3h1.6M155.5 948.4h1.6M180.9 974.6h1.6M213.2 987.5h1.6M200.8 994.0h1.6M151.1 928.1h1.6M143.4 953.7h1.6M219.0 976.2h1.6M173.6 934.1h1.6M205.1 978.5h1.6M215.8 985.0h1.6M148.5 930.0h1.6M197.4 969.9h1.6M235.6 942.0h1.6M181.3 984.7h1.6M171.2 944.3h1.6M220.9 979.9h1.6M172.8 992.4h1.6M171.2 978.2h1.6M207.7 976.1h1.6M193.8 978.4h1.6M152.2 931.0h1.6M194.5 988.7h1.6M162.8 966.1h1.6M168.5 938.1h1.6M152.8 979.3h1.6M160.9 936.0h1.6M176.2 940.2h1.6M199.1 973.6h1.6M172.5 972.1h1.6M186.2 996.6h1.6M140.6 935.9h1.6M163.4 942.2h1.6M142.2 931.0h1.6M210.3 973.7h1.6M190.5 971.1h1.6M184.7 966.3h1.6M223.4 977.5h1.6M249.6 942.4h1.6M196.3 992.6h1.6M162.1 947.4h1.6M150.4 944.1h1.6M142.6 983.0h1.6M159.4 949.5h1.6M167.0 987.1h1.6M136.9 934.9h1.6M198.3 964.1h1.6" stroke="#3c3cc4" stroke-width="2.9" stroke-linecap="round" fill="none"/>
<path d="M209.5 979.8h1.6M142.0 969.5h1.6M152.2 931.0h1.6M166.0 948.5h1.6M171.1 936.1h1.6M177.2 993.8h1.6M130.5 935.8h1.6M200.0 967.6h1.6M137.3 946.1h1.6M161.2 981.9h1.6M144.8 929.0h1.6M186.3 969.8h1.6M153.1 969.5h1.6M225.4 981.2h1.6M187.3 989.9h1.6M149.3 941.0h1.6M162.1 947.4h1.6M241.7 957.3h1.6M182.5 978.3h1.6M212.8 971.3h1.6M177.6 943.3h1.6M159.6 941.1h1.6M167.2 935.1h1.6M138.4 981.7h1.6M158.5 974.4h1.6M166.0 924.4h1.6" stroke="#d0d0ec" stroke-width="2.9" stroke-linecap="round" fill="none"/>
<path d="M158.7 922.5h1.6M168.5 930.2h1.6M209.5 979.8h1.6M146.6 943.1h1.6M168.6 946.4h1.6M169.8 984.6h1.6M196.5 976.0h1.6M186.8 979.6h1.6M138.0 937.9h1.6M152.5 923.4h1.6M156.7 951.7h1.6M174.0 975.8h1.6M180.6 965.1h1.6M148.9 949.4h1.6M153.4 934.0h1.6M213.9 981.1h1.6M187.3 989.9h1.6M144.9 967.1h1.6M190.1 987.3h1.6M222.9 983.7h1.6M163.5 934.1h1.6M155.0 921.6h1.6M169.7 974.5h1.6M157.2 970.8h1.6M139.5 952.6h1.6M187.9 973.5h1.6M143.9 945.1h1.6M129.6 932.8h1.6M180.1 941.3h1.6M206.9 982.3h1.6M151.6 947.3h1.6M224.2 959.7h1.6M200.8 977.3h1.6M132.2 930.9h1.6M188.9 967.5h1.6M156.2 924.4h1.6M154.4 973.2h1.6M204.3 984.9h1.6M135.3 939.9h1.6M155.7 976.9h1.6M241.2 943.5h1.6M174.9 937.1h1.6M221.5 948.4h1.6M218.2 965.4h1.6M144.4 976.8h1.6M159.7 988.3h1.6M139.0 940.9h1.6M214.6 974.9h1.6M141.2 947.2h1.6M176.7 973.4h1.6M224.5 932.7h1.6M142.0 969.5h1.6M168.4 991.1h1.6M171.0 968.5h1.6M146.2 951.6h1.6M171.3 988.5h1.6M172.4 939.2h1.6M164.7 937.1h1.6M158.3 984.4h1.6M160.8 944.2h1.6M158.5 930.1h1.6M185.2 975.9h1.6M155.9 967.2h1.6M145.9 932.0h1.6M162.3 923.5h1.6M210.6 990.1h1.6M164.7 945.3h1.6M139.6 932.9h1.6M150.2 971.9h1.6M136.3 943.0h1.6M235.5 935.6h1.6M200.8 994.0h1.6M148.5 930.0h1.6M151.5 975.6h1.6M205.9 972.4h1.6M220.9 979.9h1.6M156.9 943.2h1.6M171.2 978.2h1.6M193.8 978.4h1.6M147.0 934.9h1.6M166.9 977.0h1.6M187.4 964.0h1.6M186.2 996.6h1.6M169.6 965.0h1.6M223.4 977.5h1.6M249.6 942.4h1.6M182.1 968.6h1.6M142.6 983.0h1.6M191.8 991.3h1.6M183.2 962.8h1.6M150.0 925.3h1.6M136.9 934.9h1.6M208.8 986.2h1.6" stroke="#6060d0" stroke-width="2.9" stroke-linecap="round" fill="none"/>
<path d="M162.6 985.8h1.6M154.8 929.1h1.6M142.8 942.0h1.6M194.5 988.7h1.6M164.1 979.4h1.6M179.7 980.8h1.6M181.5 944.4h1.6M175.2 969.7h1.6M152.8 979.3h1.6M174.2 985.9h1.6M142.2 931.0h1.6M141.7 938.9h1.6M153.1 942.1h1.6M246.9 945.0h1.6M188.4 983.4h1.6M194.8 972.3h1.6M164.1 969.6h1.6M148.6 978.0h1.6M155.5 948.4h1.6M193.1 968.7h1.6M143.4 953.7h1.6M175.4 979.5h1.6M152.8 950.5h1.6M159.7 933.0h1.6M162.7 975.7h1.6" stroke="#9a9ade" stroke-width="2.9" stroke-linecap="round" fill="none"/>
<path d="M124.1 936.8h1.6M150.8 936.0h1.6M208.5 970.0h1.6M145.5 940.0h1.6M155.4 987.0h1.6M218.4 982.4h1.6" stroke="#d84848" stroke-width="2.9" stroke-linecap="round" fill="none"/>
<path d="M94.6 902.4l-0.6 1.8M107.7 903.1l-0.6 1.8M125.8 828.7l-0.6 1.8M95.3 916.7l-0.6 1.8M107.9 836.3l-0.6 1.8M74.6 850.4l-0.6 1.8M122.1 892.0l-0.6 1.8M104.4 896.8l-0.6 1.8M91.1 898.8l-0.6 1.8M92.1 917.1l-0.6 1.8M78.8 917.7l-0.6 1.8M111.0 909.0l-0.6 1.8M81.1 841.6l-0.6 1.8M82.2 916.8l-0.6 1.8M125.7 826.8l-0.6 1.8M88.5 911.5l-0.6 1.8M138.2 875.2l-0.6 1.8M130.3 885.2l-0.6 1.8M79.0 921.2l-0.6 1.8M107.7 902.3l-0.6 1.8M135.5 874.2l-0.6 1.8M84.7 843.0l-0.6 1.8M138.4 885.0l-0.6 1.8M130.4 890.0l-0.6 1.8M124.6 883.4l-0.6 1.8M136.8 817.2l-0.6 1.8M85.0 906.9l-0.6 1.8M119.1 827.1l-0.6 1.8M101.3 842.7l-0.6 1.8M78.2 850.9l-0.6 1.8M135.8 885.6l-0.6 1.8M71.2 854.1l-0.6 1.8M75.5 920.0l-0.6 1.8M116.8 826.6l-0.6 1.8M85.4 914.6l-0.6 1.8M153.4 807.4l-0.6 1.8M122.1 892.9l-0.6 1.8M119.4 898.0l-0.6 1.8M104.8 849.7l-0.6 1.8M119.1 891.3l-0.6 1.8M95.2 851.7l-0.6 1.8M95.2 851.2l-0.6 1.8M94.7 904.3l-0.6 1.8M124.9 892.5l-0.6 1.8M75.4 918.9l-0.6 1.8M107.1 901.1l-0.6 1.8M110.9 832.1l-0.6 1.8M98.0 906.8l-0.6 1.8M131.5 827.8l-0.6 1.8M122.7 825.7l-0.6 1.8M127.3 878.9l-0.6 1.8M140.3 817.9l-0.6 1.8M85.2 910.6l-0.6 1.8M114.1 836.7l-0.6 1.8M121.7 881.6l-0.6 1.8M110.4 820.4l-0.6 1.8M94.3 832.5l-0.6 1.8M109.9 882.9l-0.6 1.8M127.9 896.9l-0.6 1.8M120.0 832.6l-0.6 1.8M107.2 904.3l-0.6 1.8M124.7 886.6l-0.6 1.8M133.0 882.8l-0.6 1.8M122.1 894.4l-0.6 1.8M113.5 896.2l-0.6 1.8M122.2 895.8l-0.6 1.8M95.0 910.0l-0.6 1.8M85.1 909.3l-0.6 1.8M103.9 899.2l-0.6 1.8M84.6 842.4l-0.6 1.8M81.4 845.8l-0.6 1.8M119.3 895.6l-0.6 1.8M122.5 820.0l-0.6 1.8M82.7 925.1l-0.6 1.8M94.7 841.5l-0.6 1.8M133.2 891.4l-0.6 1.8M91.8 911.8l-0.6 1.8M138.3 880.5l-0.6 1.8M135.8 887.0l-0.6 1.8M75.9 925.1l-0.6 1.8M127.7 890.2l-0.6 1.8M131.1 813.2l-0.6 1.8M136.9 819.1l-0.6 1.8M71.7 861.8l-0.6 1.8M88.1 843.6l-0.6 1.8M114.0 834.0l-0.6 1.8M120.1 835.4l-0.6 1.8M104.1 903.7l-0.6 1.8M91.8 910.5l-0.6 1.8M130.2 883.6l-0.6 1.8M110.7 901.7l-0.6 1.8M138.4 884.1l-0.6 1.8M106.8 895.9l-0.6 1.8M122.0 888.9l-0.6 1.8M97.9 839.7l-0.6 1.8M104.1 890.6l-0.6 1.8M122.9 831.4l-0.6 1.8M130.2 883.3l-0.6 1.8M101.8 841.1l-0.6 1.8M91.3 901.9l-0.6 1.8M151.3 885.4l-0.6 1.8M101.3 909.6l-0.6 1.8M124.8 889.0l-0.6 1.8M78.1 850.2l-0.6 1.8M121.4 892.7l-0.6 1.8M119.0 886.5l-0.6 1.8M98.0 842.6l-0.6 1.8M119.9 830.0l-0.6 1.8M116.6 901.0l-0.6 1.8M98.0 906.6l-0.6 1.8M85.7 919.1l-0.6 1.8M70.8 847.6l-0.6 1.8M134.5 835.6l-0.6 1.8M130.4 889.0l-0.6 1.8M100.9 901.6l-0.6 1.8M140.8 874.4l-0.6 1.8M131.5 878.5l-0.6 1.8M97.5 830.7l-0.6 1.8M110.5 898.3l-0.6 1.8M127.6 887.5l-0.6 1.8M91.5 905.9l-0.6 1.8M86.1 926.9l-0.6 1.8M91.5 844.5l-0.6 1.8M112.0 840.8l-0.6 1.8M94.8 907.4l-0.6 1.8M77.8 845.1l-0.6 1.8M124.8 890.2l-0.6 1.8M88.3 907.9l-0.6 1.8M116.2 891.2l-0.6 1.8M91.2 837.2l-0.6 1.8M94.9 844.6l-0.6 1.8M113.5 896.3l-0.6 1.8M77.8 845.8l-0.6 1.8M94.5 901.3l-0.6 1.8M134.4 832.4l-0.6 1.8M121.9 886.5l-0.6 1.8M113.7 824.7l-0.6 1.8M108.6 851.4l-0.6 1.8M78.8 917.3l-0.6 1.8M100.7 830.8l-0.6 1.8M134.2 823.3l-0.6 1.8M130.4 890.2l-0.6 1.8M123.0 833.5l-0.6 1.8M116.4 894.8l-0.6 1.8M88.6 852.8l-0.6 1.8M110.1 901.6l-0.6 1.8M130.2 831.5l-0.6 1.8M98.0 840.7l-0.6 1.8M78.9 918.8l-0.6 1.8M120.0 831.8l-0.6 1.8M127.8 894.6l-0.6 1.8M131.6 834.3l-0.6 1.8M130.4 889.9l-0.6 1.8M119.1 888.9l-0.6 1.8M135.5 874.3l-0.6 1.8M125.9 834.8l-0.6 1.8M125.9 834.3l-0.6 1.8M113.3 893.2l-0.6 1.8M88.9 858.3l-0.6 1.8M124.7 885.0l-0.6 1.8M144.7 868.4l-0.6 1.8M78.3 852.9l-0.6 1.8M91.9 850.6l-0.6 1.8M116.1 889.3l-0.6 1.8M144.7 872.0l-0.6 1.8M143.6 817.0l-0.6 1.8M101.2 840.8l-0.6 1.8M88.3 847.4l-0.6 1.8M121.8 883.6l-0.6 1.8M91.7 847.6l-0.6 1.8M131.5 827.7l-0.6 1.8M97.7 835.6l-0.6 1.8M113.3 892.6l-0.6 1.8M104.9 838.8l-0.6 1.8M82.5 921.5l-0.6 1.8M121.9 887.4l-0.6 1.8M75.3 917.1l-0.6 1.8M114.4 843.3l-0.6 1.8M74.8 853.6l-0.6 1.8M91.6 846.3l-0.6 1.8M141.0 883.1l-0.6 1.8M130.3 883.9l-0.6 1.8M79.0 864.9l-0.6 1.8M92.1 915.8l-0.6 1.8M116.1 888.7l-0.6 1.8M101.5 913.6l-0.6 1.8M116.4 895.7l-0.6 1.8M119.1 890.6l-0.6 1.8M101.0 837.3l-0.6 1.8M88.6 911.8l-0.6 1.8M122.9 830.6l-0.6 1.8M122.1 891.9l-0.6 1.8M84.8 844.5l-0.6 1.8M133.0 881.9l-0.6 1.8M94.7 841.4l-0.6 1.8M74.9 854.8l-0.6 1.8M92.4 921.6l-0.6 1.8M82.4 919.9l-0.6 1.8M85.0 907.4l-0.6 1.8M79.3 926.0l-0.6 1.8M81.5 848.6l-0.6 1.8M104.1 833.2l-0.6 1.8M123.0 833.1l-0.6 1.8M78.3 853.5l-0.6 1.8M98.0 907.6l-0.6 1.8M75.1 858.8l-0.6 1.8M85.7 920.1l-0.6 1.8M138.6 891.6l-0.6 1.8M124.6 881.3l-0.6 1.8M87.9 838.8l-0.6 1.8M123.0 833.8l-0.6 1.8M133.1 886.6l-0.6 1.8M111.0 834.6l-0.6 1.8M113.6 899.6l-0.6 1.8M128.4 819.0l-0.6 1.8M116.7 904.9l-0.6 1.8M85.8 921.6l-0.6 1.8M117.0 831.1l-0.6 1.8M125.6 825.0l-0.6 1.8M133.0 883.6l-0.6 1.8M143.5 875.5l-0.6 1.8M131.5 828.0l-0.6 1.8M98.1 908.8l-0.6 1.8M70.7 846.7l-0.6 1.8M116.8 905.4l-0.6 1.8M84.8 845.4l-0.6 1.8M109.9 896.0l-0.6 1.8M124.7 884.8l-0.6 1.8M118.9 885.6l-0.6 1.8M81.8 853.8l-0.6 1.8M124.8 888.3l-0.6 1.8M127.7 892.0l-0.6 1.8M98.2 911.0l-0.6 1.8M91.8 848.8l-0.6 1.8M104.2 906.0l-0.6 1.8M102.1 846.6l-0.6 1.8M135.1 885.3l-0.6 1.8M119.5 900.1l-0.6 1.8" stroke="#3c3cc4" stroke-width="2.3" stroke-linecap="round" fill="none"/>
<path d="M107.2 903.9l-0.6 1.8M97.9 840.5l-0.6 1.8M128.5 824.7l-0.6 1.8M97.9 904.5l-0.6 1.8M88.2 905.1l-0.6 1.8M75.3 916.7l-0.6 1.8M97.8 838.5l-0.6 1.8M121.9 886.7l-0.6 1.8M130.4 889.9l-0.6 1.8M78.4 854.4l-0.6 1.8M82.5 922.1l-0.6 1.8M114.0 832.4l-0.6 1.8M130.3 884.5l-0.6 1.8M107.5 826.7l-0.6 1.8M118.9 885.5l-0.6 1.8M104.5 843.0l-0.6 1.8M130.3 887.2l-0.6 1.8M124.8 888.8l-0.6 1.8M71.5 858.0l-0.6 1.8M117.1 835.8l-0.6 1.8M130.5 892.5l-0.6 1.8M92.0 914.2l-0.6 1.8M141.0 883.6l-0.6 1.8M128.2 884.2l-0.6 1.8M116.4 895.7l-0.6 1.8M84.8 845.8l-0.6 1.8M87.9 840.0l-0.6 1.8" stroke="#d0d0ec" stroke-width="2.3" stroke-linecap="round" fill="none"/>
<path d="M127.8 895.1l-0.6 1.8M101.4 845.8l-0.6 1.8M128.3 818.1l-0.6 1.8M135.9 891.1l-0.6 1.8M78.8 917.7l-0.6 1.8M91.6 845.0l-0.6 1.8M104.6 845.3l-0.6 1.8M85.3 913.4l-0.6 1.8M94.9 907.9l-0.6 1.8M95.1 912.4l-0.6 1.8M95.2 913.7l-0.6 1.8M98.1 908.4l-0.6 1.8M85.4 914.4l-0.6 1.8M127.3 879.5l-0.6 1.8M119.1 891.1l-0.6 1.8M119.2 892.0l-0.6 1.8M82.6 923.6l-0.6 1.8M131.5 878.4l-0.6 1.8M104.5 899.9l-0.6 1.8M140.8 871.2l-0.6 1.8M101.4 845.1l-0.6 1.8M110.5 821.6l-0.6 1.8M98.4 849.7l-0.6 1.8M100.8 832.8l-0.6 1.8M122.1 894.1l-0.6 1.8M107.7 829.6l-0.6 1.8M139.9 830.7l-0.6 1.8M144.8 874.3l-0.6 1.8M94.8 843.0l-0.6 1.8M97.8 902.2l-0.6 1.8M74.9 856.2l-0.6 1.8M128.8 834.9l-0.6 1.8M82.1 915.6l-0.6 1.8M92.0 915.1l-0.6 1.8M130.2 883.3l-0.6 1.8M98.1 908.7l-0.6 1.8M100.8 900.6l-0.6 1.8M122.8 827.0l-0.6 1.8M116.6 901.0l-0.6 1.8M114.0 832.7l-0.6 1.8M146.9 810.2l-0.6 1.8M114.3 899.5l-0.6 1.8M81.2 842.5l-0.6 1.8M123.0 834.4l-0.6 1.8M124.8 887.4l-0.6 1.8M97.9 905.2l-0.6 1.8M84.7 844.3l-0.6 1.8M89.1 922.1l-0.6 1.8M84.5 839.7l-0.6 1.8M71.0 851.6l-0.6 1.8M120.0 832.2l-0.6 1.8M126.0 835.4l-0.6 1.8M108.4 847.6l-0.6 1.8M127.4 881.9l-0.6 1.8M71.5 859.2l-0.6 1.8M131.3 822.4l-0.6 1.8M116.2 890.4l-0.6 1.8M136.9 819.2l-0.6 1.8M127.8 894.6l-0.6 1.8M135.6 877.6l-0.6 1.8M137.0 826.1l-0.6 1.8M87.7 835.7l-0.6 1.8M113.3 892.4l-0.6 1.8M116.6 821.2l-0.6 1.8M88.9 857.5l-0.6 1.8M100.6 828.8l-0.6 1.8M98.0 906.2l-0.6 1.8M122.7 825.1l-0.6 1.8M70.6 844.9l-0.6 1.8M85.5 857.0l-0.6 1.8M119.2 893.9l-0.6 1.8M128.4 820.9l-0.6 1.8M140.4 822.2l-0.6 1.8M95.0 910.2l-0.6 1.8M82.2 917.3l-0.6 1.8M116.8 825.6l-0.6 1.8M146.9 813.0l-0.6 1.8M92.0 914.0l-0.6 1.8M127.5 886.3l-0.6 1.8M88.8 915.5l-0.6 1.8M104.8 835.6l-0.6 1.8M71.7 861.2l-0.6 1.8M113.4 895.8l-0.6 1.8M82.1 916.3l-0.6 1.8M97.7 900.5l-0.6 1.8M89.1 862.4l-0.6 1.8M97.7 836.2l-0.6 1.8M139.7 823.4l-0.6 1.8M121.2 888.4l-0.6 1.8M101.2 907.7l-0.6 1.8M82.0 913.1l-0.6 1.8M92.0 914.4l-0.6 1.8M127.8 893.6l-0.6 1.8M101.5 846.4l-0.6 1.8M117.1 835.2l-0.6 1.8M88.8 916.4l-0.6 1.8M107.8 832.7l-0.6 1.8M91.7 908.8l-0.6 1.8M104.3 837.7l-0.6 1.8" stroke="#6060d0" stroke-width="2.3" stroke-linecap="round" fill="none"/>
<path d="M119.1 890.8l-0.6 1.8M141.5 873.9l-0.6 1.8M74.5 849.3l-0.6 1.8M101.7 850.7l-0.6 1.8M84.9 846.7l-0.6 1.8M85.3 853.7l-0.6 1.8M128.4 820.0l-0.6 1.8M116.9 828.9l-0.6 1.8M82.1 915.5l-0.6 1.8M81.6 849.1l-0.6 1.8M78.3 853.2l-0.6 1.8M85.3 913.6l-0.6 1.8M124.9 890.6l-0.6 1.8M133.1 886.2l-0.6 1.8M110.8 904.4l-0.6 1.8M88.5 910.5l-0.6 1.8M98.1 908.3l-0.6 1.8M116.6 900.6l-0.6 1.8M91.1 835.3l-0.6 1.8M110.6 826.1l-0.6 1.8M84.5 839.4l-0.6 1.8M127.8 893.8l-0.6 1.8M98.0 841.4l-0.6 1.8M77.9 847.1l-0.6 1.8M104.3 895.2l-0.6 1.8M82.3 919.5l-0.6 1.8" stroke="#9a9ade" stroke-width="2.3" stroke-linecap="round" fill="none"/>
<path d="M97.6 898.8l-0.6 1.8M107.0 899.8l-0.6 1.8M71.4 857.0l-0.6 1.8M119.1 890.6l-0.6 1.8M124.8 887.8l-0.6 1.8M113.8 827.3l-0.6 1.8" stroke="#d84848" stroke-width="2.3" stroke-linecap="round" fill="none"/>
<circle cx="236.3" cy="816.7" r="2.8" fill="url(#sb0)"/><circle cx="163.5" cy="816.8" r="2.8" fill="url(#sb0)"/><circle cx="244.4" cy="817.1" r="2.8" fill="url(#sb3)"/><circle cx="223.0" cy="817.5" r="2.8" fill="url(#sb2)"/><circle cx="182.4" cy="818.1" r="2.8" fill="url(#sb3)"/><circle cx="171.0" cy="822.8" r="2.8" fill="url(#sb0)"/><circle cx="155.2" cy="823.3" r="2.8" fill="url(#sb0)"/><circle cx="190.8" cy="823.5" r="2.8" fill="url(#sb0)"/><circle cx="253.4" cy="824.1" r="2.8" fill="url(#sb0)"/><circle cx="182.0" cy="827.9" r="2.8" fill="url(#sb0)"/><circle cx="174.6" cy="828.4" r="2.8" fill="url(#sb0)"/><circle cx="166.5" cy="830.5" r="2.8" fill="url(#sb2)"/><circle cx="229.9" cy="831.3" r="2.8" fill="url(#sb0)"/><circle cx="194.7" cy="832.0" r="2.8" fill="url(#sb0)"/><circle cx="159.4" cy="834.5" r="2.8" fill="url(#sb0)"/><circle cx="190.3" cy="835.8" r="2.8" fill="url(#sb2)"/><circle cx="197.5" cy="836.0" r="2.8" fill="url(#sb2)"/><circle cx="177.6" cy="836.0" r="2.8" fill="url(#sb0)"/><circle cx="206.3" cy="838.2" r="2.8" fill="url(#sb0)"/><circle cx="162.0" cy="838.4" r="2.8" fill="url(#sb0)"/><circle cx="185.5" cy="838.8" r="2.8" fill="url(#sb2)"/><circle cx="166.7" cy="838.8" r="2.8" fill="url(#sb2)"/><circle cx="153.1" cy="839.7" r="2.8" fill="url(#sb0)"/><circle cx="190.0" cy="840.9" r="2.8" fill="url(#sb3)"/><circle cx="228.2" cy="841.5" r="2.8" fill="url(#sb0)"/><circle cx="247.8" cy="841.8" r="2.8" fill="url(#sb0)"/><circle cx="171.8" cy="843.7" r="2.8" fill="url(#sb0)"/><circle cx="153.2" cy="843.7" r="2.8" fill="url(#sb3)"/><circle cx="182.3" cy="844.2" r="2.8" fill="url(#sb0)"/><circle cx="177.6" cy="844.7" r="2.8" fill="url(#sb0)"/><circle cx="238.7" cy="845.6" r="2.8" fill="url(#sb0)"/><circle cx="209.5" cy="845.8" r="2.8" fill="url(#sb3)"/><circle cx="163.7" cy="845.8" r="2.8" fill="url(#sb0)"/><circle cx="149.2" cy="847.4" r="2.8" fill="url(#sb3)"/><circle cx="198.4" cy="848.6" r="2.8" fill="url(#sb0)"/><circle cx="151.0" cy="851.3" r="2.8" fill="url(#sb0)"/><circle cx="188.1" cy="851.5" r="2.8" fill="url(#sb3)"/><circle cx="264.4" cy="853.0" r="2.8" fill="url(#sb2)"/><circle cx="207.1" cy="853.7" r="2.8" fill="url(#sb0)"/><circle cx="184.0" cy="853.8" r="2.8" fill="url(#sb0)"/><circle cx="203.1" cy="853.9" r="2.8" fill="url(#sb4)"/><circle cx="188.8" cy="855.6" r="2.8" fill="url(#sb0)"/><circle cx="248.8" cy="856.1" r="2.8" fill="url(#sb2)"/><circle cx="150.7" cy="857.2" r="2.8" fill="url(#sb0)"/><circle cx="199.1" cy="859.9" r="2.8" fill="url(#sb0)"/><circle cx="227.4" cy="862.7" r="2.8" fill="url(#sb0)"/><circle cx="165.4" cy="863.2" r="2.8" fill="url(#sb0)"/><circle cx="202.6" cy="863.3" r="2.8" fill="url(#sb0)"/><circle cx="177.1" cy="865.5" r="2.8" fill="url(#sb2)"/><circle cx="166.7" cy="867.7" r="2.8" fill="url(#sb3)"/><circle cx="174.5" cy="869.0" r="2.8" fill="url(#sb3)"/><circle cx="188.8" cy="869.5" r="2.8" fill="url(#sb3)"/><circle cx="146.9" cy="869.8" r="2.8" fill="url(#sb0)"/><circle cx="135.8" cy="870.6" r="2.8" fill="url(#sb2)"/><circle cx="258.0" cy="872.4" r="2.8" fill="url(#sb0)"/><circle cx="146.4" cy="872.8" r="2.8" fill="url(#sb0)"/><circle cx="142.5" cy="873.5" r="2.8" fill="url(#sb0)"/><circle cx="136.8" cy="873.7" r="2.8" fill="url(#sb0)"/><circle cx="133.5" cy="874.5" r="2.8" fill="url(#sb0)"/><circle cx="126.0" cy="876.3" r="2.8" fill="url(#sb0)"/><circle cx="135.7" cy="876.5" r="2.8" fill="url(#sb0)"/><circle cx="224.6" cy="876.7" r="2.8" fill="url(#sb3)"/><circle cx="148.8" cy="877.1" r="2.8" fill="url(#sb3)"/><circle cx="154.2" cy="877.1" r="2.8" fill="url(#sb0)"/><circle cx="130.1" cy="878.5" r="2.8" fill="url(#sb0)"/><circle cx="157.4" cy="879.7" r="2.8" fill="url(#sb0)"/><circle cx="127.1" cy="880.0" r="2.8" fill="url(#sb0)"/><circle cx="132.9" cy="880.1" r="2.8" fill="url(#sb0)"/><circle cx="154.1" cy="880.4" r="2.8" fill="url(#sb2)"/><circle cx="144.0" cy="880.5" r="2.8" fill="url(#sb3)"/><circle cx="123.7" cy="880.5" r="2.8" fill="url(#sb2)"/><circle cx="151.1" cy="880.8" r="2.8" fill="url(#sb0)"/><circle cx="137.1" cy="881.1" r="2.8" fill="url(#sb0)"/><circle cx="173.9" cy="881.1" r="2.8" fill="url(#sb3)"/><circle cx="181.3" cy="881.2" r="2.8" fill="url(#sb3)"/><circle cx="204.3" cy="881.8" r="2.8" fill="url(#sb0)"/><circle cx="164.5" cy="882.6" r="2.8" fill="url(#sb2)"/><circle cx="127.2" cy="883.1" r="2.8" fill="url(#sb2)"/><circle cx="122.6" cy="883.3" r="2.8" fill="url(#sb0)"/><circle cx="143.6" cy="883.6" r="2.8" fill="url(#sb0)"/><circle cx="155.4" cy="884.6" r="2.8" fill="url(#sb0)"/><circle cx="161.9" cy="884.7" r="2.8" fill="url(#sb2)"/><circle cx="131.2" cy="885.5" r="2.8" fill="url(#sb0)"/><circle cx="136.6" cy="885.8" r="2.8" fill="url(#sb0)"/><circle cx="148.0" cy="886.1" r="2.8" fill="url(#sb0)"/><circle cx="152.0" cy="886.7" r="2.8" fill="url(#sb0)"/><circle cx="165.9" cy="887.0" r="2.8" fill="url(#sb0)"/><circle cx="223.4" cy="887.3" r="2.8" fill="url(#sb0)"/><circle cx="133.6" cy="887.6" r="2.8" fill="url(#sb2)"/><circle cx="126.2" cy="887.6" r="2.8" fill="url(#sb3)"/><circle cx="157.3" cy="887.7" r="2.8" fill="url(#sb0)"/><circle cx="179.0" cy="887.7" r="2.8" fill="url(#sb2)"/><circle cx="185.8" cy="887.9" r="2.8" fill="url(#sb0)"/><circle cx="193.3" cy="889.0" r="2.8" fill="url(#sb3)"/><circle cx="170.7" cy="889.1" r="2.8" fill="url(#sb0)"/><circle cx="146.1" cy="890.0" r="2.8" fill="url(#sb0)"/><circle cx="238.0" cy="890.1" r="2.8" fill="url(#sb3)"/><circle cx="253.1" cy="890.5" r="2.8" fill="url(#sb2)"/><circle cx="160.9" cy="890.5" r="2.8" fill="url(#sb0)"/><circle cx="182.1" cy="890.6" r="2.8" fill="url(#sb0)"/><circle cx="141.6" cy="891.6" r="2.8" fill="url(#sb0)"/><circle cx="124.2" cy="891.9" r="2.8" fill="url(#sb0)"/><circle cx="131.9" cy="892.4" r="2.8" fill="url(#sb0)"/><circle cx="163.9" cy="892.6" r="2.8" fill="url(#sb2)"/><circle cx="137.5" cy="892.9" r="2.8" fill="url(#sb0)"/><circle cx="175.6" cy="893.0" r="2.8" fill="url(#sb0)"/><circle cx="152.3" cy="893.7" r="2.8" fill="url(#sb3)"/><circle cx="144.4" cy="893.8" r="2.8" fill="url(#sb0)"/><circle cx="157.4" cy="894.0" r="2.8" fill="url(#sb0)"/><circle cx="171.2" cy="894.1" r="2.8" fill="url(#sb0)"/><circle cx="148.2" cy="894.2" r="2.8" fill="url(#sb0)"/><circle cx="193.4" cy="894.9" r="2.8" fill="url(#sb0)"/><circle cx="140.2" cy="895.9" r="2.8" fill="url(#sb0)"/><circle cx="128.2" cy="896.1" r="2.8" fill="url(#sb0)"/><circle cx="185.2" cy="896.9" r="2.8" fill="url(#sb0)"/><circle cx="143.9" cy="897.1" r="2.8" fill="url(#sb0)"/><circle cx="153.5" cy="897.1" r="2.8" fill="url(#sb0)"/><circle cx="131.1" cy="897.2" r="2.8" fill="url(#sb3)"/><circle cx="163.3" cy="897.2" r="2.8" fill="url(#sb0)"/><circle cx="190.2" cy="897.3" r="2.8" fill="url(#sb3)"/><circle cx="174.5" cy="897.7" r="2.8" fill="url(#sb0)"/><circle cx="125.1" cy="898.2" r="2.8" fill="url(#sb0)"/><circle cx="156.1" cy="899.2" r="2.8" fill="url(#sb0)"/><circle cx="170.0" cy="899.6" r="2.8" fill="url(#sb3)"/><circle cx="231.5" cy="899.7" r="2.8" fill="url(#sb0)"/><circle cx="134.7" cy="900.2" r="2.8" fill="url(#sb0)"/><circle cx="141.3" cy="900.4" r="2.8" fill="url(#sb0)"/><circle cx="130.5" cy="900.7" r="2.8" fill="url(#sb0)"/><circle cx="185.0" cy="901.2" r="2.8" fill="url(#sb0)"/><circle cx="166.5" cy="901.5" r="2.8" fill="url(#sb0)"/><circle cx="144.0" cy="902.2" r="2.8" fill="url(#sb0)"/><circle cx="151.2" cy="902.8" r="2.8" fill="url(#sb0)"/><circle cx="173.5" cy="903.5" r="2.8" fill="url(#sb0)"/><circle cx="183.9" cy="904.7" r="2.8" fill="url(#sb0)"/><circle cx="138.1" cy="904.7" r="2.8" fill="url(#sb0)"/><circle cx="148.7" cy="905.9" r="2.8" fill="url(#sb0)"/><circle cx="129.4" cy="906.0" r="2.8" fill="url(#sb0)"/><circle cx="134.7" cy="906.4" r="2.8" fill="url(#sb0)"/><circle cx="178.2" cy="906.8" r="2.8" fill="url(#sb0)"/><circle cx="242.4" cy="907.0" r="2.8" fill="url(#sb2)"/><circle cx="218.0" cy="912.5" r="2.8" fill="url(#sb0)"/><circle cx="250.8" cy="913.1" r="2.8" fill="url(#sb0)"/><circle cx="155.1" cy="913.8" r="2.8" fill="url(#sb0)"/><circle cx="161.0" cy="913.8" r="2.8" fill="url(#sb0)"/><circle cx="140.6" cy="914.0" r="2.8" fill="url(#sb0)"/><circle cx="150.5" cy="914.8" r="2.8" fill="url(#sb0)"/><circle cx="152.9" cy="917.5" r="2.8" fill="url(#sb0)"/><circle cx="137.1" cy="917.6" r="2.8" fill="url(#sb2)"/><circle cx="164.7" cy="918.4" r="2.8" fill="url(#sb0)"/><circle cx="157.6" cy="918.4" r="2.8" fill="url(#sb0)"/><circle cx="150.9" cy="920.3" r="2.8" fill="url(#sb0)"/><circle cx="154.9" cy="921.3" r="2.8" fill="url(#sb3)"/><circle cx="160.9" cy="921.9" r="2.8" fill="url(#sb0)"/><circle cx="146.9" cy="922.0" r="2.8" fill="url(#sb0)"/><circle cx="235.8" cy="922.1" r="2.8" fill="url(#sb3)"/><circle cx="132.9" cy="923.0" r="2.8" fill="url(#sb3)"/><circle cx="140.7" cy="924.0" r="2.8" fill="url(#sb0)"/><circle cx="147.0" cy="925.4" r="2.8" fill="url(#sb0)"/><circle cx="192.5" cy="926.1" r="2.8" fill="url(#sb0)"/><circle cx="196.8" cy="927.7" r="2.8" fill="url(#sb3)"/><circle cx="208.4" cy="927.9" r="2.8" fill="url(#sb3)"/><circle cx="204.2" cy="928.4" r="2.8" fill="url(#sb3)"/><circle cx="187.9" cy="928.9" r="2.8" fill="url(#sb3)"/><circle cx="180.3" cy="930.3" r="2.8" fill="url(#sb0)"/><circle cx="207.3" cy="931.3" r="2.8" fill="url(#sb0)"/><circle cx="187.1" cy="932.3" r="2.8" fill="url(#sb0)"/><circle cx="179.9" cy="934.2" r="2.8" fill="url(#sb0)"/><circle cx="215.3" cy="934.4" r="2.8" fill="url(#sb0)"/><circle cx="225.4" cy="936.1" r="2.8" fill="url(#sb0)"/><circle cx="194.1" cy="936.3" r="2.8" fill="url(#sb0)"/><circle cx="182.5" cy="937.6" r="2.8" fill="url(#sb0)"/><circle cx="173.9" cy="939.3" r="2.8" fill="url(#sb0)"/><circle cx="191.7" cy="939.4" r="2.8" fill="url(#sb0)"/><circle cx="208.5" cy="940.5" r="2.8" fill="url(#sb3)"/><circle cx="170.2" cy="940.8" r="2.8" fill="url(#sb2)"/><circle cx="222.3" cy="940.9" r="2.8" fill="url(#sb0)"/><circle cx="167.1" cy="941.7" r="2.8" fill="url(#sb3)"/><circle cx="216.3" cy="941.9" r="2.8" fill="url(#sb0)"/><circle cx="208.6" cy="944.2" r="2.8" fill="url(#sb3)"/><circle cx="179.1" cy="945.3" r="2.8" fill="url(#sb2)"/><circle cx="213.0" cy="946.0" r="2.8" fill="url(#sb0)"/><circle cx="207.0" cy="948.4" r="2.8" fill="url(#sb3)"/><circle cx="179.4" cy="948.5" r="2.8" fill="url(#sb2)"/><circle cx="192.7" cy="948.7" r="2.8" fill="url(#sb3)"/><circle cx="184.0" cy="949.2" r="2.8" fill="url(#sb0)"/><circle cx="214.0" cy="950.3" r="2.8" fill="url(#sb3)"/><circle cx="197.1" cy="950.7" r="2.8" fill="url(#sb0)"/><circle cx="177.1" cy="951.5" r="2.8" fill="url(#sb2)"/><circle cx="208.7" cy="951.9" r="2.8" fill="url(#sb0)"/><circle cx="192.3" cy="954.1" r="2.8" fill="url(#sb0)"/><circle cx="204.7" cy="954.4" r="2.8" fill="url(#sb0)"/><circle cx="180.4" cy="955.2" r="2.8" fill="url(#sb0)"/><circle cx="197.7" cy="955.7" r="2.8" fill="url(#sb0)"/>
<path d="M129.3 827.3l-0.6 1.8M129.4 830.2l-0.6 1.8M129.4 830.5l-0.6 1.8M134.9 824.5l-0.6 1.8M148.2 812.1l-0.6 1.8M140.2 813.4l-0.6 1.8M150.9 815.7l-0.6 1.8M132.3 832.3l-0.6 1.8M153.4 811.1l-0.6 1.8M133.6 882.2l-0.6 1.8M149.2 871.5l-0.6 1.8M133.7 883.6l-0.6 1.8M151.8 873.5l-0.6 1.8M149.3 872.8l-0.6 1.8M133.5 876.0l-0.6 1.8M128.3 887.8l-0.6 1.8" stroke="#6060d0" stroke-width="2.3" stroke-linecap="round" fill="none"/>
<path d="M143.0 820.0l-0.6 1.8M143.0 819.3l-0.6 1.8M143.0 818.4l-0.6 1.8M150.9 814.3l-0.6 1.8M145.7 821.0l-0.6 1.8M132.2 827.2l-0.6 1.8M132.2 828.8l-0.6 1.8M137.7 826.7l-0.6 1.8M150.8 811.9l-0.6 1.8M142.9 814.5l-0.6 1.8M143.1 825.2l-0.6 1.8M153.5 813.4l-0.6 1.8M126.2 818.7l-0.6 1.8M133.6 878.8l-0.6 1.8M131.1 888.6l-0.6 1.8M139.0 879.9l-0.6 1.8M130.9 882.6l-0.6 1.8M146.7 871.7l-0.6 1.8M133.6 880.1l-0.6 1.8M144.3 881.5l-0.6 1.8M128.1 883.1l-0.6 1.8M151.8 872.8l-0.6 1.8M144.2 880.4l-0.6 1.8M151.7 864.7l-0.6 1.8M130.9 882.9l-0.6 1.8M144.2 877.8l-0.6 1.8M151.7 868.4l-0.6 1.8M151.8 873.4l-0.6 1.8M133.7 883.3l-0.6 1.8M133.7 883.2l-0.6 1.8M151.9 883.2l-0.6 1.8M154.2 865.6l-0.6 1.8M144.2 876.0l-0.6 1.8M154.3 875.9l-0.6 1.8M144.2 879.1l-0.6 1.8M131.1 888.1l-0.6 1.8M154.2 866.5l-0.6 1.8" stroke="#3c3cc4" stroke-width="2.3" stroke-linecap="round" fill="none"/>
<path d="M140.5 826.8l-0.6 1.8M137.6 820.9l-0.6 1.8M153.5 817.9l-0.6 1.8M151.7 865.4l-0.6 1.8M146.6 869.3l-0.6 1.8M133.6 882.5l-0.6 1.8" stroke="#9a9ade" stroke-width="2.3" stroke-linecap="round" fill="none"/>
<path d="M130.9 882.7l-0.6 1.8" stroke="#d84848" stroke-width="2.3" stroke-linecap="round" fill="none"/>
<line x1="69.5" y1="968.6" x2="58.9" y2="818.6" stroke="#1a1a1a" stroke-width="1.5"/>
<line x1="69.5" y1="968.6" x2="217.7" y2="1015.7" stroke="#1a1a1a" stroke-width="1.5"/>
<line x1="217.7" y1="1015.7" x2="289.0" y2="939.5" stroke="#1a1a1a" stroke-width="1.5"/>
<line x1="69.5" y1="968.6" x2="73.5" y2="968.3" stroke="#1a1a1a" stroke-width="1"/>
<line x1="68.9" y1="960.0" x2="71.4" y2="959.7" stroke="#1a1a1a" stroke-width="1"/>
<line x1="68.3" y1="951.3" x2="72.3" y2="951.0" stroke="#1a1a1a" stroke-width="1"/>
<line x1="67.7" y1="942.6" x2="70.2" y2="942.3" stroke="#1a1a1a" stroke-width="1"/>
<line x1="67.1" y1="933.7" x2="71.1" y2="933.4" stroke="#1a1a1a" stroke-width="1"/>
<line x1="66.4" y1="924.7" x2="68.9" y2="924.4" stroke="#1a1a1a" stroke-width="1"/>
<line x1="65.8" y1="915.7" x2="69.8" y2="915.4" stroke="#1a1a1a" stroke-width="1"/>
<line x1="65.1" y1="906.5" x2="67.6" y2="906.2" stroke="#1a1a1a" stroke-width="1"/>
<line x1="64.5" y1="897.2" x2="68.5" y2="896.9" stroke="#1a1a1a" stroke-width="1"/>
<line x1="63.8" y1="887.8" x2="66.3" y2="887.5" stroke="#1a1a1a" stroke-width="1"/>
<line x1="63.1" y1="878.2" x2="67.1" y2="877.9" stroke="#1a1a1a" stroke-width="1"/>
<line x1="62.4" y1="868.6" x2="64.9" y2="868.3" stroke="#1a1a1a" stroke-width="1"/>
<line x1="61.7" y1="858.9" x2="65.7" y2="858.6" stroke="#1a1a1a" stroke-width="1"/>
<line x1="61.0" y1="849.0" x2="63.5" y2="848.7" stroke="#1a1a1a" stroke-width="1"/>
<line x1="60.3" y1="839.0" x2="64.3" y2="838.7" stroke="#1a1a1a" stroke-width="1"/>
<line x1="59.6" y1="828.9" x2="62.1" y2="828.6" stroke="#1a1a1a" stroke-width="1"/>
<line x1="58.9" y1="818.6" x2="62.9" y2="818.3" stroke="#1a1a1a" stroke-width="1"/>
<line x1="69.5" y1="968.6" x2="68.9" y2="966.2" stroke="#1a1a1a" stroke-width="1"/>
<line x1="217.7" y1="1015.7" x2="215.4" y2="1016.0" stroke="#1a1a1a" stroke-width="1"/>
<line x1="83.5" y1="973.0" x2="82.9" y2="970.6" stroke="#1a1a1a" stroke-width="1"/>
<line x1="226.5" y1="1006.4" x2="224.2" y2="1006.6" stroke="#1a1a1a" stroke-width="1"/>
<line x1="97.7" y1="977.5" x2="97.1" y2="975.2" stroke="#1a1a1a" stroke-width="1"/>
<line x1="234.9" y1="997.4" x2="232.6" y2="997.6" stroke="#1a1a1a" stroke-width="1"/>
<line x1="112.3" y1="982.2" x2="111.7" y2="979.8" stroke="#1a1a1a" stroke-width="1"/>
<line x1="243.0" y1="988.7" x2="240.7" y2="989.0" stroke="#1a1a1a" stroke-width="1"/>
<line x1="127.3" y1="986.9" x2="126.6" y2="984.6" stroke="#1a1a1a" stroke-width="1"/>
<line x1="250.7" y1="980.5" x2="248.5" y2="980.7" stroke="#1a1a1a" stroke-width="1"/>
<line x1="142.5" y1="991.8" x2="141.9" y2="989.4" stroke="#1a1a1a" stroke-width="1"/>
<line x1="258.2" y1="972.5" x2="255.9" y2="972.8" stroke="#1a1a1a" stroke-width="1"/>
<line x1="158.2" y1="996.8" x2="157.5" y2="994.4" stroke="#1a1a1a" stroke-width="1"/>
<line x1="265.3" y1="964.8" x2="263.1" y2="965.1" stroke="#1a1a1a" stroke-width="1"/>
<line x1="174.2" y1="1001.9" x2="173.6" y2="999.5" stroke="#1a1a1a" stroke-width="1"/>
<line x1="272.2" y1="957.5" x2="270.0" y2="957.7" stroke="#1a1a1a" stroke-width="1"/>
<line x1="190.6" y1="1007.1" x2="190.0" y2="1004.7" stroke="#1a1a1a" stroke-width="1"/>
<line x1="278.9" y1="950.4" x2="276.6" y2="950.6" stroke="#1a1a1a" stroke-width="1"/>
<line x1="207.4" y1="1012.5" x2="206.8" y2="1010.1" stroke="#1a1a1a" stroke-width="1"/>
<line x1="285.3" y1="943.5" x2="283.1" y2="943.8" stroke="#1a1a1a" stroke-width="1"/>
<text transform="translate(55.9,825.1) rotate(-8.0) skewX(-12)" font-size="10" font-weight="bold" fill="#1a1a1a" stroke="#1a1a1a" stroke-width="0.2" text-anchor="end" font-family='"Liberation Sans", sans-serif' >1.2</text>
<text transform="translate(57.3,845.5) rotate(-11.5) skewX(-12)" font-size="10" font-weight="bold" fill="#1a1a1a" stroke="#1a1a1a" stroke-width="0.2" text-anchor="end" font-family='"Liberation Sans", sans-serif' >0.9</text>
<text transform="translate(58.7,865.4) rotate(-15.0) skewX(-12)" font-size="10" font-weight="bold" fill="#1a1a1a" stroke="#1a1a1a" stroke-width="0.2" text-anchor="end" font-family='"Liberation Sans", sans-serif' >0.6</text>
<text transform="translate(60.1,884.7) rotate(-18.5) skewX(-12)" font-size="10" font-weight="bold" fill="#1a1a1a" stroke="#1a1a1a" stroke-width="0.2" text-anchor="end" font-family='"Liberation Sans", sans-serif' >0.3</text>
<text transform="translate(61.5,903.7) rotate(-22.0) skewX(-12)" font-size="10" font-weight="bold" fill="#1a1a1a" stroke="#1a1a1a" stroke-width="0.2" text-anchor="end" font-family='"Liberation Sans", sans-serif' >0.0</text>
<text transform="translate(62.8,922.2) rotate(-25.5) skewX(-12)" font-size="10" font-weight="bold" fill="#1a1a1a" stroke="#1a1a1a" stroke-width="0.2" text-anchor="end" font-family='"Liberation Sans", sans-serif' >-0.3</text>
<text transform="translate(64.1,940.2) rotate(-29.0) skewX(-12)" font-size="10" font-weight="bold" fill="#1a1a1a" stroke="#1a1a1a" stroke-width="0.2" text-anchor="end" font-family='"Liberation Sans", sans-serif' >-0.6</text>
<text transform="translate(65.3,957.8) rotate(-32.5) skewX(-12)" font-size="10" font-weight="bold" fill="#1a1a1a" stroke="#1a1a1a" stroke-width="0.2" text-anchor="end" font-family='"Liberation Sans", sans-serif' >-0.9</text>
<text transform="translate(66.5,975.1) rotate(-36.0) skewX(-12)" font-size="10" font-weight="bold" fill="#1a1a1a" stroke="#1a1a1a" stroke-width="0.2" text-anchor="end" font-family='"Liberation Sans", sans-serif' >-1.2</text>
<text transform="translate(83.2,981.0) rotate(-50) skewX(-22)" font-size="9.8" font-weight="bold" fill="#1a1a1a" text-anchor="middle" dominant-baseline="central" font-family='"Liberation Sans", sans-serif'>100</text>
<text transform="translate(115.7,991.5) rotate(-50) skewX(-22)" font-size="9.8" font-weight="bold" fill="#1a1a1a" text-anchor="middle" dominant-baseline="central" font-family='"Liberation Sans", sans-serif'>150</text>
<text transform="translate(148.2,1002.0) rotate(-50) skewX(-22)" font-size="9.8" font-weight="bold" fill="#1a1a1a" text-anchor="middle" dominant-baseline="central" font-family='"Liberation Sans", sans-serif'>200</text>
<text transform="translate(179.5,1011.2) rotate(-50) skewX(-22)" font-size="9.8" font-weight="bold" fill="#1a1a1a" text-anchor="middle" dominant-baseline="central" font-family='"Liberation Sans", sans-serif'>250</text>
<text transform="translate(212.0,1024.0) rotate(-50) skewX(-22)" font-size="9.8" font-weight="bold" fill="#1a1a1a" text-anchor="middle" dominant-baseline="central" font-family='"Liberation Sans", sans-serif'>300</text>
<text transform="translate(244.7,1006.0) rotate(16) skewX(-25)" font-size="9.4" font-weight="bold" fill="#1a1a1a" text-anchor="middle" dominant-baseline="central" font-family='"Liberation Sans", sans-serif'>100</text>
<text transform="translate(257.5,988.5) rotate(16) skewX(-25)" font-size="9.4" font-weight="bold" fill="#1a1a1a" text-anchor="middle" dominant-baseline="central" font-family='"Liberation Sans", sans-serif'>150</text>
<text transform="translate(274.3,972.7) rotate(16) skewX(-25)" font-size="9.4" font-weight="bold" fill="#1a1a1a" text-anchor="middle" dominant-baseline="central" font-family='"Liberation Sans", sans-serif'>200</text>
<text transform="translate(287.8,957.5) rotate(16) skewX(-25)" font-size="9.4" font-weight="bold" fill="#1a1a1a" text-anchor="middle" dominant-baseline="central" font-family='"Liberation Sans", sans-serif'>250</text>
<text transform="translate(301.2,943.3) rotate(16) skewX(-25)" font-size="9.4" font-weight="bold" fill="#1a1a1a" text-anchor="middle" dominant-baseline="central" font-family='"Liberation Sans", sans-serif'>300</text>
<text transform="translate(41.5,909.0) rotate(86)" font-size="11.2" font-weight="bold" fill="#1a1a1a" stroke="#1a1a1a" stroke-width="0.25" text-anchor="middle" dominant-baseline="central" font-family='"Liberation Sans", sans-serif'>Orientation angle (rad)</text>
<text transform="translate(121.0,1007.7) rotate(20) skewX(-8)" font-size="11.2" font-weight="bold" fill="#1a1a1a" text-anchor="middle" dominant-baseline="central" font-family='"Liberation Sans", sans-serif'>Nanofin width (nm)</text>
<text transform="translate(284.6,983.5) rotate(-46) scale(0.8,1)" font-size="10.5" font-weight="bold" fill="#1a1a1a" text-anchor="middle" dominant-baseline="central" font-family='"Liberation Sans", sans-serif'>Nanofin length (nm)</text>
<rect x="306.8" y="815.0" width="11" height="117.8" fill="url(#cb)"/>
<text x="324.5" y="821.0" font-size="10" font-weight="bold" fill="#1a1a1a" font-family='"Liberation Sans", sans-serif'>25000</text>
<text x="324.5" y="844.0" font-size="10" font-weight="bold" fill="#1a1a1a" font-family='"Liberation Sans", sans-serif'>20000</text>
<text x="324.5" y="867.0" font-size="10" font-weight="bold" fill="#1a1a1a" font-family='"Liberation Sans", sans-serif'>15000</text>
<text x="324.5" y="890.0" font-size="10" font-weight="bold" fill="#1a1a1a" font-family='"Liberation Sans", sans-serif'>10000</text>
<text x="324.5" y="913.0" font-size="10" font-weight="bold" fill="#1a1a1a" font-family='"Liberation Sans", sans-serif'>5000</text>
<text x="324.5" y="935.0" font-size="10" font-weight="bold" fill="#1a1a1a" font-family='"Liberation Sans", sans-serif'>0</text>
<text x="46.8" y="780.6" font-size="22.5" font-weight="bold" fill="#111" stroke="#111" stroke-width="0.4" font-family='"Liberation Serif", serif'>e</text>
<line x1="516.7" y1="911.6" x2="516.9" y2="780.0" stroke="#e2e2e2" stroke-width="0.9"/>
<line x1="425.4" y1="956.7" x2="416.7" y2="810.5" stroke="#e2e2e2" stroke-width="0.9"/>
<line x1="431.0" y1="975.7" x2="516.7" y2="911.6" stroke="#e2e2e2" stroke-width="0.9"/>
<line x1="425.4" y1="956.7" x2="570.6" y2="1000.9" stroke="#e2e2e2" stroke-width="0.9"/>
<line x1="542.9" y1="918.2" x2="545.4" y2="784.3" stroke="#e2e2e2" stroke-width="0.9"/>
<line x1="445.1" y1="942.8" x2="438.5" y2="801.0" stroke="#e2e2e2" stroke-width="0.9"/>
<line x1="460.2" y1="985.0" x2="542.9" y2="918.2" stroke="#e2e2e2" stroke-width="0.9"/>
<line x1="445.1" y1="942.8" x2="586.6" y2="983.7" stroke="#e2e2e2" stroke-width="0.9"/>
<line x1="570.2" y1="925.0" x2="575.1" y2="788.9" stroke="#e2e2e2" stroke-width="0.9"/>
<line x1="463.4" y1="929.9" x2="458.7" y2="792.3" stroke="#e2e2e2" stroke-width="0.9"/>
<line x1="490.9" y1="994.8" x2="570.2" y2="925.0" stroke="#e2e2e2" stroke-width="0.9"/>
<line x1="463.4" y1="929.9" x2="601.5" y2="967.9" stroke="#e2e2e2" stroke-width="0.9"/>
<line x1="598.5" y1="932.1" x2="606.1" y2="793.6" stroke="#e2e2e2" stroke-width="0.9"/>
<line x1="480.5" y1="917.8" x2="477.5" y2="784.2" stroke="#e2e2e2" stroke-width="0.9"/>
<line x1="523.0" y1="1005.0" x2="598.5" y2="932.1" stroke="#e2e2e2" stroke-width="0.9"/>
<line x1="480.5" y1="917.8" x2="615.3" y2="953.2" stroke="#e2e2e2" stroke-width="0.9"/>
<line x1="407.3" y1="951.3" x2="496.3" y2="891.4" stroke="#e2e2e2" stroke-width="0.9"/>
<line x1="496.3" y1="891.4" x2="629.3" y2="923.2" stroke="#e2e2e2" stroke-width="0.9"/>
<line x1="406.1" y1="933.7" x2="496.1" y2="876.0" stroke="#e2e2e2" stroke-width="0.9"/>
<line x1="496.1" y1="876.0" x2="630.5" y2="906.6" stroke="#e2e2e2" stroke-width="0.9"/>
<line x1="404.8" y1="915.7" x2="495.9" y2="860.3" stroke="#e2e2e2" stroke-width="0.9"/>
<line x1="495.9" y1="860.3" x2="631.8" y2="889.6" stroke="#e2e2e2" stroke-width="0.9"/>
<line x1="403.5" y1="897.2" x2="495.7" y2="844.2" stroke="#e2e2e2" stroke-width="0.9"/>
<line x1="495.7" y1="844.2" x2="633.1" y2="872.2" stroke="#e2e2e2" stroke-width="0.9"/>
<line x1="402.1" y1="878.2" x2="495.5" y2="827.8" stroke="#e2e2e2" stroke-width="0.9"/>
<line x1="495.5" y1="827.8" x2="634.4" y2="854.4" stroke="#e2e2e2" stroke-width="0.9"/>
<line x1="400.7" y1="858.9" x2="495.3" y2="811.1" stroke="#e2e2e2" stroke-width="0.9"/>
<line x1="495.3" y1="811.1" x2="635.7" y2="836.2" stroke="#e2e2e2" stroke-width="0.9"/>
<line x1="399.3" y1="839.0" x2="495.1" y2="794.0" stroke="#e2e2e2" stroke-width="0.9"/>
<line x1="495.1" y1="794.0" x2="637.1" y2="817.6" stroke="#e2e2e2" stroke-width="0.9"/>
<line x1="397.9" y1="818.6" x2="494.9" y2="776.6" stroke="#d0d0d0" stroke-width="1.1"/>
<line x1="494.9" y1="776.6" x2="638.5" y2="798.6" stroke="#d0d0d0" stroke-width="1.1"/>
<line x1="638.5" y1="798.6" x2="628.0" y2="939.5" stroke="#d0d0d0" stroke-width="1.1"/>
<line x1="496.5" y1="906.6" x2="494.9" y2="776.6" stroke="#d8d8d8" stroke-width="1.0"/>
<line x1="496.5" y1="906.6" x2="628.0" y2="939.5" stroke="#d8d8d8" stroke-width="0.9"/>
<line x1="408.5" y1="968.6" x2="496.5" y2="906.6" stroke="#d8d8d8" stroke-width="0.9"/>
<path d="M495.9 943.2h1.6M515.7 973.4h1.6M530.8 991.3h1.6M514.7 989.8h1.6M487.5 930.0h1.6M491.2 931.0h1.6M557.4 982.4h1.6M494.4 987.0h1.6M510.0 968.5h1.6M549.6 990.1h1.6M486.0 934.9h1.6M589.3 956.1h1.6M532.1 968.7h1.6M548.5 979.8h1.6M480.4 979.2h1.6M478.6 932.9h1.6M525.8 979.6h1.6M475.7 954.8h1.6M476.9 968.2h1.6M487.1 938.0h1.6M540.7 971.2h1.6M511.8 992.4h1.6M528.0 993.9h1.6M494.9 967.2h1.6M539.0 967.6h1.6M471.5 941.9h1.6M490.8 966.0h1.6M513.0 975.8h1.6M503.1 989.7h1.6M488.6 933.0h1.6M473.6 948.2h1.6M481.8 942.0h1.6M493.3 945.2h1.6M503.7 945.3h1.6M511.5 972.1h1.6M503.1 979.4h1.6M522.2 962.8h1.6M507.4 980.7h1.6M547.5 970.0h1.6M489.2 971.9h1.6M586.9 966.2h1.6M472.2 933.8h1.6M538.1 973.6h1.6M490.5 975.6h1.6M486.3 974.3h1.6M511.6 982.0h1.6M504.5 973.3h1.6M542.5 991.4h1.6M514.2 969.7h1.6M479.2 975.5h1.6M543.2 968.8h1.6M574.8 955.7h1.6M516.9 967.4h1.6M530.5 965.2h1.6M577.1 933.1h1.6M527.9 967.5h1.6M525.2 996.6h1.6M488.8 981.8h1.6M563.4 939.1h1.6M539.8 977.3h1.6M485.6 943.1h1.6M514.4 979.5h1.6M478.1 971.8h1.6M466.8 937.8h1.6M559.9 979.9h1.6M507.3 970.9h1.6M572.1 965.8h1.6M496.2 970.8h1.6M523.1 982.1h1.6M477.4 981.7h1.6M558.0 976.2h1.6M540.7 987.4h1.6M474.6 951.5h1.6M544.9 972.4h1.6M583.8 961.7h1.6M474.3 939.9h1.6M503.1 969.6h1.6M526.4 964.0h1.6M529.1 987.3h1.6M521.9 988.6h1.6M533.5 988.7h1.6M480.7 938.9h1.6M486.7 946.2h1.6M554.8 985.0h1.6M498.6 941.1h1.6M493.4 973.2h1.6M521.1 968.6h1.6M527.4 983.4h1.6M513.2 985.9h1.6M505.9 967.3h1.6M473.2 936.8h1.6M491.8 950.5h1.6M544.1 978.5h1.6M582.6 934.5h1.6M494.7 976.9h1.6M589.7 963.3h1.6M534.7 966.4h1.6M483.9 967.1h1.6M501.8 966.1h1.6M545.1 988.8h1.6M533.1 962.9h1.6M536.2 986.1h1.6M497.3 984.4h1.6M472.5 945.1h1.6M490.1 985.7h1.6M568.8 982.5h1.6M489.8 936.0h1.6M517.5 987.2h1.6M495.0 932.0h1.6M483.4 936.9h1.6M481.0 969.5h1.6M535.3 992.6h1.6M530.1 980.9h1.6M539.8 994.0h1.6M493.1 983.1h1.6M518.7 980.8h1.6M481.6 983.0h1.6M547.8 986.2h1.6M487.6 978.0h1.6M563.2 959.7h1.6M517.2 977.1h1.6M558.1 931.3h1.6M494.7 940.0h1.6M496.1 935.0h1.6M482.2 973.1h1.6M467.8 940.9h1.6M508.8 984.6h1.6M520.3 984.7h1.6M518.4 971.0h1.6M553.6 974.9h1.6M484.0 948.3h1.6M524.2 975.9h1.6M512.8 966.2h1.6M561.9 983.7h1.6M496.0 980.6h1.6M483.4 976.8h1.6M498.7 988.3h1.6M478.0 940.9h1.6M491.8 979.3h1.6M499.8 944.2h1.6M536.4 969.9h1.6M494.5 948.4h1.6M531.2 974.7h1.6M497.5 974.4h1.6M519.6 965.1h1.6" stroke="#3c3cc4" stroke-width="2.9" stroke-linecap="round" fill="none"/>
<path d="M481.0 969.5h1.6M538.9 983.5h1.6M499.0 968.4h1.6M510.2 978.2h1.6M532.5 995.3h1.6M516.9 967.4h1.6M500.3 972.0h1.6M492.4 934.0h1.6M537.2 979.7h1.6M552.9 981.1h1.6M555.5 978.6h1.6M539.0 967.6h1.6M551.1 977.4h1.6M522.6 972.2h1.6M516.0 983.3h1.6M536.2 986.1h1.6M506.0 987.1h1.6M483.4 976.8h1.6M501.7 975.7h1.6M521.5 978.3h1.6M552.2 987.5h1.6M538.1 973.6h1.6" stroke="#9a9ade" stroke-width="2.9" stroke-linecap="round" fill="none"/>
<path d="M531.8 984.8h1.6M497.7 964.9h1.6M485.1 970.7h1.6M504.5 983.2h1.6M545.9 982.3h1.6M501.1 947.4h1.6M475.3 943.0h1.6M516.2 993.8h1.6M481.6 983.0h1.6M480.7 938.9h1.6M493.4 973.2h1.6M513.2 985.9h1.6M469.5 935.8h1.6M564.4 981.2h1.6M577.7 953.0h1.6M511.8 992.4h1.6M538.0 990.0h1.6M490.1 928.1h1.6M520.3 984.7h1.6M523.5 992.5h1.6M571.9 951.4h1.6M484.0 948.3h1.6M523.7 966.3h1.6M569.1 961.3h1.6M525.3 969.8h1.6M541.5 981.0h1.6M519.1 991.2h1.6M526.9 973.5h1.6M549.3 973.7h1.6M475.9 934.9h1.6M485.9 984.3h1.6M559.3 986.3h1.6M533.8 972.3h1.6M484.5 940.0h1.6" stroke="#d0d0ec" stroke-width="2.9" stroke-linecap="round" fill="none"/>
<path d="M526.3 989.9h1.6M585.3 932.1h1.6M508.6 965.0h1.6M544.9 972.4h1.6M488.3 941.0h1.6M507.4 991.1h1.6M498.9 978.1h1.6M465.0 942.9h1.6M510.2 978.2h1.6M566.1 964.1h1.6M543.2 968.8h1.6M488.0 968.3h1.6M510.0 968.5h1.6M486.0 934.9h1.6M574.8 955.7h1.6M485.2 951.6h1.6M548.5 979.8h1.6M505.9 977.0h1.6M477.0 937.9h1.6M533.5 988.7h1.6M481.3 950.5h1.6M537.3 964.1h1.6M482.3 933.9h1.6M477.4 949.4h1.6M498.6 941.1h1.6M521.1 968.6h1.6M515.4 963.9h1.6M469.5 935.8h1.6M494.5 948.4h1.6M494.7 940.0h1.6M496.1 935.0h1.6M562.4 977.5h1.6M475.7 954.8h1.6M500.2 981.9h1.6M542.4 974.8h1.6M481.2 931.0h1.6M502.4 942.2h1.6M532.8 978.4h1.6M469.7 947.2h1.6M507.6 946.4h1.6M489.4 944.1h1.6M557.8 944.2h1.6M501.6 985.8h1.6M534.7 966.4h1.6M516.0 983.3h1.6M510.3 988.5h1.6M522.2 962.8h1.6M550.4 983.6h1.6M578.0 967.5h1.6M524.7 986.0h1.6M534.5 982.2h1.6M519.9 974.6h1.6M541.5 981.0h1.6M497.3 938.0h1.6M472.5 945.1h1.6M480.2 947.2h1.6M521.5 978.3h1.6M552.2 987.5h1.6M549.3 973.7h1.6M479.6 935.9h1.6M476.3 946.1h1.6M493.5 937.0h1.6M492.1 942.1h1.6M490.6 947.3h1.6M501.2 939.1h1.6M540.7 987.4h1.6M484.6 980.5h1.6M533.8 972.3h1.6" stroke="#6060d0" stroke-width="2.9" stroke-linecap="round" fill="none"/>
<path d="M479.1 944.1h1.6M484.9 932.0h1.6M481.3 950.5h1.6M530.8 991.3h1.6" stroke="#d84848" stroke-width="2.9" stroke-linecap="round" fill="none"/>
<path d="M431.3 920.2l-0.6 1.8M458.1 889.3l-0.6 1.8M446.3 906.0l-0.6 1.8M417.0 848.2l-0.6 1.8M453.2 838.3l-0.6 1.8M443.2 906.2l-0.6 1.8M423.9 847.5l-0.6 1.8M456.8 893.7l-0.6 1.8M410.2 854.1l-0.6 1.8M437.1 908.1l-0.6 1.8M440.3 843.2l-0.6 1.8M420.6 849.8l-0.6 1.8M440.0 837.5l-0.6 1.8M427.4 848.7l-0.6 1.8M417.3 853.5l-0.6 1.8M452.2 890.1l-0.6 1.8M420.9 854.1l-0.6 1.8M469.4 890.4l-0.6 1.8M440.0 904.1l-0.6 1.8M443.8 850.2l-0.6 1.8M459.3 841.2l-0.6 1.8M489.3 820.4l-0.6 1.8M423.9 846.9l-0.6 1.8M424.5 858.2l-0.6 1.8M468.9 823.9l-0.6 1.8M424.2 910.6l-0.6 1.8M446.4 836.4l-0.6 1.8M460.0 882.3l-0.6 1.8M417.7 859.0l-0.6 1.8M443.4 910.9l-0.6 1.8M440.4 845.3l-0.6 1.8M409.3 839.9l-0.6 1.8M417.3 852.9l-0.6 1.8M420.2 842.2l-0.6 1.8M423.7 843.4l-0.6 1.8M433.5 900.2l-0.6 1.8M433.6 838.4l-0.6 1.8M428.2 922.5l-0.6 1.8M423.8 846.2l-0.6 1.8M410.8 863.4l-0.6 1.8M420.9 911.8l-0.6 1.8M424.6 918.7l-0.6 1.8M437.4 915.4l-0.6 1.8M433.6 902.6l-0.6 1.8M434.0 911.3l-0.6 1.8M434.2 913.4l-0.6 1.8M458.2 893.0l-0.6 1.8M420.3 902.5l-0.6 1.8M464.5 820.3l-0.6 1.8M450.0 834.0l-0.6 1.8M452.9 829.6l-0.6 1.8M434.1 849.7l-0.6 1.8M413.9 855.4l-0.6 1.8M443.8 835.9l-0.6 1.8M433.5 837.4l-0.6 1.8M433.5 837.9l-0.6 1.8M463.7 884.7l-0.6 1.8M423.9 905.6l-0.6 1.8M431.3 919.9l-0.6 1.8M418.1 922.4l-0.6 1.8M486.9 870.0l-0.6 1.8M410.4 856.9l-0.6 1.8M455.5 898.2l-0.6 1.8M430.4 841.7l-0.6 1.8M469.2 882.3l-0.6 1.8M439.8 898.8l-0.6 1.8M414.1 858.0l-0.6 1.8M416.8 844.9l-0.6 1.8M411.1 867.5l-0.6 1.8M449.1 888.3l-0.6 1.8M427.0 901.0l-0.6 1.8M433.8 842.6l-0.6 1.8M455.2 892.0l-0.6 1.8M489.1 808.3l-0.6 1.8M430.7 846.7l-0.6 1.8M458.3 896.2l-0.6 1.8M442.8 896.5l-0.6 1.8M458.8 825.8l-0.6 1.8M455.1 888.8l-0.6 1.8M440.3 896.9l-0.6 1.8M452.7 825.3l-0.6 1.8M480.4 871.1l-0.6 1.8M469.2 880.9l-0.6 1.8M443.1 834.6l-0.6 1.8M489.4 828.1l-0.6 1.8M452.8 827.3l-0.6 1.8M433.7 841.9l-0.6 1.8M443.3 907.9l-0.6 1.8M427.8 916.7l-0.6 1.8M420.3 845.0l-0.6 1.8M427.8 916.2l-0.6 1.8M424.2 851.7l-0.6 1.8M461.7 823.6l-0.6 1.8M458.9 830.1l-0.6 1.8M458.7 824.6l-0.6 1.8M428.0 919.0l-0.6 1.8M414.5 919.6l-0.6 1.8M409.9 848.9l-0.6 1.8M465.5 830.2l-0.6 1.8M417.4 854.3l-0.6 1.8M430.7 847.9l-0.6 1.8M437.4 850.4l-0.6 1.8M426.5 832.2l-0.6 1.8M420.3 843.9l-0.6 1.8M442.6 892.8l-0.6 1.8M427.6 851.9l-0.6 1.8M437.1 908.5l-0.6 1.8M458.2 892.0l-0.6 1.8M466.5 886.2l-0.6 1.8M455.3 892.9l-0.6 1.8M463.8 890.0l-0.6 1.8M417.0 847.5l-0.6 1.8M433.7 840.8l-0.6 1.8M443.6 902.1l-0.6 1.8M417.1 850.7l-0.6 1.8M446.0 898.9l-0.6 1.8M443.6 914.7l-0.6 1.8M417.9 918.4l-0.6 1.8M417.4 911.3l-0.6 1.8M461.4 816.1l-0.6 1.8M423.7 844.1l-0.6 1.8M442.9 829.7l-0.6 1.8M430.5 905.7l-0.6 1.8M414.0 857.4l-0.6 1.8M443.4 840.4l-0.6 1.8M450.2 840.1l-0.6 1.8M443.1 835.2l-0.6 1.8M430.4 904.4l-0.6 1.8M463.9 891.5l-0.6 1.8M443.5 911.8l-0.6 1.8M413.6 851.5l-0.6 1.8M410.1 852.1l-0.6 1.8M458.6 843.4l-0.6 1.8M452.3 892.8l-0.6 1.8M436.7 834.8l-0.6 1.8M436.8 837.0l-0.6 1.8M433.5 838.1l-0.6 1.8M424.0 848.8l-0.6 1.8M437.0 842.3l-0.6 1.8M456.2 837.8l-0.6 1.8M436.8 836.7l-0.6 1.8M417.0 848.6l-0.6 1.8M418.0 920.8l-0.6 1.8M436.8 903.3l-0.6 1.8M430.3 839.1l-0.6 1.8M424.1 849.9l-0.6 1.8M436.8 903.0l-0.6 1.8M424.5 916.5l-0.6 1.8M424.7 919.1l-0.6 1.8M424.4 856.0l-0.6 1.8M427.2 845.4l-0.6 1.8M425.0 925.0l-0.6 1.8M433.8 906.5l-0.6 1.8M420.7 851.1l-0.6 1.8M436.9 904.9l-0.6 1.8M416.8 845.0l-0.6 1.8M454.6 834.4l-0.6 1.8M460.9 886.1l-0.6 1.8M424.3 913.2l-0.6 1.8M433.9 908.9l-0.6 1.8M459.0 831.1l-0.6 1.8M430.8 849.6l-0.6 1.8M421.1 914.8l-0.6 1.8M424.8 921.7l-0.6 1.8M446.1 830.2l-0.6 1.8M430.6 907.2l-0.6 1.8M446.8 832.9l-0.6 1.8M446.6 827.8l-0.6 1.8M417.4 855.3l-0.6 1.8M446.0 900.2l-0.6 1.8M421.2 916.6l-0.6 1.8M461.7 823.5l-0.6 1.8M461.9 832.1l-0.6 1.8M480.5 874.3l-0.6 1.8M439.9 902.1l-0.6 1.8M449.8 830.4l-0.6 1.8" stroke="#3c3cc4" stroke-width="2.3" stroke-linecap="round" fill="none"/>
<path d="M442.8 828.6l-0.6 1.8M466.2 875.0l-0.6 1.8M427.5 910.4l-0.6 1.8M431.1 916.4l-0.6 1.8M413.2 844.2l-0.6 1.8M436.9 905.6l-0.6 1.8M439.4 890.7l-0.6 1.8M430.5 844.4l-0.6 1.8M430.4 841.2l-0.6 1.8M433.7 840.7l-0.6 1.8M430.9 913.6l-0.6 1.8M421.1 914.9l-0.6 1.8M436.7 835.1l-0.6 1.8M436.7 835.2l-0.6 1.8M431.2 918.4l-0.6 1.8M437.4 914.0l-0.6 1.8M423.7 843.4l-0.6 1.8M430.7 846.8l-0.6 1.8M427.2 905.9l-0.6 1.8M440.0 903.3l-0.6 1.8M464.5 820.8l-0.6 1.8M423.5 840.8l-0.6 1.8M418.2 924.0l-0.6 1.8M423.9 906.7l-0.6 1.8M427.3 846.5l-0.6 1.8" stroke="#9a9ade" stroke-width="2.3" stroke-linecap="round" fill="none"/>
<path d="M472.2 891.2l-0.6 1.8M414.5 919.6l-0.6 1.8M424.7 920.2l-0.6 1.8M468.9 821.4l-0.6 1.8M410.2 854.1l-0.6 1.8M440.0 902.8l-0.6 1.8M458.2 891.6l-0.6 1.8M427.6 912.6l-0.6 1.8M424.5 917.0l-0.6 1.8M460.4 894.8l-0.6 1.8M455.5 898.8l-0.6 1.8M436.9 905.3l-0.6 1.8M417.6 914.3l-0.6 1.8M434.0 909.7l-0.6 1.8M410.4 856.7l-0.6 1.8M470.6 882.4l-0.6 1.8M414.0 857.4l-0.6 1.8M459.0 831.5l-0.6 1.8M442.9 899.8l-0.6 1.8M440.3 842.1l-0.6 1.8M456.0 832.1l-0.6 1.8M433.8 906.8l-0.6 1.8M417.2 852.2l-0.6 1.8M433.5 836.7l-0.6 1.8M436.8 837.1l-0.6 1.8M420.7 908.6l-0.6 1.8M439.7 898.0l-0.6 1.8M424.1 851.2l-0.6 1.8M458.1 889.9l-0.6 1.8M447.3 844.6l-0.6 1.8M423.6 842.4l-0.6 1.8M451.8 880.3l-0.6 1.8M410.3 855.3l-0.6 1.8M430.8 848.7l-0.6 1.8" stroke="#d0d0ec" stroke-width="2.3" stroke-linecap="round" fill="none"/>
<path d="M423.8 845.7l-0.6 1.8M433.7 905.8l-0.6 1.8M433.8 907.4l-0.6 1.8M439.7 829.5l-0.6 1.8M439.7 829.6l-0.6 1.8M449.7 901.0l-0.6 1.8M456.3 839.5l-0.6 1.8M437.1 908.4l-0.6 1.8M463.6 882.0l-0.6 1.8M452.6 899.6l-0.6 1.8M461.7 825.9l-0.6 1.8M461.5 817.3l-0.6 1.8M455.4 816.3l-0.6 1.8M430.8 911.9l-0.6 1.8M443.2 836.8l-0.6 1.8M461.7 825.5l-0.6 1.8M417.8 917.2l-0.6 1.8M420.2 843.6l-0.6 1.8M458.3 895.0l-0.6 1.8M454.4 829.4l-0.6 1.8M413.2 844.8l-0.6 1.8M455.6 901.6l-0.6 1.8M426.9 839.4l-0.6 1.8M460.8 884.7l-0.6 1.8M465.0 836.3l-0.6 1.8M436.6 899.4l-0.6 1.8M427.2 845.4l-0.6 1.8M421.3 918.8l-0.6 1.8M424.4 913.7l-0.6 1.8M446.9 906.2l-0.6 1.8M443.4 840.9l-0.6 1.8M424.1 849.8l-0.6 1.8M456.5 887.1l-0.6 1.8M450.0 908.8l-0.6 1.8M446.1 889.0l-0.6 1.8M463.9 891.5l-0.6 1.8M474.1 886.7l-0.6 1.8M449.5 896.1l-0.6 1.8M430.8 849.6l-0.6 1.8M456.2 838.2l-0.6 1.8M421.0 856.6l-0.6 1.8M430.6 907.6l-0.6 1.8M427.4 908.7l-0.6 1.8M446.6 842.1l-0.6 1.8M464.0 894.1l-0.6 1.8M461.2 895.2l-0.6 1.8M436.5 831.5l-0.6 1.8M458.7 825.1l-0.6 1.8M446.8 905.4l-0.6 1.8M419.6 833.6l-0.6 1.8M464.0 894.7l-0.6 1.8M413.1 843.0l-0.6 1.8M493.3 872.8l-0.6 1.8M458.8 827.4l-0.6 1.8M431.1 917.5l-0.6 1.8M443.1 834.2l-0.6 1.8M460.9 888.1l-0.6 1.8M422.0 930.4l-0.6 1.8M465.7 837.3l-0.6 1.8M452.1 888.1l-0.6 1.8M458.0 886.1l-0.6 1.8M434.0 910.9l-0.6 1.8M443.0 901.1l-0.6 1.8M449.5 896.0l-0.6 1.8M442.9 898.3l-0.6 1.8M440.1 905.8l-0.6 1.8M437.5 839.8l-0.6 1.8M446.8 905.7l-0.6 1.8M466.6 886.9l-0.6 1.8M437.0 842.3l-0.6 1.8M414.8 924.9l-0.6 1.8M439.8 899.8l-0.6 1.8" stroke="#6060d0" stroke-width="2.3" stroke-linecap="round" fill="none"/>
<path d="M417.4 854.1l-0.6 1.8M464.8 828.6l-0.6 1.8M446.7 902.3l-0.6 1.8M452.5 897.1l-0.6 1.8" stroke="#d84848" stroke-width="2.3" stroke-linecap="round" fill="none"/>
<circle cx="526.2" cy="812.0" r="2.8" fill="url(#sb0)"/><circle cx="503.5" cy="816.6" r="2.8" fill="url(#sb0)"/><circle cx="529.3" cy="818.4" r="2.8" fill="url(#sb0)"/><circle cx="498.8" cy="821.9" r="2.8" fill="url(#sb2)"/><circle cx="517.3" cy="823.0" r="2.8" fill="url(#sb3)"/><circle cx="521.2" cy="824.7" r="2.8" fill="url(#sb2)"/><circle cx="530.7" cy="825.4" r="2.8" fill="url(#sb0)"/><circle cx="469.8" cy="825.9" r="2.8" fill="url(#sb2)"/><circle cx="478.6" cy="827.1" r="2.8" fill="url(#sb0)"/><circle cx="514.4" cy="828.4" r="2.8" fill="url(#sb3)"/><circle cx="485.7" cy="828.5" r="2.8" fill="url(#sb0)"/><circle cx="482.4" cy="829.4" r="2.8" fill="url(#sb0)"/><circle cx="465.9" cy="830.6" r="2.8" fill="url(#sb0)"/><circle cx="585.0" cy="830.8" r="2.8" fill="url(#sb0)"/><circle cx="568.6" cy="830.8" r="2.8" fill="url(#sb0)"/><circle cx="475.4" cy="831.1" r="2.8" fill="url(#sb0)"/><circle cx="553.0" cy="831.3" r="2.8" fill="url(#sb0)"/><circle cx="491.2" cy="831.4" r="2.8" fill="url(#sb0)"/><circle cx="480.4" cy="832.4" r="2.8" fill="url(#sb3)"/><circle cx="463.3" cy="833.4" r="2.8" fill="url(#sb0)"/><circle cx="494.1" cy="833.6" r="2.8" fill="url(#sb0)"/><circle cx="469.0" cy="834.6" r="2.8" fill="url(#sb0)"/><circle cx="476.6" cy="835.2" r="2.8" fill="url(#sb3)"/><circle cx="480.4" cy="836.2" r="2.8" fill="url(#sb0)"/><circle cx="488.5" cy="836.5" r="2.8" fill="url(#sb0)"/><circle cx="458.4" cy="836.8" r="2.8" fill="url(#sb0)"/><circle cx="494.3" cy="837.2" r="2.8" fill="url(#sb0)"/><circle cx="461.8" cy="837.5" r="2.8" fill="url(#sb0)"/><circle cx="573.6" cy="837.9" r="2.8" fill="url(#sb0)"/><circle cx="464.3" cy="839.9" r="2.8" fill="url(#sb3)"/><circle cx="469.6" cy="840.7" r="2.8" fill="url(#sb0)"/><circle cx="486.0" cy="842.2" r="2.8" fill="url(#sb0)"/><circle cx="469.8" cy="845.3" r="2.8" fill="url(#sb0)"/><circle cx="488.1" cy="845.3" r="2.8" fill="url(#sb2)"/><circle cx="466.6" cy="845.4" r="2.8" fill="url(#sb0)"/><circle cx="473.0" cy="845.6" r="2.8" fill="url(#sb0)"/><circle cx="477.6" cy="847.4" r="2.8" fill="url(#sb3)"/><circle cx="484.5" cy="847.4" r="2.8" fill="url(#sb0)"/><circle cx="559.6" cy="847.5" r="2.8" fill="url(#sb0)"/><circle cx="461.3" cy="847.9" r="2.8" fill="url(#sb0)"/><circle cx="574.0" cy="849.7" r="2.8" fill="url(#sb0)"/><circle cx="470.6" cy="850.5" r="2.8" fill="url(#sb0)"/><circle cx="566.8" cy="850.5" r="2.8" fill="url(#sb3)"/><circle cx="474.2" cy="850.7" r="2.8" fill="url(#sb0)"/><circle cx="601.2" cy="852.9" r="2.8" fill="url(#sb0)"/><circle cx="479.2" cy="853.4" r="2.8" fill="url(#sb0)"/><circle cx="541.7" cy="854.3" r="2.8" fill="url(#sb0)"/><circle cx="582.7" cy="854.3" r="2.8" fill="url(#sb3)"/><circle cx="553.6" cy="855.2" r="2.8" fill="url(#sb0)"/><circle cx="502.0" cy="855.7" r="2.8" fill="url(#sb0)"/><circle cx="512.7" cy="856.3" r="2.8" fill="url(#sb0)"/><circle cx="520.0" cy="856.5" r="2.8" fill="url(#sb0)"/><circle cx="493.5" cy="857.2" r="2.8" fill="url(#sb0)"/><circle cx="499.0" cy="858.3" r="2.8" fill="url(#sb0)"/><circle cx="504.4" cy="858.4" r="2.8" fill="url(#sb2)"/><circle cx="535.3" cy="858.7" r="2.8" fill="url(#sb0)"/><circle cx="515.0" cy="859.0" r="2.8" fill="url(#sb0)"/><circle cx="603.6" cy="860.9" r="2.8" fill="url(#sb0)"/><circle cx="568.2" cy="861.0" r="2.8" fill="url(#sb0)"/><circle cx="593.6" cy="861.0" r="2.8" fill="url(#sb4)"/><circle cx="539.0" cy="862.3" r="2.8" fill="url(#sb0)"/><circle cx="484.9" cy="863.3" r="2.8" fill="url(#sb0)"/><circle cx="502.9" cy="864.0" r="2.8" fill="url(#sb0)"/><circle cx="552.5" cy="864.2" r="2.8" fill="url(#sb0)"/><circle cx="493.7" cy="864.6" r="2.8" fill="url(#sb0)"/><circle cx="527.1" cy="865.9" r="2.8" fill="url(#sb0)"/><circle cx="481.4" cy="866.9" r="2.8" fill="url(#sb0)"/><circle cx="543.7" cy="868.0" r="2.8" fill="url(#sb3)"/><circle cx="591.0" cy="868.4" r="2.8" fill="url(#sb0)"/><circle cx="501.6" cy="869.6" r="2.8" fill="url(#sb0)"/><circle cx="518.9" cy="870.0" r="2.8" fill="url(#sb0)"/><circle cx="511.0" cy="871.4" r="2.8" fill="url(#sb0)"/><circle cx="531.7" cy="871.5" r="2.8" fill="url(#sb0)"/><circle cx="475.9" cy="872.4" r="2.8" fill="url(#sb0)"/><circle cx="572.9" cy="872.7" r="2.8" fill="url(#sb0)"/><circle cx="564.5" cy="873.2" r="2.8" fill="url(#sb0)"/><circle cx="501.7" cy="873.3" r="2.8" fill="url(#sb3)"/><circle cx="542.4" cy="874.0" r="2.8" fill="url(#sb0)"/><circle cx="547.7" cy="874.1" r="2.8" fill="url(#sb3)"/><circle cx="496.3" cy="874.1" r="2.8" fill="url(#sb3)"/><circle cx="537.6" cy="875.1" r="2.8" fill="url(#sb0)"/><circle cx="488.1" cy="876.1" r="2.8" fill="url(#sb0)"/><circle cx="481.2" cy="876.4" r="2.8" fill="url(#sb0)"/><circle cx="518.2" cy="877.0" r="2.8" fill="url(#sb0)"/><circle cx="475.7" cy="877.5" r="2.8" fill="url(#sb0)"/><circle cx="525.4" cy="877.5" r="2.8" fill="url(#sb0)"/><circle cx="593.8" cy="877.5" r="2.8" fill="url(#sb0)"/><circle cx="546.8" cy="878.3" r="2.8" fill="url(#sb0)"/><circle cx="511.7" cy="878.5" r="2.8" fill="url(#sb0)"/><circle cx="522.3" cy="879.0" r="2.8" fill="url(#sb0)"/><circle cx="514.8" cy="879.9" r="2.8" fill="url(#sb0)"/><circle cx="571.6" cy="880.6" r="2.8" fill="url(#sb3)"/><circle cx="493.4" cy="880.6" r="2.8" fill="url(#sb0)"/><circle cx="497.9" cy="881.4" r="2.8" fill="url(#sb0)"/><circle cx="535.8" cy="883.1" r="2.8" fill="url(#sb0)"/><circle cx="526.4" cy="883.2" r="2.8" fill="url(#sb3)"/><circle cx="563.8" cy="883.9" r="2.8" fill="url(#sb0)"/><circle cx="521.1" cy="884.2" r="2.8" fill="url(#sb2)"/><circle cx="485.3" cy="885.2" r="2.8" fill="url(#sb0)"/><circle cx="499.1" cy="885.5" r="2.8" fill="url(#sb3)"/><circle cx="502.4" cy="886.3" r="2.8" fill="url(#sb0)"/><circle cx="550.9" cy="887.6" r="2.8" fill="url(#sb0)"/><circle cx="516.6" cy="887.7" r="2.8" fill="url(#sb0)"/><circle cx="542.6" cy="888.1" r="2.8" fill="url(#sb0)"/><circle cx="527.2" cy="888.1" r="2.8" fill="url(#sb3)"/><circle cx="505.6" cy="888.9" r="2.8" fill="url(#sb0)"/><circle cx="489.3" cy="889.1" r="2.8" fill="url(#sb0)"/><circle cx="495.4" cy="890.6" r="2.8" fill="url(#sb0)"/><circle cx="562.5" cy="891.4" r="2.8" fill="url(#sb0)"/><circle cx="531.9" cy="891.9" r="2.8" fill="url(#sb0)"/><circle cx="510.7" cy="892.6" r="2.8" fill="url(#sb0)"/><circle cx="574.8" cy="896.7" r="2.8" fill="url(#sb0)"/><circle cx="501.0" cy="897.2" r="2.8" fill="url(#sb0)"/><circle cx="494.1" cy="899.4" r="2.8" fill="url(#sb0)"/><circle cx="596.7" cy="899.7" r="2.8" fill="url(#sb0)"/><circle cx="508.4" cy="901.6" r="2.8" fill="url(#sb0)"/><circle cx="557.1" cy="903.0" r="2.8" fill="url(#sb2)"/><circle cx="482.0" cy="903.1" r="2.8" fill="url(#sb0)"/><circle cx="487.0" cy="905.6" r="2.8" fill="url(#sb0)"/><circle cx="572.1" cy="906.7" r="2.8" fill="url(#sb0)"/><circle cx="478.9" cy="906.7" r="2.8" fill="url(#sb0)"/><circle cx="506.7" cy="908.3" r="2.8" fill="url(#sb0)"/><circle cx="488.8" cy="910.0" r="2.8" fill="url(#sb0)"/><circle cx="532.0" cy="912.2" r="2.8" fill="url(#sb0)"/><circle cx="515.6" cy="912.6" r="2.8" fill="url(#sb0)"/><circle cx="527.5" cy="912.9" r="2.8" fill="url(#sb0)"/><circle cx="503.8" cy="916.0" r="2.8" fill="url(#sb3)"/><circle cx="547.0" cy="916.0" r="2.8" fill="url(#sb0)"/><circle cx="541.1" cy="916.2" r="2.8" fill="url(#sb0)"/><circle cx="481.9" cy="916.3" r="2.8" fill="url(#sb0)"/><circle cx="475.7" cy="916.3" r="2.8" fill="url(#sb0)"/><circle cx="470.0" cy="916.4" r="2.8" fill="url(#sb0)"/><circle cx="519.1" cy="918.9" r="2.8" fill="url(#sb0)"/><circle cx="566.7" cy="920.4" r="2.8" fill="url(#sb0)"/><circle cx="506.6" cy="920.9" r="2.8" fill="url(#sb3)"/><circle cx="512.2" cy="921.7" r="2.8" fill="url(#sb3)"/><circle cx="516.1" cy="924.0" r="2.8" fill="url(#sb0)"/><circle cx="471.6" cy="925.5" r="2.8" fill="url(#sb0)"/><circle cx="556.8" cy="928.3" r="2.8" fill="url(#sb0)"/><circle cx="517.6" cy="928.6" r="2.8" fill="url(#sb2)"/><circle cx="496.0" cy="931.1" r="2.8" fill="url(#sb0)"/><circle cx="554.9" cy="932.4" r="2.8" fill="url(#sb0)"/><circle cx="504.4" cy="934.5" r="2.8" fill="url(#sb0)"/><circle cx="493.4" cy="934.5" r="2.8" fill="url(#sb0)"/><circle cx="511.3" cy="935.8" r="2.8" fill="url(#sb0)"/><circle cx="553.4" cy="939.9" r="2.8" fill="url(#sb0)"/><circle cx="478.0" cy="940.1" r="2.8" fill="url(#sb0)"/><circle cx="541.4" cy="940.8" r="2.8" fill="url(#sb0)"/><circle cx="519.5" cy="940.8" r="2.8" fill="url(#sb0)"/><circle cx="514.8" cy="940.9" r="2.8" fill="url(#sb0)"/><circle cx="473.1" cy="944.8" r="2.8" fill="url(#sb2)"/><circle cx="502.6" cy="949.1" r="2.8" fill="url(#sb0)"/><circle cx="493.5" cy="950.0" r="2.8" fill="url(#sb0)"/><circle cx="533.0" cy="950.6" r="2.8" fill="url(#sb0)"/><circle cx="510.9" cy="950.9" r="2.8" fill="url(#sb0)"/><circle cx="486.6" cy="952.9" r="2.8" fill="url(#sb3)"/>
<path d="M487.4 823.5l-0.6 1.8M482.0 818.3l-0.6 1.8M473.8 820.3l-0.6 1.8M476.6 821.5l-0.6 1.8M484.5 808.1l-0.6 1.8M487.2 808.0l-0.6 1.8M476.7 825.1l-0.6 1.8M473.9 825.1l-0.6 1.8M465.5 827.8l-0.6 1.8M476.6 823.3l-0.6 1.8M484.7 818.4l-0.6 1.8M468.2 822.9l-0.6 1.8M485.7 873.9l-0.6 1.8M475.3 881.1l-0.6 1.8M488.2 871.0l-0.6 1.8" stroke="#6060d0" stroke-width="2.3" stroke-linecap="round" fill="none"/>
<path d="M468.2 822.3l-0.6 1.8M484.6 812.7l-0.6 1.8M465.3 824.3l-0.6 1.8M467.9 814.2l-0.6 1.8M465.5 829.7l-0.6 1.8M471.2 830.4l-0.6 1.8M476.4 813.2l-0.6 1.8M471.1 825.9l-0.6 1.8M471.1 826.4l-0.6 1.8M471.0 823.0l-0.6 1.8M465.2 820.2l-0.6 1.8M482.0 818.4l-0.6 1.8M484.6 815.9l-0.6 1.8M476.6 823.4l-0.6 1.8M474.0 826.9l-0.6 1.8M479.3 818.4l-0.6 1.8M468.4 831.5l-0.6 1.8M487.3 817.2l-0.6 1.8M479.4 823.8l-0.6 1.8M465.2 820.3l-0.6 1.8M474.0 827.2l-0.6 1.8M470.8 814.5l-0.6 1.8M476.7 826.6l-0.6 1.8M481.9 813.4l-0.6 1.8M487.2 808.8l-0.6 1.8M471.0 822.9l-0.6 1.8M474.0 826.8l-0.6 1.8M483.2 879.2l-0.6 1.8M488.3 874.6l-0.6 1.8M472.9 891.1l-0.6 1.8M478.2 888.3l-0.6 1.8M470.1 888.7l-0.6 1.8" stroke="#3c3cc4" stroke-width="2.3" stroke-linecap="round" fill="none"/>
<path d="M479.2 815.2l-0.6 1.8M467.9 812.9l-0.6 1.8M471.2 829.0l-0.6 1.8M479.1 811.4l-0.6 1.8M476.9 832.1l-0.6 1.8" stroke="#9a9ade" stroke-width="2.3" stroke-linecap="round" fill="none"/>
<path d="M479.2 815.1l-0.6 1.8M464.8 897.0l-0.6 1.8M483.3 882.7l-0.6 1.8" stroke="#d84848" stroke-width="2.3" stroke-linecap="round" fill="none"/>
<line x1="408.5" y1="968.6" x2="397.9" y2="818.6" stroke="#1a1a1a" stroke-width="1.5"/>
<line x1="408.5" y1="968.6" x2="556.7" y2="1015.7" stroke="#1a1a1a" stroke-width="1.5"/>
<line x1="556.7" y1="1015.7" x2="628.0" y2="939.5" stroke="#1a1a1a" stroke-width="1.5"/>
<line x1="408.5" y1="968.6" x2="412.5" y2="968.3" stroke="#1a1a1a" stroke-width="1"/>
<line x1="407.9" y1="960.0" x2="410.4" y2="959.7" stroke="#1a1a1a" stroke-width="1"/>
<line x1="407.3" y1="951.3" x2="411.3" y2="951.0" stroke="#1a1a1a" stroke-width="1"/>
<line x1="406.7" y1="942.6" x2="409.2" y2="942.3" stroke="#1a1a1a" stroke-width="1"/>
<line x1="406.1" y1="933.7" x2="410.1" y2="933.4" stroke="#1a1a1a" stroke-width="1"/>
<line x1="405.4" y1="924.7" x2="407.9" y2="924.4" stroke="#1a1a1a" stroke-width="1"/>
<line x1="404.8" y1="915.7" x2="408.8" y2="915.4" stroke="#1a1a1a" stroke-width="1"/>
<line x1="404.1" y1="906.5" x2="406.6" y2="906.2" stroke="#1a1a1a" stroke-width="1"/>
<line x1="403.5" y1="897.2" x2="407.5" y2="896.9" stroke="#1a1a1a" stroke-width="1"/>
<line x1="402.8" y1="887.8" x2="405.3" y2="887.5" stroke="#1a1a1a" stroke-width="1"/>
<line x1="402.1" y1="878.2" x2="406.1" y2="877.9" stroke="#1a1a1a" stroke-width="1"/>
<line x1="401.4" y1="868.6" x2="403.9" y2="868.3" stroke="#1a1a1a" stroke-width="1"/>
<line x1="400.7" y1="858.9" x2="404.7" y2="858.6" stroke="#1a1a1a" stroke-width="1"/>
<line x1="400.0" y1="849.0" x2="402.5" y2="848.7" stroke="#1a1a1a" stroke-width="1"/>
<line x1="399.3" y1="839.0" x2="403.3" y2="838.7" stroke="#1a1a1a" stroke-width="1"/>
<line x1="398.6" y1="828.9" x2="401.1" y2="828.6" stroke="#1a1a1a" stroke-width="1"/>
<line x1="397.9" y1="818.6" x2="401.9" y2="818.3" stroke="#1a1a1a" stroke-width="1"/>
<line x1="408.5" y1="968.6" x2="407.9" y2="966.2" stroke="#1a1a1a" stroke-width="1"/>
<line x1="556.7" y1="1015.7" x2="554.4" y2="1016.0" stroke="#1a1a1a" stroke-width="1"/>
<line x1="422.5" y1="973.0" x2="421.9" y2="970.6" stroke="#1a1a1a" stroke-width="1"/>
<line x1="565.5" y1="1006.4" x2="563.2" y2="1006.6" stroke="#1a1a1a" stroke-width="1"/>
<line x1="436.7" y1="977.5" x2="436.1" y2="975.2" stroke="#1a1a1a" stroke-width="1"/>
<line x1="573.9" y1="997.4" x2="571.6" y2="997.6" stroke="#1a1a1a" stroke-width="1"/>
<line x1="451.3" y1="982.2" x2="450.7" y2="979.8" stroke="#1a1a1a" stroke-width="1"/>
<line x1="582.0" y1="988.7" x2="579.7" y2="989.0" stroke="#1a1a1a" stroke-width="1"/>
<line x1="466.3" y1="986.9" x2="465.6" y2="984.6" stroke="#1a1a1a" stroke-width="1"/>
<line x1="589.7" y1="980.5" x2="587.5" y2="980.7" stroke="#1a1a1a" stroke-width="1"/>
<line x1="481.5" y1="991.8" x2="480.9" y2="989.4" stroke="#1a1a1a" stroke-width="1"/>
<line x1="597.2" y1="972.5" x2="594.9" y2="972.8" stroke="#1a1a1a" stroke-width="1"/>
<line x1="497.2" y1="996.8" x2="496.5" y2="994.4" stroke="#1a1a1a" stroke-width="1"/>
<line x1="604.3" y1="964.8" x2="602.1" y2="965.1" stroke="#1a1a1a" stroke-width="1"/>
<line x1="513.2" y1="1001.9" x2="512.6" y2="999.5" stroke="#1a1a1a" stroke-width="1"/>
<line x1="611.2" y1="957.5" x2="609.0" y2="957.7" stroke="#1a1a1a" stroke-width="1"/>
<line x1="529.6" y1="1007.1" x2="529.0" y2="1004.7" stroke="#1a1a1a" stroke-width="1"/>
<line x1="617.9" y1="950.4" x2="615.6" y2="950.6" stroke="#1a1a1a" stroke-width="1"/>
<line x1="546.4" y1="1012.5" x2="545.8" y2="1010.1" stroke="#1a1a1a" stroke-width="1"/>
<line x1="624.3" y1="943.5" x2="622.1" y2="943.8" stroke="#1a1a1a" stroke-width="1"/>
<text transform="translate(394.9,825.1) rotate(-8.0) skewX(-12)" font-size="10" font-weight="bold" fill="#1a1a1a" stroke="#1a1a1a" stroke-width="0.2" text-anchor="end" font-family='"Liberation Sans", sans-serif' >1.2</text>
<text transform="translate(396.3,845.5) rotate(-11.5) skewX(-12)" font-size="10" font-weight="bold" fill="#1a1a1a" stroke="#1a1a1a" stroke-width="0.2" text-anchor="end" font-family='"Liberation Sans", sans-serif' >0.9</text>
<text transform="translate(397.7,865.4) rotate(-15.0) skewX(-12)" font-size="10" font-weight="bold" fill="#1a1a1a" stroke="#1a1a1a" stroke-width="0.2" text-anchor="end" font-family='"Liberation Sans", sans-serif' >0.6</text>
<text transform="translate(399.1,884.7) rotate(-18.5) skewX(-12)" font-size="10" font-weight="bold" fill="#1a1a1a" stroke="#1a1a1a" stroke-width="0.2" text-anchor="end" font-family='"Liberation Sans", sans-serif' >0.3</text>
<text transform="translate(400.5,903.7) rotate(-22.0) skewX(-12)" font-size="10" font-weight="bold" fill="#1a1a1a" stroke="#1a1a1a" stroke-width="0.2" text-anchor="end" font-family='"Liberation Sans", sans-serif' >0.0</text>
<text transform="translate(401.8,922.2) rotate(-25.5) skewX(-12)" font-size="10" font-weight="bold" fill="#1a1a1a" stroke="#1a1a1a" stroke-width="0.2" text-anchor="end" font-family='"Liberation Sans", sans-serif' >-0.3</text>
<text transform="translate(403.1,940.2) rotate(-29.0) skewX(-12)" font-size="10" font-weight="bold" fill="#1a1a1a" stroke="#1a1a1a" stroke-width="0.2" text-anchor="end" font-family='"Liberation Sans", sans-serif' >-0.6</text>
<text transform="translate(404.3,957.8) rotate(-32.5) skewX(-12)" font-size="10" font-weight="bold" fill="#1a1a1a" stroke="#1a1a1a" stroke-width="0.2" text-anchor="end" font-family='"Liberation Sans", sans-serif' >-0.9</text>
<text transform="translate(405.5,975.1) rotate(-36.0) skewX(-12)" font-size="10" font-weight="bold" fill="#1a1a1a" stroke="#1a1a1a" stroke-width="0.2" text-anchor="end" font-family='"Liberation Sans", sans-serif' >-1.2</text>
<text transform="translate(422.2,981.0) rotate(-50) skewX(-22)" font-size="9.8" font-weight="bold" fill="#1a1a1a" text-anchor="middle" dominant-baseline="central" font-family='"Liberation Sans", sans-serif'>100</text>
<text transform="translate(454.7,991.5) rotate(-50) skewX(-22)" font-size="9.8" font-weight="bold" fill="#1a1a1a" text-anchor="middle" dominant-baseline="central" font-family='"Liberation Sans", sans-serif'>150</text>
<text transform="translate(487.2,1002.0) rotate(-50) skewX(-22)" font-size="9.8" font-weight="bold" fill="#1a1a1a" text-anchor="middle" dominant-baseline="central" font-family='"Liberation Sans", sans-serif'>200</text>
<text transform="translate(518.5,1011.2) rotate(-50) skewX(-22)" font-size="9.8" font-weight="bold" fill="#1a1a1a" text-anchor="middle" dominant-baseline="central" font-family='"Liberation Sans", sans-serif'>250</text>
<text transform="translate(551.0,1024.0) rotate(-50) skewX(-22)" font-size="9.8" font-weight="bold" fill="#1a1a1a" text-anchor="middle" dominant-baseline="central" font-family='"Liberation Sans", sans-serif'>300</text>
<text transform="translate(583.7,1006.0) rotate(16) skewX(-25)" font-size="9.4" font-weight="bold" fill="#1a1a1a" text-anchor="middle" dominant-baseline="central" font-family='"Liberation Sans", sans-serif'>100</text>
<text transform="translate(596.5,988.5) rotate(16) skewX(-25)" font-size="9.4" font-weight="bold" fill="#1a1a1a" text-anchor="middle" dominant-baseline="central" font-family='"Liberation Sans", sans-serif'>150</text>
<text transform="translate(613.3,972.7) rotate(16) skewX(-25)" font-size="9.4" font-weight="bold" fill="#1a1a1a" text-anchor="middle" dominant-baseline="central" font-family='"Liberation Sans", sans-serif'>200</text>
<text transform="translate(626.8,957.5) rotate(16) skewX(-25)" font-size="9.4" font-weight="bold" fill="#1a1a1a" text-anchor="middle" dominant-baseline="central" font-family='"Liberation Sans", sans-serif'>250</text>
<text transform="translate(640.2,943.3) rotate(16) skewX(-25)" font-size="9.4" font-weight="bold" fill="#1a1a1a" text-anchor="middle" dominant-baseline="central" font-family='"Liberation Sans", sans-serif'>300</text>
<text transform="translate(380.5,909.0) rotate(86)" font-size="11.2" font-weight="bold" fill="#1a1a1a" stroke="#1a1a1a" stroke-width="0.25" text-anchor="middle" dominant-baseline="central" font-family='"Liberation Sans", sans-serif'>Orientation angle (rad)</text>
<text transform="translate(460.0,1007.7) rotate(20) skewX(-8)" font-size="11.2" font-weight="bold" fill="#1a1a1a" text-anchor="middle" dominant-baseline="central" font-family='"Liberation Sans", sans-serif'>Nanofin width (nm)</text>
<text transform="translate(623.6,983.5) rotate(-46) scale(0.8,1)" font-size="10.5" font-weight="bold" fill="#1a1a1a" text-anchor="middle" dominant-baseline="central" font-family='"Liberation Sans", sans-serif'>Nanofin length (nm)</text>
<rect x="645.8" y="815.0" width="11" height="117.8" fill="url(#cb)"/>
<text x="663.5" y="821.0" font-size="10" font-weight="bold" fill="#1a1a1a" font-family='"Liberation Sans", sans-serif'>25000</text>
<text x="663.5" y="844.0" font-size="10" font-weight="bold" fill="#1a1a1a" font-family='"Liberation Sans", sans-serif'>20000</text>
<text x="663.5" y="867.0" font-size="10" font-weight="bold" fill="#1a1a1a" font-family='"Liberation Sans", sans-serif'>15000</text>
<text x="663.5" y="890.0" font-size="10" font-weight="bold" fill="#1a1a1a" font-family='"Liberation Sans", sans-serif'>10000</text>
<text x="663.5" y="913.0" font-size="10" font-weight="bold" fill="#1a1a1a" font-family='"Liberation Sans", sans-serif'>5000</text>
<text x="663.5" y="935.0" font-size="10" font-weight="bold" fill="#1a1a1a" font-family='"Liberation Sans", sans-serif'>0</text>
<text x="383.9" y="781.3" font-size="22.5" font-weight="bold" fill="#111" stroke="#111" stroke-width="0.4" font-family='"Liberation Serif", serif'>f</text>
<rect x="28" y="504" width="677" height="536" fill="none" stroke="#000" stroke-width="2.2"/>
</svg></body></html>
